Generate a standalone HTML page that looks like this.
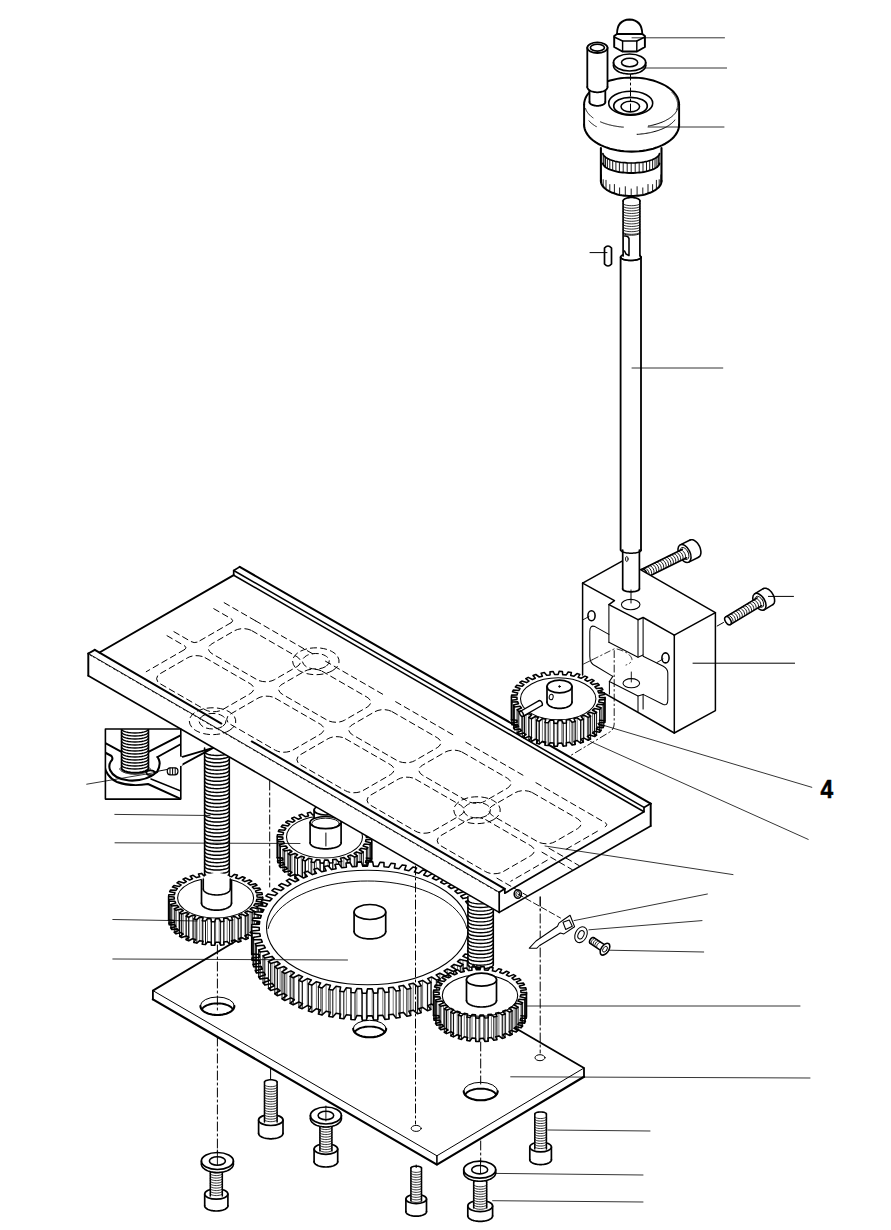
<!DOCTYPE html>
<html><head><meta charset="utf-8"><style>
html,body{margin:0;padding:0;background:#fff;}
svg{display:block;}
text{font-family:"Liberation Sans",sans-serif;}
</style></head><body>
<svg width="891" height="1230" viewBox="0 0 891 1230" stroke="#000" fill="none" stroke-linecap="round" stroke-linejoin="round">
<rect width="891" height="1230" fill="#fff" stroke="none"/>
<path d="M152.9 990.6 L300 902.8 L584 1068 L584 1076.8 L436.9 1164.6 L152.9 999.4Z" stroke-width="0.00" fill="#fff" stroke="none"/>
<path d="M152.9 999.4 L152.9 990.6 L300 902.8 L584 1068 L584 1076.8" stroke-width="1.82" fill="none" />
<path d="M152.9 999.4 L436.9 1164.6 L584 1076.8" stroke-width="2.21" fill="none" />
<path d="M152.9 990.6 L436.9 1155.8 L584 1068" stroke-width="1.00" fill="none" />
<line x1="436.9" y1="1155.8" x2="436.9" y2="1164.6" stroke-width="1.56" />
<ellipse cx="217.4" cy="1006" rx="17" ry="9" stroke-width="1.00" fill="none" />
<path d="M234.4 1006 L234.3 1006.7 L234.2 1007.4 L233.9 1008.1 L233.6 1008.8 L233.1 1009.4 L232.5 1010.1 L231.9 1010.7 L231.2 1011.3 L230.3 1011.8 L229.4 1012.4 L228.4 1012.8 L227.4 1013.3 L226.3 1013.7 L225.1 1014 L223.9 1014.3 L222.7 1014.6 L221.4 1014.8 L220.1 1014.9 L218.7 1015 L217.4 1015 L216.1 1015 L214.7 1014.9 L213.4 1014.8 L212.1 1014.6 L210.9 1014.3 L209.7 1014 L208.5 1013.7 L207.4 1013.3 L206.4 1012.8 L205.4 1012.4 L204.5 1011.8 L203.6 1011.3 L202.9 1010.7 L202.3 1010.1 L201.7 1009.4 L201.2 1008.8 L200.9 1008.1 L200.6 1007.4 L200.5 1006.7 L200.4 1006" stroke-width="2.08" fill="none" />
<path d="M201.9 1009.5 L202.2 1009 L202.5 1008.5 L202.9 1008 L203.3 1007.5 L203.9 1007 L204.5 1006.6 L205.1 1006.2 L205.8 1005.8 L206.6 1005.4 L207.4 1005.1 L208.3 1004.8 L209.2 1004.5 L210.1 1004.2 L211.1 1004 L212.1 1003.8 L213.1 1003.6 L214.2 1003.5 L215.2 1003.4 L216.3 1003.4 L217.4 1003.4 L218.5 1003.4 L219.6 1003.4 L220.6 1003.5 L221.7 1003.6 L222.7 1003.8 L223.7 1004 L224.7 1004.2 L225.6 1004.5 L226.5 1004.8 L227.4 1005.1 L228.2 1005.4 L229 1005.8 L229.7 1006.2 L230.3 1006.6 L230.9 1007 L231.5 1007.5 L231.9 1008 L232.3 1008.5 L232.6 1009 L232.9 1009.5" stroke-width="1.95" fill="none" />
<ellipse cx="369.7" cy="1028.8" rx="16.5" ry="8.5" stroke-width="1.00" fill="none" />
<path d="M386.2 1028.8 L386.1 1029.5 L386 1030.1 L385.7 1030.8 L385.4 1031.4 L384.9 1032.1 L384.4 1032.7 L383.8 1033.2 L383 1033.8 L382.2 1034.3 L381.4 1034.8 L380.4 1035.3 L379.4 1035.7 L378.3 1036 L377.2 1036.4 L376 1036.7 L374.8 1036.9 L373.6 1037.1 L372.3 1037.2 L371 1037.3 L369.7 1037.3 L368.4 1037.3 L367.1 1037.2 L365.8 1037.1 L364.6 1036.9 L363.4 1036.7 L362.2 1036.4 L361.1 1036 L360 1035.7 L359 1035.3 L358 1034.8 L357.2 1034.3 L356.4 1033.8 L355.6 1033.2 L355 1032.7 L354.5 1032.1 L354 1031.4 L353.7 1030.8 L353.4 1030.1 L353.3 1029.5 L353.2 1028.8" stroke-width="2.08" fill="none" />
<path d="M354.7 1032.4 L354.9 1031.9 L355.2 1031.4 L355.6 1030.9 L356 1030.5 L356.6 1030.1 L357.1 1029.7 L357.8 1029.3 L358.5 1028.9 L359.2 1028.5 L360 1028.2 L360.8 1027.9 L361.7 1027.6 L362.6 1027.4 L363.6 1027.2 L364.5 1027 L365.5 1026.8 L366.6 1026.7 L367.6 1026.6 L368.6 1026.6 L369.7 1026.6 L370.8 1026.6 L371.8 1026.6 L372.8 1026.7 L373.9 1026.8 L374.9 1027 L375.8 1027.2 L376.8 1027.4 L377.7 1027.6 L378.6 1027.9 L379.4 1028.2 L380.2 1028.5 L380.9 1028.9 L381.6 1029.3 L382.3 1029.7 L382.8 1030.1 L383.4 1030.5 L383.8 1030.9 L384.2 1031.4 L384.5 1031.9 L384.7 1032.4" stroke-width="1.95" fill="none" />
<ellipse cx="480.7" cy="1091.3" rx="17" ry="9" stroke-width="1.00" fill="none" />
<path d="M497.7 1091.3 L497.6 1092 L497.5 1092.7 L497.2 1093.4 L496.9 1094.1 L496.4 1094.7 L495.8 1095.4 L495.2 1096 L494.5 1096.6 L493.6 1097.1 L492.7 1097.7 L491.7 1098.1 L490.7 1098.6 L489.6 1099 L488.4 1099.3 L487.2 1099.6 L486 1099.9 L484.7 1100.1 L483.4 1100.2 L482 1100.3 L480.7 1100.3 L479.4 1100.3 L478 1100.2 L476.7 1100.1 L475.4 1099.9 L474.2 1099.6 L473 1099.3 L471.8 1099 L470.7 1098.6 L469.7 1098.1 L468.7 1097.7 L467.8 1097.1 L466.9 1096.6 L466.2 1096 L465.6 1095.4 L465 1094.7 L464.5 1094.1 L464.2 1093.4 L463.9 1092.7 L463.8 1092 L463.7 1091.3" stroke-width="2.08" fill="none" />
<path d="M465.2 1094.8 L465.5 1094.3 L465.8 1093.8 L466.2 1093.3 L466.6 1092.8 L467.2 1092.3 L467.8 1091.9 L468.4 1091.5 L469.1 1091.1 L469.9 1090.7 L470.7 1090.4 L471.6 1090.1 L472.5 1089.8 L473.4 1089.5 L474.4 1089.3 L475.4 1089.1 L476.4 1088.9 L477.5 1088.8 L478.5 1088.7 L479.6 1088.7 L480.7 1088.6 L481.8 1088.7 L482.9 1088.7 L483.9 1088.8 L485 1088.9 L486 1089.1 L487 1089.3 L488 1089.5 L488.9 1089.8 L489.8 1090.1 L490.7 1090.4 L491.5 1090.7 L492.3 1091.1 L493 1091.5 L493.6 1091.9 L494.2 1092.3 L494.8 1092.8 L495.2 1093.3 L495.6 1093.8 L495.9 1094.3 L496.2 1094.8" stroke-width="1.95" fill="none" />
<ellipse cx="416.2" cy="1128.4" rx="5" ry="3" stroke-width="1.00" fill="none" />
<ellipse cx="540" cy="1057.7" rx="5" ry="3" stroke-width="1.00" fill="none" />
<line x1="270.6" y1="1069" x2="270.6" y2="1079" stroke-width="1.00" />
<path d="M258.6 1120 L258.7 1119.4 L258.9 1118.9 L259.2 1118.3 L259.7 1117.8 L260.2 1117.3 L260.9 1116.8 L261.7 1116.3 L262.6 1115.9 L263.6 1115.6 L264.7 1115.2 L265.8 1115 L267 1114.8 L268.3 1114.6 L269.5 1114.5 L270.8 1114.5 L272.1 1114.5 L273.3 1114.6 L274.6 1114.8 L275.8 1115 L276.9 1115.2 L278 1115.6 L279 1115.9 L279.9 1116.3 L280.7 1116.8 L281.4 1117.3 L281.9 1117.8 L282.4 1118.3 L282.7 1118.9 L282.9 1119.4 L283 1120 L283 1133.3 L282.9 1133.9 L282.7 1134.5 L282.4 1135 L281.9 1135.5 L281.4 1136.1 L280.7 1136.5 L279.9 1137 L279 1137.4 L278 1137.8 L276.9 1138.1 L275.8 1138.3 L274.6 1138.5 L273.3 1138.7 L272.1 1138.8 L270.8 1138.8 L269.5 1138.8 L268.3 1138.7 L267 1138.5 L265.8 1138.3 L264.7 1138.1 L263.6 1137.8 L262.6 1137.4 L261.7 1137 L260.9 1136.5 L260.2 1136.1 L259.7 1135.5 L259.2 1135 L258.9 1134.5 L258.7 1133.9 L258.6 1133.3Z" stroke-width="0.00" fill="#fff" stroke="none"/>
<line x1="258.6" y1="1120" x2="258.6" y2="1133.3" stroke-width="1.69" />
<line x1="283" y1="1120" x2="283" y2="1133.3" stroke-width="1.69" />
<path d="M283 1133.3 L283 1133.7 L282.8 1134.2 L282.7 1134.6 L282.4 1135 L282.1 1135.4 L281.7 1135.8 L281.2 1136.2 L280.7 1136.5 L280.1 1136.9 L279.4 1137.2 L278.7 1137.5 L278 1137.8 L277.2 1138 L276.3 1138.2 L275.5 1138.4 L274.6 1138.5 L273.6 1138.6 L272.7 1138.7 L271.8 1138.8 L270.8 1138.8 L269.8 1138.8 L268.9 1138.7 L268 1138.6 L267 1138.5 L266.1 1138.4 L265.3 1138.2 L264.4 1138 L263.6 1137.8 L262.9 1137.5 L262.2 1137.2 L261.5 1136.9 L260.9 1136.5 L260.4 1136.2 L259.9 1135.8 L259.5 1135.4 L259.2 1135 L258.9 1134.6 L258.8 1134.2 L258.6 1133.7 L258.6 1133.3" stroke-width="1.69" fill="none" />
<ellipse cx="270.8" cy="1120" rx="12.2" ry="5.5" stroke-width="1.69" fill="#fff" />
<rect x="264.5" y="1082" width="12.6" height="40" fill="#fff" stroke="none"/>
<line x1="264.5" y1="1082" x2="264.5" y2="1122" stroke-width="1.56" />
<line x1="277.1" y1="1082" x2="277.1" y2="1122" stroke-width="1.56" />
<path d="M277.1 1084.6 L276.8 1085.2 L276.1 1085.7 L275.1 1086.1 L273.9 1086.4 L272.4 1086.6 L270.8 1086.7 L269.2 1086.6 L267.7 1086.4 L266.5 1086.1 L265.5 1085.7 L264.8 1085.2 L264.5 1084.6" stroke-width="0.80" fill="none" />
<path d="M277.1 1087.1 L276.8 1087.7 L276.1 1088.2 L275.1 1088.6 L273.9 1088.9 L272.4 1089.1 L270.8 1089.2 L269.2 1089.1 L267.7 1088.9 L266.5 1088.6 L265.5 1088.2 L264.8 1087.7 L264.5 1087.1" stroke-width="0.80" fill="none" />
<path d="M277.1 1089.6 L276.8 1090.2 L276.1 1090.7 L275.1 1091.1 L273.9 1091.4 L272.4 1091.6 L270.8 1091.7 L269.2 1091.6 L267.7 1091.4 L266.5 1091.1 L265.5 1090.7 L264.8 1090.2 L264.5 1089.6" stroke-width="0.80" fill="none" />
<path d="M277.1 1092.1 L276.8 1092.7 L276.1 1093.2 L275.1 1093.6 L273.9 1093.9 L272.4 1094.1 L270.8 1094.2 L269.2 1094.1 L267.7 1093.9 L266.5 1093.6 L265.5 1093.2 L264.8 1092.7 L264.5 1092.1" stroke-width="0.80" fill="none" />
<path d="M277.1 1094.6 L276.8 1095.2 L276.1 1095.7 L275.1 1096.1 L273.9 1096.4 L272.4 1096.6 L270.8 1096.7 L269.2 1096.6 L267.7 1096.4 L266.5 1096.1 L265.5 1095.7 L264.8 1095.2 L264.5 1094.6" stroke-width="0.80" fill="none" />
<path d="M277.1 1097.1 L276.8 1097.7 L276.1 1098.2 L275.1 1098.6 L273.9 1098.9 L272.4 1099.1 L270.8 1099.2 L269.2 1099.1 L267.7 1098.9 L266.5 1098.6 L265.5 1098.2 L264.8 1097.7 L264.5 1097.1" stroke-width="0.80" fill="none" />
<path d="M277.1 1099.6 L276.8 1100.2 L276.1 1100.7 L275.1 1101.1 L273.9 1101.4 L272.4 1101.6 L270.8 1101.7 L269.2 1101.6 L267.7 1101.4 L266.5 1101.1 L265.5 1100.7 L264.8 1100.2 L264.5 1099.6" stroke-width="0.80" fill="none" />
<path d="M277.1 1102.1 L276.8 1102.7 L276.1 1103.2 L275.1 1103.6 L273.9 1103.9 L272.4 1104.1 L270.8 1104.2 L269.2 1104.1 L267.7 1103.9 L266.5 1103.6 L265.5 1103.2 L264.8 1102.7 L264.5 1102.1" stroke-width="0.80" fill="none" />
<path d="M277.1 1104.6 L276.8 1105.2 L276.1 1105.7 L275.1 1106.1 L273.9 1106.4 L272.4 1106.6 L270.8 1106.7 L269.2 1106.6 L267.7 1106.4 L266.5 1106.1 L265.5 1105.7 L264.8 1105.2 L264.5 1104.6" stroke-width="0.80" fill="none" />
<path d="M277.1 1107.1 L276.8 1107.7 L276.1 1108.2 L275.1 1108.6 L273.9 1108.9 L272.4 1109.1 L270.8 1109.2 L269.2 1109.1 L267.7 1108.9 L266.5 1108.6 L265.5 1108.2 L264.8 1107.7 L264.5 1107.1" stroke-width="0.80" fill="none" />
<path d="M277.1 1109.6 L276.8 1110.2 L276.1 1110.7 L275.1 1111.1 L273.9 1111.4 L272.4 1111.6 L270.8 1111.7 L269.2 1111.6 L267.7 1111.4 L266.5 1111.1 L265.5 1110.7 L264.8 1110.2 L264.5 1109.6" stroke-width="0.80" fill="none" />
<path d="M277.1 1112.1 L276.8 1112.7 L276.1 1113.2 L275.1 1113.6 L273.9 1113.9 L272.4 1114.1 L270.8 1114.2 L269.2 1114.1 L267.7 1113.9 L266.5 1113.6 L265.5 1113.2 L264.8 1112.7 L264.5 1112.1" stroke-width="0.80" fill="none" />
<path d="M277.1 1114.6 L276.8 1115.2 L276.1 1115.7 L275.1 1116.1 L273.9 1116.4 L272.4 1116.6 L270.8 1116.7 L269.2 1116.6 L267.7 1116.4 L266.5 1116.1 L265.5 1115.7 L264.8 1115.2 L264.5 1114.6" stroke-width="0.80" fill="none" />
<path d="M277.1 1117.1 L276.8 1117.7 L276.1 1118.2 L275.1 1118.6 L273.9 1118.9 L272.4 1119.1 L270.8 1119.2 L269.2 1119.1 L267.7 1118.9 L266.5 1118.6 L265.5 1118.2 L264.8 1117.7 L264.5 1117.1" stroke-width="0.80" fill="none" />
<path d="M277.1 1119.6 L276.8 1120.2 L276.1 1120.7 L275.1 1121.1 L273.9 1121.4 L272.4 1121.6 L270.8 1121.7 L269.2 1121.6 L267.7 1121.4 L266.5 1121.1 L265.5 1120.7 L264.8 1120.2 L264.5 1119.6" stroke-width="0.80" fill="none" />
<path d="M264.5 1082 L264.6 1081.6 L265 1081.2 L265.6 1080.8 L266.3 1080.4 L267.3 1080.2 L268.4 1080 L269.6 1079.8 L270.8 1079.8 L272 1079.8 L273.2 1080 L274.3 1080.2 L275.3 1080.4 L276 1080.8 L276.6 1081.2 L277 1081.6 L277.1 1082" stroke-width="1.56" fill="none" />
<path d="M314.1 1149 L314.2 1148.4 L314.4 1147.9 L314.7 1147.4 L315.1 1146.8 L315.7 1146.3 L316.4 1145.9 L317.1 1145.4 L318 1145.1 L319 1144.7 L320 1144.4 L321.1 1144.1 L322.3 1143.9 L323.4 1143.8 L324.7 1143.7 L325.9 1143.7 L327.1 1143.7 L328.4 1143.8 L329.5 1143.9 L330.7 1144.1 L331.8 1144.4 L332.8 1144.7 L333.8 1145.1 L334.7 1145.4 L335.4 1145.9 L336.1 1146.3 L336.7 1146.8 L337.1 1147.4 L337.4 1147.9 L337.6 1148.4 L337.7 1149 L337.7 1161.7 L337.6 1162.2 L337.4 1162.8 L337.1 1163.3 L336.7 1163.8 L336.1 1164.3 L335.4 1164.8 L334.7 1165.2 L333.8 1165.6 L332.8 1166 L331.8 1166.3 L330.7 1166.5 L329.5 1166.7 L328.4 1166.9 L327.1 1167 L325.9 1167 L324.7 1167 L323.4 1166.9 L322.3 1166.7 L321.1 1166.5 L320 1166.3 L319 1166 L318 1165.6 L317.1 1165.2 L316.4 1164.8 L315.7 1164.3 L315.1 1163.8 L314.7 1163.3 L314.4 1162.8 L314.2 1162.2 L314.1 1161.7Z" stroke-width="0.00" fill="#fff" stroke="none"/>
<line x1="314.1" y1="1149" x2="314.1" y2="1161.7" stroke-width="1.69" />
<line x1="337.7" y1="1149" x2="337.7" y2="1161.7" stroke-width="1.69" />
<path d="M337.7 1161.7 L337.7 1162.1 L337.6 1162.5 L337.4 1162.9 L337.1 1163.3 L336.8 1163.7 L336.4 1164.1 L336 1164.5 L335.4 1164.8 L334.9 1165.1 L334.2 1165.4 L333.6 1165.7 L332.8 1166 L332.1 1166.2 L331.3 1166.4 L330.4 1166.6 L329.5 1166.7 L328.7 1166.9 L327.7 1166.9 L326.8 1167 L325.9 1167 L325 1167 L324.1 1166.9 L323.1 1166.9 L322.3 1166.7 L321.4 1166.6 L320.5 1166.4 L319.7 1166.2 L319 1166 L318.2 1165.7 L317.6 1165.4 L316.9 1165.1 L316.4 1164.8 L315.8 1164.5 L315.4 1164.1 L315 1163.7 L314.7 1163.3 L314.4 1162.9 L314.2 1162.5 L314.1 1162.1 L314.1 1161.7" stroke-width="1.69" fill="none" />
<ellipse cx="325.9" cy="1149" rx="11.8" ry="5.3" stroke-width="1.69" fill="#fff" />
<rect x="319.9" y="1120" width="12" height="31" fill="#fff" stroke="none"/>
<line x1="319.9" y1="1120" x2="319.9" y2="1151" stroke-width="1.56" />
<line x1="331.9" y1="1120" x2="331.9" y2="1151" stroke-width="1.56" />
<path d="M331.9 1122.6 L331.6 1123.1 L331 1123.6 L330 1124 L328.8 1124.3 L327.4 1124.5 L325.9 1124.6 L324.4 1124.5 L323 1124.3 L321.8 1124 L320.8 1123.6 L320.2 1123.1 L319.9 1122.6" stroke-width="0.80" fill="none" />
<path d="M331.9 1125.1 L331.6 1125.6 L331 1126.1 L330 1126.5 L328.8 1126.8 L327.4 1127 L325.9 1127.1 L324.4 1127 L323 1126.8 L321.8 1126.5 L320.8 1126.1 L320.2 1125.6 L319.9 1125.1" stroke-width="0.80" fill="none" />
<path d="M331.9 1127.6 L331.6 1128.1 L331 1128.6 L330 1129 L328.8 1129.3 L327.4 1129.5 L325.9 1129.6 L324.4 1129.5 L323 1129.3 L321.8 1129 L320.8 1128.6 L320.2 1128.1 L319.9 1127.6" stroke-width="0.80" fill="none" />
<path d="M331.9 1130.1 L331.6 1130.6 L331 1131.1 L330 1131.5 L328.8 1131.8 L327.4 1132 L325.9 1132.1 L324.4 1132 L323 1131.8 L321.8 1131.5 L320.8 1131.1 L320.2 1130.6 L319.9 1130.1" stroke-width="0.80" fill="none" />
<path d="M331.9 1132.6 L331.6 1133.1 L331 1133.6 L330 1134 L328.8 1134.3 L327.4 1134.5 L325.9 1134.6 L324.4 1134.5 L323 1134.3 L321.8 1134 L320.8 1133.6 L320.2 1133.1 L319.9 1132.6" stroke-width="0.80" fill="none" />
<path d="M331.9 1135.1 L331.6 1135.6 L331 1136.1 L330 1136.5 L328.8 1136.8 L327.4 1137 L325.9 1137.1 L324.4 1137 L323 1136.8 L321.8 1136.5 L320.8 1136.1 L320.2 1135.6 L319.9 1135.1" stroke-width="0.80" fill="none" />
<path d="M331.9 1137.6 L331.6 1138.1 L331 1138.6 L330 1139 L328.8 1139.3 L327.4 1139.5 L325.9 1139.6 L324.4 1139.5 L323 1139.3 L321.8 1139 L320.8 1138.6 L320.2 1138.1 L319.9 1137.6" stroke-width="0.80" fill="none" />
<path d="M331.9 1140.1 L331.6 1140.6 L331 1141.1 L330 1141.5 L328.8 1141.8 L327.4 1142 L325.9 1142.1 L324.4 1142 L323 1141.8 L321.8 1141.5 L320.8 1141.1 L320.2 1140.6 L319.9 1140.1" stroke-width="0.80" fill="none" />
<path d="M331.9 1142.6 L331.6 1143.1 L331 1143.6 L330 1144 L328.8 1144.3 L327.4 1144.5 L325.9 1144.6 L324.4 1144.5 L323 1144.3 L321.8 1144 L320.8 1143.6 L320.2 1143.1 L319.9 1142.6" stroke-width="0.80" fill="none" />
<path d="M331.9 1145.1 L331.6 1145.6 L331 1146.1 L330 1146.5 L328.8 1146.8 L327.4 1147 L325.9 1147.1 L324.4 1147 L323 1146.8 L321.8 1146.5 L320.8 1146.1 L320.2 1145.6 L319.9 1145.1" stroke-width="0.80" fill="none" />
<path d="M331.9 1147.6 L331.6 1148.1 L331 1148.6 L330 1149 L328.8 1149.3 L327.4 1149.5 L325.9 1149.6 L324.4 1149.5 L323 1149.3 L321.8 1149 L320.8 1148.6 L320.2 1148.1 L319.9 1147.6" stroke-width="0.80" fill="none" />
<path d="M331.9 1150.1 L331.6 1150.6 L331 1151.1 L330 1151.5 L328.8 1151.8 L327.4 1152 L325.9 1152.1 L324.4 1152 L323 1151.8 L321.8 1151.5 L320.8 1151.1 L320.2 1150.6 L319.9 1150.1" stroke-width="0.80" fill="none" />
<path d="M319.9 1120 L320 1119.6 L320.4 1119.2 L320.9 1118.8 L321.7 1118.5 L322.6 1118.3 L323.6 1118.1 L324.7 1117.9 L325.9 1117.9 L327.1 1117.9 L328.2 1118.1 L329.2 1118.3 L330.1 1118.5 L330.9 1118.8 L331.4 1119.2 L331.8 1119.6 L331.9 1120" stroke-width="1.56" fill="none" />
<path d="M310.4 1115.5 L310.5 1114.6 L310.7 1113.7 L311.2 1112.9 L311.7 1112 L312.5 1111.2 L313.4 1110.5 L314.4 1109.8 L315.5 1109.2 L316.8 1108.6 L318.1 1108.1 L319.6 1107.7 L321.1 1107.4 L322.7 1107.2 L324.3 1107 L325.9 1107 L327.5 1107 L329.1 1107.2 L330.7 1107.4 L332.2 1107.7 L333.6 1108.1 L335 1108.6 L336.3 1109.2 L337.4 1109.8 L338.4 1110.5 L339.3 1111.2 L340.1 1112 L340.6 1112.9 L341.1 1113.7 L341.3 1114.6 L341.4 1115.5 L341.4 1118.5 L341.3 1119.4 L341.1 1120.3 L340.6 1121.1 L340.1 1122 L339.3 1122.8 L338.4 1123.5 L337.4 1124.2 L336.3 1124.8 L335 1125.4 L333.6 1125.9 L332.2 1126.3 L330.7 1126.6 L329.1 1126.8 L327.5 1127 L325.9 1127 L324.3 1127 L322.7 1126.8 L321.1 1126.6 L319.6 1126.3 L318.1 1125.9 L316.8 1125.4 L315.5 1124.8 L314.4 1124.2 L313.4 1123.5 L312.5 1122.8 L311.7 1122 L311.2 1121.1 L310.7 1120.3 L310.5 1119.4 L310.4 1118.5Z" stroke-width="0.00" fill="#fff" stroke="none"/>
<ellipse cx="325.9" cy="1115.5" rx="15.5" ry="8.5" stroke-width="1.69" fill="#fff" />
<path d="M341.4 1118.5 L341.4 1119.2 L341.2 1119.8 L341 1120.5 L340.6 1121.1 L340.2 1121.8 L339.7 1122.4 L339.1 1122.9 L338.4 1123.5 L337.7 1124 L336.9 1124.5 L336 1125 L335 1125.4 L334 1125.7 L332.9 1126.1 L331.8 1126.4 L330.7 1126.6 L329.5 1126.8 L328.3 1126.9 L327.1 1127 L325.9 1127 L324.7 1127 L323.5 1126.9 L322.3 1126.8 L321.1 1126.6 L320 1126.4 L318.9 1126.1 L317.8 1125.7 L316.8 1125.4 L315.8 1125 L314.9 1124.5 L314.1 1124 L313.4 1123.5 L312.7 1122.9 L312.1 1122.4 L311.6 1121.8 L311.2 1121.1 L310.8 1120.5 L310.6 1119.8 L310.4 1119.2 L310.4 1118.5" stroke-width="1.56" fill="none" />
<line x1="310.4" y1="1115.5" x2="310.4" y2="1118.5" stroke-width="1.56" />
<line x1="341.4" y1="1115.5" x2="341.4" y2="1118.5" stroke-width="1.56" />
<ellipse cx="325.9" cy="1115.5" rx="7.8" ry="4.2" stroke-width="1.56" fill="none" />
<line x1="325.9" y1="1106" x2="325.9" y2="1121" stroke-width="0.90" />
<path d="M204.7 1194 L204.8 1193.5 L205 1192.9 L205.3 1192.4 L205.7 1191.9 L206.3 1191.4 L206.9 1190.9 L207.7 1190.5 L208.5 1190.1 L209.5 1189.8 L210.5 1189.5 L211.6 1189.2 L212.7 1189 L213.9 1188.9 L215.1 1188.8 L216.3 1188.8 L217.5 1188.8 L218.7 1188.9 L219.9 1189 L221 1189.2 L222.1 1189.5 L223.1 1189.8 L224.1 1190.1 L224.9 1190.5 L225.7 1190.9 L226.3 1191.4 L226.9 1191.9 L227.3 1192.4 L227.6 1192.9 L227.8 1193.5 L227.9 1194 L227.9 1205.8 L227.8 1206.3 L227.6 1206.9 L227.3 1207.4 L226.9 1207.9 L226.3 1208.4 L225.7 1208.8 L224.9 1209.3 L224.1 1209.7 L223.1 1210 L222.1 1210.3 L221 1210.5 L219.9 1210.7 L218.7 1210.9 L217.5 1211 L216.3 1211 L215.1 1211 L213.9 1210.9 L212.7 1210.7 L211.6 1210.5 L210.5 1210.3 L209.5 1210 L208.5 1209.7 L207.7 1209.3 L206.9 1208.8 L206.3 1208.4 L205.7 1207.9 L205.3 1207.4 L205 1206.9 L204.8 1206.3 L204.7 1205.8Z" stroke-width="0.00" fill="#fff" stroke="none"/>
<line x1="204.7" y1="1194" x2="204.7" y2="1205.8" stroke-width="1.69" />
<line x1="227.9" y1="1194" x2="227.9" y2="1205.8" stroke-width="1.69" />
<path d="M227.9 1205.8 L227.9 1206.2 L227.8 1206.6 L227.6 1207 L227.3 1207.4 L227 1207.8 L226.6 1208.1 L226.2 1208.5 L225.7 1208.8 L225.1 1209.2 L224.5 1209.5 L223.8 1209.7 L223.1 1210 L222.4 1210.2 L221.6 1210.4 L220.7 1210.6 L219.9 1210.7 L219 1210.9 L218.1 1210.9 L217.2 1211 L216.3 1211 L215.4 1211 L214.5 1210.9 L213.6 1210.9 L212.7 1210.7 L211.9 1210.6 L211 1210.4 L210.2 1210.2 L209.5 1210 L208.8 1209.7 L208.1 1209.5 L207.5 1209.2 L206.9 1208.8 L206.4 1208.5 L206 1208.1 L205.6 1207.8 L205.3 1207.4 L205 1207 L204.8 1206.6 L204.7 1206.2 L204.7 1205.8" stroke-width="1.69" fill="none" />
<ellipse cx="216.3" cy="1194" rx="11.6" ry="5.2" stroke-width="1.69" fill="#fff" />
<rect x="210.3" y="1166" width="12" height="30" fill="#fff" stroke="none"/>
<line x1="210.3" y1="1166" x2="210.3" y2="1196" stroke-width="1.56" />
<line x1="222.3" y1="1166" x2="222.3" y2="1196" stroke-width="1.56" />
<path d="M222.3 1168.6 L222 1169.1 L221.4 1169.6 L220.4 1170 L219.2 1170.3 L217.8 1170.5 L216.3 1170.6 L214.8 1170.5 L213.4 1170.3 L212.2 1170 L211.2 1169.6 L210.6 1169.1 L210.3 1168.6" stroke-width="0.80" fill="none" />
<path d="M222.3 1171.1 L222 1171.6 L221.4 1172.1 L220.4 1172.5 L219.2 1172.8 L217.8 1173 L216.3 1173.1 L214.8 1173 L213.4 1172.8 L212.2 1172.5 L211.2 1172.1 L210.6 1171.6 L210.3 1171.1" stroke-width="0.80" fill="none" />
<path d="M222.3 1173.6 L222 1174.1 L221.4 1174.6 L220.4 1175 L219.2 1175.3 L217.8 1175.5 L216.3 1175.6 L214.8 1175.5 L213.4 1175.3 L212.2 1175 L211.2 1174.6 L210.6 1174.1 L210.3 1173.6" stroke-width="0.80" fill="none" />
<path d="M222.3 1176.1 L222 1176.6 L221.4 1177.1 L220.4 1177.5 L219.2 1177.8 L217.8 1178 L216.3 1178.1 L214.8 1178 L213.4 1177.8 L212.2 1177.5 L211.2 1177.1 L210.6 1176.6 L210.3 1176.1" stroke-width="0.80" fill="none" />
<path d="M222.3 1178.6 L222 1179.1 L221.4 1179.6 L220.4 1180 L219.2 1180.3 L217.8 1180.5 L216.3 1180.6 L214.8 1180.5 L213.4 1180.3 L212.2 1180 L211.2 1179.6 L210.6 1179.1 L210.3 1178.6" stroke-width="0.80" fill="none" />
<path d="M222.3 1181.1 L222 1181.6 L221.4 1182.1 L220.4 1182.5 L219.2 1182.8 L217.8 1183 L216.3 1183.1 L214.8 1183 L213.4 1182.8 L212.2 1182.5 L211.2 1182.1 L210.6 1181.6 L210.3 1181.1" stroke-width="0.80" fill="none" />
<path d="M222.3 1183.6 L222 1184.1 L221.4 1184.6 L220.4 1185 L219.2 1185.3 L217.8 1185.5 L216.3 1185.6 L214.8 1185.5 L213.4 1185.3 L212.2 1185 L211.2 1184.6 L210.6 1184.1 L210.3 1183.6" stroke-width="0.80" fill="none" />
<path d="M222.3 1186.1 L222 1186.6 L221.4 1187.1 L220.4 1187.5 L219.2 1187.8 L217.8 1188 L216.3 1188.1 L214.8 1188 L213.4 1187.8 L212.2 1187.5 L211.2 1187.1 L210.6 1186.6 L210.3 1186.1" stroke-width="0.80" fill="none" />
<path d="M222.3 1188.6 L222 1189.1 L221.4 1189.6 L220.4 1190 L219.2 1190.3 L217.8 1190.5 L216.3 1190.6 L214.8 1190.5 L213.4 1190.3 L212.2 1190 L211.2 1189.6 L210.6 1189.1 L210.3 1188.6" stroke-width="0.80" fill="none" />
<path d="M222.3 1191.1 L222 1191.6 L221.4 1192.1 L220.4 1192.5 L219.2 1192.8 L217.8 1193 L216.3 1193.1 L214.8 1193 L213.4 1192.8 L212.2 1192.5 L211.2 1192.1 L210.6 1191.6 L210.3 1191.1" stroke-width="0.80" fill="none" />
<path d="M222.3 1193.6 L222 1194.1 L221.4 1194.6 L220.4 1195 L219.2 1195.3 L217.8 1195.5 L216.3 1195.6 L214.8 1195.5 L213.4 1195.3 L212.2 1195 L211.2 1194.6 L210.6 1194.1 L210.3 1193.6" stroke-width="0.80" fill="none" />
<path d="M210.3 1166 L210.4 1165.6 L210.8 1165.2 L211.3 1164.8 L212.1 1164.5 L213 1164.3 L214 1164.1 L215.1 1163.9 L216.3 1163.9 L217.5 1163.9 L218.6 1164.1 L219.6 1164.3 L220.5 1164.5 L221.3 1164.8 L221.8 1165.2 L222.2 1165.6 L222.3 1166" stroke-width="1.56" fill="none" />
<path d="M201.4 1161 L201.5 1160.1 L201.7 1159.2 L202.2 1158.4 L202.8 1157.5 L203.5 1156.8 L204.5 1156 L205.5 1155.3 L206.7 1154.7 L208 1154.1 L209.4 1153.6 L210.9 1153.2 L212.5 1152.9 L214.1 1152.7 L215.7 1152.5 L217.4 1152.5 L219.1 1152.5 L220.7 1152.7 L222.3 1152.9 L223.9 1153.2 L225.4 1153.6 L226.8 1154.1 L228.1 1154.7 L229.3 1155.3 L230.3 1156 L231.3 1156.8 L232 1157.5 L232.6 1158.4 L233.1 1159.2 L233.3 1160.1 L233.4 1161 L233.4 1164 L233.3 1164.9 L233.1 1165.8 L232.6 1166.6 L232 1167.5 L231.3 1168.2 L230.3 1169 L229.3 1169.7 L228.1 1170.3 L226.8 1170.9 L225.4 1171.4 L223.9 1171.8 L222.3 1172.1 L220.7 1172.3 L219.1 1172.5 L217.4 1172.5 L215.7 1172.5 L214.1 1172.3 L212.5 1172.1 L210.9 1171.8 L209.4 1171.4 L208 1170.9 L206.7 1170.3 L205.5 1169.7 L204.5 1169 L203.5 1168.2 L202.8 1167.5 L202.2 1166.6 L201.7 1165.8 L201.5 1164.9 L201.4 1164Z" stroke-width="0.00" fill="#fff" stroke="none"/>
<ellipse cx="217.4" cy="1161" rx="16" ry="8.5" stroke-width="1.69" fill="#fff" />
<path d="M233.4 1164 L233.4 1164.7 L233.2 1165.3 L233 1166 L232.6 1166.6 L232.2 1167.3 L231.7 1167.9 L231 1168.4 L230.3 1169 L229.6 1169.5 L228.7 1170 L227.8 1170.5 L226.8 1170.9 L225.8 1171.2 L224.7 1171.6 L223.5 1171.9 L222.3 1172.1 L221.1 1172.3 L219.9 1172.4 L218.7 1172.5 L217.4 1172.5 L216.1 1172.5 L214.9 1172.4 L213.7 1172.3 L212.5 1172.1 L211.3 1171.9 L210.1 1171.6 L209 1171.2 L208 1170.9 L207 1170.5 L206.1 1170 L205.2 1169.5 L204.5 1169 L203.8 1168.4 L203.1 1167.9 L202.6 1167.3 L202.2 1166.6 L201.8 1166 L201.6 1165.3 L201.4 1164.7 L201.4 1164" stroke-width="1.56" fill="none" />
<line x1="201.4" y1="1161" x2="201.4" y2="1164" stroke-width="1.56" />
<line x1="233.4" y1="1161" x2="233.4" y2="1164" stroke-width="1.56" />
<ellipse cx="217.4" cy="1161" rx="8" ry="4.2" stroke-width="1.56" fill="none" />
<line x1="217.4" y1="1150" x2="217.4" y2="1165" stroke-width="0.90" />
<line x1="416.2" y1="1165" x2="416.2" y2="1172" stroke-width="1.00" />
<path d="M405.9 1199 L406 1198.5 L406.1 1198 L406.4 1197.6 L406.8 1197.1 L407.3 1196.7 L407.9 1196.3 L408.5 1195.9 L409.3 1195.6 L410.1 1195.3 L411.1 1195 L412 1194.8 L413 1194.6 L414.1 1194.5 L415.1 1194.4 L416.2 1194.4 L417.3 1194.4 L418.3 1194.5 L419.4 1194.6 L420.4 1194.8 L421.3 1195 L422.3 1195.3 L423.1 1195.6 L423.9 1195.9 L424.5 1196.3 L425.1 1196.7 L425.6 1197.1 L426 1197.6 L426.3 1198 L426.4 1198.5 L426.5 1199 L426.5 1211.6 L426.4 1212 L426.3 1212.5 L426 1213 L425.6 1213.5 L425.1 1213.9 L424.5 1214.3 L423.9 1214.7 L423.1 1215 L422.3 1215.3 L421.3 1215.6 L420.4 1215.8 L419.4 1216 L418.3 1216.1 L417.3 1216.2 L416.2 1216.2 L415.1 1216.2 L414.1 1216.1 L413 1216 L412 1215.8 L411.1 1215.6 L410.1 1215.3 L409.3 1215 L408.5 1214.7 L407.9 1214.3 L407.3 1213.9 L406.8 1213.5 L406.4 1213 L406.1 1212.5 L406 1212 L405.9 1211.6Z" stroke-width="0.00" fill="#fff" stroke="none"/>
<line x1="405.9" y1="1199" x2="405.9" y2="1211.6" stroke-width="1.69" />
<line x1="426.5" y1="1199" x2="426.5" y2="1211.6" stroke-width="1.69" />
<path d="M426.5 1211.6 L426.5 1211.9 L426.4 1212.3 L426.2 1212.6 L426 1213 L425.7 1213.3 L425.4 1213.7 L425 1214 L424.5 1214.3 L424 1214.6 L423.5 1214.8 L422.9 1215.1 L422.3 1215.3 L421.6 1215.5 L420.9 1215.7 L420.1 1215.8 L419.4 1216 L418.6 1216.1 L417.8 1216.1 L417 1216.2 L416.2 1216.2 L415.4 1216.2 L414.6 1216.1 L413.8 1216.1 L413 1216 L412.3 1215.8 L411.5 1215.7 L410.8 1215.5 L410.1 1215.3 L409.5 1215.1 L408.9 1214.8 L408.4 1214.6 L407.9 1214.3 L407.4 1214 L407 1213.7 L406.7 1213.3 L406.4 1213 L406.2 1212.6 L406 1212.3 L405.9 1211.9 L405.9 1211.6" stroke-width="1.69" fill="none" />
<ellipse cx="416.2" cy="1199" rx="10.3" ry="4.6" stroke-width="1.69" fill="#fff" />
<rect x="410.9" y="1168" width="10.6" height="33" fill="#fff" stroke="none"/>
<line x1="410.9" y1="1168" x2="410.9" y2="1201" stroke-width="1.56" />
<line x1="421.5" y1="1168" x2="421.5" y2="1201" stroke-width="1.56" />
<path d="M421.5 1170.6 L421.3 1171.1 L420.7 1171.5 L419.9 1171.8 L418.8 1172.1 L417.5 1172.3 L416.2 1172.4 L414.9 1172.3 L413.6 1172.1 L412.5 1171.8 L411.7 1171.5 L411.1 1171.1 L410.9 1170.6" stroke-width="0.80" fill="none" />
<path d="M421.5 1173.1 L421.3 1173.6 L420.7 1174 L419.9 1174.3 L418.8 1174.6 L417.5 1174.8 L416.2 1174.9 L414.9 1174.8 L413.6 1174.6 L412.5 1174.3 L411.7 1174 L411.1 1173.6 L410.9 1173.1" stroke-width="0.80" fill="none" />
<path d="M421.5 1175.6 L421.3 1176.1 L420.7 1176.5 L419.9 1176.8 L418.8 1177.1 L417.5 1177.3 L416.2 1177.4 L414.9 1177.3 L413.6 1177.1 L412.5 1176.8 L411.7 1176.5 L411.1 1176.1 L410.9 1175.6" stroke-width="0.80" fill="none" />
<path d="M421.5 1178.1 L421.3 1178.6 L420.7 1179 L419.9 1179.3 L418.8 1179.6 L417.5 1179.8 L416.2 1179.9 L414.9 1179.8 L413.6 1179.6 L412.5 1179.3 L411.7 1179 L411.1 1178.6 L410.9 1178.1" stroke-width="0.80" fill="none" />
<path d="M421.5 1180.6 L421.3 1181.1 L420.7 1181.5 L419.9 1181.8 L418.8 1182.1 L417.5 1182.3 L416.2 1182.4 L414.9 1182.3 L413.6 1182.1 L412.5 1181.8 L411.7 1181.5 L411.1 1181.1 L410.9 1180.6" stroke-width="0.80" fill="none" />
<path d="M421.5 1183.1 L421.3 1183.6 L420.7 1184 L419.9 1184.3 L418.8 1184.6 L417.5 1184.8 L416.2 1184.9 L414.9 1184.8 L413.6 1184.6 L412.5 1184.3 L411.7 1184 L411.1 1183.6 L410.9 1183.1" stroke-width="0.80" fill="none" />
<path d="M421.5 1185.6 L421.3 1186.1 L420.7 1186.5 L419.9 1186.8 L418.8 1187.1 L417.5 1187.3 L416.2 1187.4 L414.9 1187.3 L413.6 1187.1 L412.5 1186.8 L411.7 1186.5 L411.1 1186.1 L410.9 1185.6" stroke-width="0.80" fill="none" />
<path d="M421.5 1188.1 L421.3 1188.6 L420.7 1189 L419.9 1189.3 L418.8 1189.6 L417.5 1189.8 L416.2 1189.9 L414.9 1189.8 L413.6 1189.6 L412.5 1189.3 L411.7 1189 L411.1 1188.6 L410.9 1188.1" stroke-width="0.80" fill="none" />
<path d="M421.5 1190.6 L421.3 1191.1 L420.7 1191.5 L419.9 1191.8 L418.8 1192.1 L417.5 1192.3 L416.2 1192.4 L414.9 1192.3 L413.6 1192.1 L412.5 1191.8 L411.7 1191.5 L411.1 1191.1 L410.9 1190.6" stroke-width="0.80" fill="none" />
<path d="M421.5 1193.1 L421.3 1193.6 L420.7 1194 L419.9 1194.3 L418.8 1194.6 L417.5 1194.8 L416.2 1194.9 L414.9 1194.8 L413.6 1194.6 L412.5 1194.3 L411.7 1194 L411.1 1193.6 L410.9 1193.1" stroke-width="0.80" fill="none" />
<path d="M421.5 1195.6 L421.3 1196.1 L420.7 1196.5 L419.9 1196.8 L418.8 1197.1 L417.5 1197.3 L416.2 1197.4 L414.9 1197.3 L413.6 1197.1 L412.5 1196.8 L411.7 1196.5 L411.1 1196.1 L410.9 1195.6" stroke-width="0.80" fill="none" />
<path d="M421.5 1198.1 L421.3 1198.6 L420.7 1199 L419.9 1199.3 L418.8 1199.6 L417.5 1199.8 L416.2 1199.9 L414.9 1199.8 L413.6 1199.6 L412.5 1199.3 L411.7 1199 L411.1 1198.6 L410.9 1198.1" stroke-width="0.80" fill="none" />
<path d="M421.5 1200.6 L421.3 1201.1 L420.7 1201.5 L419.9 1201.8 L418.8 1202.1 L417.5 1202.3 L416.2 1202.4 L414.9 1202.3 L413.6 1202.1 L412.5 1201.8 L411.7 1201.5 L411.1 1201.1 L410.9 1200.6" stroke-width="0.80" fill="none" />
<path d="M410.9 1168 L411 1167.6 L411.3 1167.3 L411.8 1167 L412.5 1166.7 L413.3 1166.5 L414.2 1166.3 L415.2 1166.2 L416.2 1166.1 L417.2 1166.2 L418.2 1166.3 L419.1 1166.5 L419.9 1166.7 L420.6 1167 L421.1 1167.3 L421.4 1167.6 L421.5 1168" stroke-width="1.56" fill="none" />
<path d="M529.8 1147 L529.9 1146.5 L530 1146 L530.3 1145.5 L530.7 1145 L531.2 1144.6 L531.9 1144.1 L532.6 1143.7 L533.4 1143.4 L534.3 1143.1 L535.2 1142.8 L536.2 1142.6 L537.3 1142.4 L538.4 1142.2 L539.5 1142.2 L540.6 1142.1 L541.7 1142.2 L542.8 1142.2 L543.9 1142.4 L545 1142.6 L546 1142.8 L546.9 1143.1 L547.8 1143.4 L548.6 1143.7 L549.3 1144.1 L550 1144.6 L550.5 1145 L550.9 1145.5 L551.2 1146 L551.3 1146.5 L551.4 1147 L551.4 1159.7 L551.3 1160.2 L551.2 1160.8 L550.9 1161.2 L550.5 1161.7 L550 1162.2 L549.3 1162.6 L548.6 1163 L547.8 1163.4 L546.9 1163.7 L546 1163.9 L545 1164.2 L543.9 1164.4 L542.8 1164.5 L541.7 1164.6 L540.6 1164.6 L539.5 1164.6 L538.4 1164.5 L537.3 1164.4 L536.2 1164.2 L535.2 1163.9 L534.3 1163.7 L533.4 1163.4 L532.6 1163 L531.9 1162.6 L531.2 1162.2 L530.7 1161.7 L530.3 1161.2 L530 1160.8 L529.9 1160.2 L529.8 1159.7Z" stroke-width="0.00" fill="#fff" stroke="none"/>
<line x1="529.8" y1="1147" x2="529.8" y2="1159.7" stroke-width="1.69" />
<line x1="551.4" y1="1147" x2="551.4" y2="1159.7" stroke-width="1.69" />
<path d="M551.4 1159.7 L551.4 1160.1 L551.3 1160.5 L551.1 1160.9 L550.9 1161.2 L550.6 1161.6 L550.2 1161.9 L549.8 1162.3 L549.3 1162.6 L548.8 1162.9 L548.2 1163.2 L547.6 1163.4 L546.9 1163.7 L546.2 1163.9 L545.5 1164.1 L544.7 1164.2 L543.9 1164.4 L543.1 1164.5 L542.3 1164.5 L541.4 1164.6 L540.6 1164.6 L539.8 1164.6 L538.9 1164.5 L538.1 1164.5 L537.3 1164.4 L536.5 1164.2 L535.7 1164.1 L535 1163.9 L534.3 1163.7 L533.6 1163.4 L533 1163.2 L532.4 1162.9 L531.9 1162.6 L531.4 1162.3 L531 1161.9 L530.6 1161.6 L530.3 1161.2 L530.1 1160.9 L529.9 1160.5 L529.8 1160.1 L529.8 1159.7" stroke-width="1.69" fill="none" />
<ellipse cx="540.6" cy="1147" rx="10.8" ry="4.9" stroke-width="1.69" fill="#fff" />
<rect x="534.8" y="1114" width="11.6" height="35" fill="#fff" stroke="none"/>
<line x1="534.8" y1="1114" x2="534.8" y2="1149" stroke-width="1.56" />
<line x1="546.4" y1="1114" x2="546.4" y2="1149" stroke-width="1.56" />
<path d="M546.4 1116.6 L546.1 1117.1 L545.5 1117.6 L544.6 1118 L543.4 1118.3 L542.1 1118.5 L540.6 1118.5 L539.1 1118.5 L537.8 1118.3 L536.6 1118 L535.7 1117.6 L535.1 1117.1 L534.8 1116.6" stroke-width="0.80" fill="none" />
<path d="M546.4 1119.1 L546.1 1119.6 L545.5 1120.1 L544.6 1120.5 L543.4 1120.8 L542.1 1121 L540.6 1121 L539.1 1121 L537.8 1120.8 L536.6 1120.5 L535.7 1120.1 L535.1 1119.6 L534.8 1119.1" stroke-width="0.80" fill="none" />
<path d="M546.4 1121.6 L546.1 1122.1 L545.5 1122.6 L544.6 1123 L543.4 1123.3 L542.1 1123.5 L540.6 1123.5 L539.1 1123.5 L537.8 1123.3 L536.6 1123 L535.7 1122.6 L535.1 1122.1 L534.8 1121.6" stroke-width="0.80" fill="none" />
<path d="M546.4 1124.1 L546.1 1124.6 L545.5 1125.1 L544.6 1125.5 L543.4 1125.8 L542.1 1126 L540.6 1126 L539.1 1126 L537.8 1125.8 L536.6 1125.5 L535.7 1125.1 L535.1 1124.6 L534.8 1124.1" stroke-width="0.80" fill="none" />
<path d="M546.4 1126.6 L546.1 1127.1 L545.5 1127.6 L544.6 1128 L543.4 1128.3 L542.1 1128.5 L540.6 1128.5 L539.1 1128.5 L537.8 1128.3 L536.6 1128 L535.7 1127.6 L535.1 1127.1 L534.8 1126.6" stroke-width="0.80" fill="none" />
<path d="M546.4 1129.1 L546.1 1129.6 L545.5 1130.1 L544.6 1130.5 L543.4 1130.8 L542.1 1131 L540.6 1131 L539.1 1131 L537.8 1130.8 L536.6 1130.5 L535.7 1130.1 L535.1 1129.6 L534.8 1129.1" stroke-width="0.80" fill="none" />
<path d="M546.4 1131.6 L546.1 1132.1 L545.5 1132.6 L544.6 1133 L543.4 1133.3 L542.1 1133.5 L540.6 1133.5 L539.1 1133.5 L537.8 1133.3 L536.6 1133 L535.7 1132.6 L535.1 1132.1 L534.8 1131.6" stroke-width="0.80" fill="none" />
<path d="M546.4 1134.1 L546.1 1134.6 L545.5 1135.1 L544.6 1135.5 L543.4 1135.8 L542.1 1136 L540.6 1136 L539.1 1136 L537.8 1135.8 L536.6 1135.5 L535.7 1135.1 L535.1 1134.6 L534.8 1134.1" stroke-width="0.80" fill="none" />
<path d="M546.4 1136.6 L546.1 1137.1 L545.5 1137.6 L544.6 1138 L543.4 1138.3 L542.1 1138.5 L540.6 1138.5 L539.1 1138.5 L537.8 1138.3 L536.6 1138 L535.7 1137.6 L535.1 1137.1 L534.8 1136.6" stroke-width="0.80" fill="none" />
<path d="M546.4 1139.1 L546.1 1139.6 L545.5 1140.1 L544.6 1140.5 L543.4 1140.8 L542.1 1141 L540.6 1141 L539.1 1141 L537.8 1140.8 L536.6 1140.5 L535.7 1140.1 L535.1 1139.6 L534.8 1139.1" stroke-width="0.80" fill="none" />
<path d="M546.4 1141.6 L546.1 1142.1 L545.5 1142.6 L544.6 1143 L543.4 1143.3 L542.1 1143.5 L540.6 1143.5 L539.1 1143.5 L537.8 1143.3 L536.6 1143 L535.7 1142.6 L535.1 1142.1 L534.8 1141.6" stroke-width="0.80" fill="none" />
<path d="M546.4 1144.1 L546.1 1144.6 L545.5 1145.1 L544.6 1145.5 L543.4 1145.8 L542.1 1146 L540.6 1146 L539.1 1146 L537.8 1145.8 L536.6 1145.5 L535.7 1145.1 L535.1 1144.6 L534.8 1144.1" stroke-width="0.80" fill="none" />
<path d="M546.4 1146.6 L546.1 1147.1 L545.5 1147.6 L544.6 1148 L543.4 1148.3 L542.1 1148.5 L540.6 1148.5 L539.1 1148.5 L537.8 1148.3 L536.6 1148 L535.7 1147.6 L535.1 1147.1 L534.8 1146.6" stroke-width="0.80" fill="none" />
<path d="M534.8 1114 L534.9 1113.6 L535.2 1113.2 L535.8 1112.9 L536.5 1112.6 L537.4 1112.3 L538.4 1112.1 L539.5 1112 L540.6 1112 L541.7 1112 L542.8 1112.1 L543.8 1112.3 L544.7 1112.6 L545.4 1112.9 L546 1113.2 L546.3 1113.6 L546.4 1114" stroke-width="1.56" fill="none" />
<path d="M467.8 1206 L467.9 1205.4 L468.1 1204.8 L468.4 1204.3 L468.9 1203.7 L469.5 1203.2 L470.2 1202.7 L471 1202.3 L471.9 1201.9 L472.9 1201.5 L474 1201.2 L475.2 1200.9 L476.4 1200.7 L477.6 1200.5 L478.9 1200.5 L480.2 1200.4 L481.5 1200.5 L482.8 1200.5 L484 1200.7 L485.2 1200.9 L486.4 1201.2 L487.5 1201.5 L488.5 1201.9 L489.4 1202.3 L490.2 1202.7 L490.9 1203.2 L491.5 1203.7 L492 1204.3 L492.3 1204.8 L492.5 1205.4 L492.6 1206 L492.6 1215.8 L492.5 1216.4 L492.3 1217 L492 1217.5 L491.5 1218.1 L490.9 1218.6 L490.2 1219.1 L489.4 1219.6 L488.5 1220 L487.5 1220.3 L486.4 1220.7 L485.2 1220.9 L484 1221.1 L482.8 1221.3 L481.5 1221.4 L480.2 1221.4 L478.9 1221.4 L477.6 1221.3 L476.4 1221.1 L475.2 1220.9 L474 1220.7 L472.9 1220.3 L471.9 1220 L471 1219.6 L470.2 1219.1 L469.5 1218.6 L468.9 1218.1 L468.4 1217.5 L468.1 1217 L467.9 1216.4 L467.8 1215.8Z" stroke-width="0.00" fill="#fff" stroke="none"/>
<line x1="467.8" y1="1206" x2="467.8" y2="1215.8" stroke-width="1.69" />
<line x1="492.6" y1="1206" x2="492.6" y2="1215.8" stroke-width="1.69" />
<path d="M492.6 1215.8 L492.6 1216.3 L492.4 1216.7 L492.3 1217.1 L492 1217.5 L491.7 1218 L491.2 1218.4 L490.8 1218.7 L490.2 1219.1 L489.6 1219.4 L489 1219.8 L488.3 1220.1 L487.5 1220.3 L486.7 1220.6 L485.8 1220.8 L484.9 1221 L484 1221.1 L483.1 1221.2 L482.1 1221.3 L481.2 1221.4 L480.2 1221.4 L479.2 1221.4 L478.3 1221.3 L477.3 1221.2 L476.4 1221.1 L475.5 1221 L474.6 1220.8 L473.7 1220.6 L472.9 1220.3 L472.1 1220.1 L471.4 1219.8 L470.8 1219.4 L470.2 1219.1 L469.6 1218.7 L469.2 1218.4 L468.7 1218 L468.4 1217.5 L468.1 1217.1 L468 1216.7 L467.8 1216.3 L467.8 1215.8" stroke-width="1.69" fill="none" />
<ellipse cx="480.2" cy="1206" rx="12.4" ry="5.6" stroke-width="1.69" fill="#fff" />
<rect x="473.7" y="1182" width="13" height="26" fill="#fff" stroke="none"/>
<line x1="473.7" y1="1182" x2="473.7" y2="1208" stroke-width="1.56" />
<line x1="486.7" y1="1182" x2="486.7" y2="1208" stroke-width="1.56" />
<path d="M486.7 1184.6 L486.4 1185.2 L485.7 1185.7 L484.7 1186.1 L483.4 1186.5 L481.8 1186.7 L480.2 1186.8 L478.6 1186.7 L477 1186.5 L475.7 1186.1 L474.7 1185.7 L474 1185.2 L473.7 1184.6" stroke-width="0.80" fill="none" />
<path d="M486.7 1187.1 L486.4 1187.7 L485.7 1188.2 L484.7 1188.6 L483.4 1189 L481.8 1189.2 L480.2 1189.3 L478.6 1189.2 L477 1189 L475.7 1188.6 L474.7 1188.2 L474 1187.7 L473.7 1187.1" stroke-width="0.80" fill="none" />
<path d="M486.7 1189.6 L486.4 1190.2 L485.7 1190.7 L484.7 1191.1 L483.4 1191.5 L481.8 1191.7 L480.2 1191.8 L478.6 1191.7 L477 1191.5 L475.7 1191.1 L474.7 1190.7 L474 1190.2 L473.7 1189.6" stroke-width="0.80" fill="none" />
<path d="M486.7 1192.1 L486.4 1192.7 L485.7 1193.2 L484.7 1193.6 L483.4 1194 L481.8 1194.2 L480.2 1194.3 L478.6 1194.2 L477 1194 L475.7 1193.6 L474.7 1193.2 L474 1192.7 L473.7 1192.1" stroke-width="0.80" fill="none" />
<path d="M486.7 1194.6 L486.4 1195.2 L485.7 1195.7 L484.7 1196.1 L483.4 1196.5 L481.8 1196.7 L480.2 1196.8 L478.6 1196.7 L477 1196.5 L475.7 1196.1 L474.7 1195.7 L474 1195.2 L473.7 1194.6" stroke-width="0.80" fill="none" />
<path d="M486.7 1197.1 L486.4 1197.7 L485.7 1198.2 L484.7 1198.6 L483.4 1199 L481.8 1199.2 L480.2 1199.3 L478.6 1199.2 L477 1199 L475.7 1198.6 L474.7 1198.2 L474 1197.7 L473.7 1197.1" stroke-width="0.80" fill="none" />
<path d="M486.7 1199.6 L486.4 1200.2 L485.7 1200.7 L484.7 1201.1 L483.4 1201.5 L481.8 1201.7 L480.2 1201.8 L478.6 1201.7 L477 1201.5 L475.7 1201.1 L474.7 1200.7 L474 1200.2 L473.7 1199.6" stroke-width="0.80" fill="none" />
<path d="M486.7 1202.1 L486.4 1202.7 L485.7 1203.2 L484.7 1203.6 L483.4 1204 L481.8 1204.2 L480.2 1204.3 L478.6 1204.2 L477 1204 L475.7 1203.6 L474.7 1203.2 L474 1202.7 L473.7 1202.1" stroke-width="0.80" fill="none" />
<path d="M486.7 1204.6 L486.4 1205.2 L485.7 1205.7 L484.7 1206.1 L483.4 1206.5 L481.8 1206.7 L480.2 1206.8 L478.6 1206.7 L477 1206.5 L475.7 1206.1 L474.7 1205.7 L474 1205.2 L473.7 1204.6" stroke-width="0.80" fill="none" />
<path d="M486.7 1207.1 L486.4 1207.7 L485.7 1208.2 L484.7 1208.6 L483.4 1209 L481.8 1209.2 L480.2 1209.3 L478.6 1209.2 L477 1209 L475.7 1208.6 L474.7 1208.2 L474 1207.7 L473.7 1207.1" stroke-width="0.80" fill="none" />
<path d="M473.7 1182 L473.8 1181.6 L474.2 1181.1 L474.8 1180.7 L475.6 1180.4 L476.6 1180.1 L477.7 1179.9 L478.9 1179.8 L480.2 1179.7 L481.5 1179.8 L482.7 1179.9 L483.8 1180.1 L484.8 1180.4 L485.6 1180.7 L486.2 1181.1 L486.6 1181.6 L486.7 1182" stroke-width="1.56" fill="none" />
<path d="M463.7 1169.7 L463.8 1168.8 L464 1167.9 L464.5 1167.1 L465.1 1166.2 L465.8 1165.5 L466.8 1164.7 L467.8 1164 L469 1163.4 L470.3 1162.8 L471.7 1162.3 L473.2 1161.9 L474.8 1161.6 L476.4 1161.4 L478 1161.2 L479.7 1161.2 L481.4 1161.2 L483 1161.4 L484.6 1161.6 L486.2 1161.9 L487.7 1162.3 L489.1 1162.8 L490.4 1163.4 L491.6 1164 L492.6 1164.7 L493.6 1165.5 L494.3 1166.2 L494.9 1167.1 L495.4 1167.9 L495.6 1168.8 L495.7 1169.7 L495.7 1172.7 L495.6 1173.6 L495.4 1174.5 L494.9 1175.3 L494.3 1176.2 L493.6 1177 L492.6 1177.7 L491.6 1178.4 L490.4 1179 L489.1 1179.6 L487.7 1180.1 L486.2 1180.5 L484.6 1180.8 L483 1181 L481.4 1181.2 L479.7 1181.2 L478 1181.2 L476.4 1181 L474.8 1180.8 L473.2 1180.5 L471.7 1180.1 L470.3 1179.6 L469 1179 L467.8 1178.4 L466.8 1177.7 L465.8 1177 L465.1 1176.2 L464.5 1175.3 L464 1174.5 L463.8 1173.6 L463.7 1172.7Z" stroke-width="0.00" fill="#fff" stroke="none"/>
<ellipse cx="479.7" cy="1169.7" rx="16" ry="8.5" stroke-width="1.69" fill="#fff" />
<path d="M495.7 1172.7 L495.7 1173.4 L495.5 1174 L495.3 1174.7 L494.9 1175.3 L494.5 1176 L494 1176.6 L493.3 1177.1 L492.6 1177.7 L491.9 1178.2 L491 1178.7 L490.1 1179.2 L489.1 1179.6 L488.1 1179.9 L487 1180.3 L485.8 1180.6 L484.6 1180.8 L483.4 1181 L482.2 1181.1 L481 1181.2 L479.7 1181.2 L478.4 1181.2 L477.2 1181.1 L476 1181 L474.8 1180.8 L473.6 1180.6 L472.4 1180.3 L471.3 1179.9 L470.3 1179.6 L469.3 1179.2 L468.4 1178.7 L467.5 1178.2 L466.8 1177.7 L466.1 1177.1 L465.4 1176.6 L464.9 1176 L464.5 1175.3 L464.1 1174.7 L463.9 1174 L463.7 1173.4 L463.7 1172.7" stroke-width="1.56" fill="none" />
<line x1="463.7" y1="1169.7" x2="463.7" y2="1172.7" stroke-width="1.56" />
<line x1="495.7" y1="1169.7" x2="495.7" y2="1172.7" stroke-width="1.56" />
<ellipse cx="479.7" cy="1169.7" rx="8" ry="4.2" stroke-width="1.56" fill="none" />
<line x1="480.5" y1="1160" x2="480.5" y2="1173" stroke-width="0.90" />
<path d="M366.3 837.1 L371.8 837.6 L371.6 839.4 L366 839.6 L365.5 841.6 L370.7 842.7 L369.9 844.5 L364.4 844 L363.1 845.9 L367.8 847.5 L366.4 849.2 L361.1 848.2 L359.3 849.9 L363.3 852 L361.3 853.4 L356.5 851.9 L354.1 853.4 L357.3 855.9 L354.8 857.1 L350.6 855 L347.7 856.2 L350 859 L347.1 859.9 L343.8 857.5 L340.5 858.3 L341.7 861.3 L338.6 861.9 L336.2 859.2 L332.7 859.6 L332.8 862.7 L329.5 863 L328.1 860 L324.5 860.1 L323.6 863.1 L320.2 863 L319.9 860 L316.3 859.6 L314.4 862.5 L311.1 862.1 L311.9 859 L308.5 858.3 L305.5 860.9 L302.5 860.1 L304.4 857.2 L301.3 856.2 L297.5 858.4 L294.8 857.3 L297.6 854.7 L294.9 853.4 L290.4 855.1 L288.2 853.8 L291.9 851.5 L289.7 849.9 L284.7 851.1 L283 849.5 L287.4 847.7 L285.9 845.9 L280.5 846.6 L279.3 844.8 L284.4 843.5 L283.5 841.6 L277.9 841.7 L277.5 839.9 L282.9 839.1 L282.7 837.1 L277.2 836.6 L277.4 834.8 L283 834.6 L283.5 832.6 L278.3 831.5 L279.1 829.7 L284.6 830.2 L285.9 828.3 L281.2 826.7 L282.6 825 L287.9 826 L289.7 824.3 L285.7 822.2 L287.7 820.8 L292.5 822.3 L294.9 820.8 L291.7 818.3 L294.2 817.1 L298.4 819.2 L301.3 818 L299 815.2 L301.9 814.3 L305.2 816.7 L308.5 815.9 L307.3 812.9 L310.4 812.3 L312.8 815 L316.3 814.6 L316.2 811.5 L319.5 811.2 L320.9 814.2 L324.5 814.1 L325.4 811.1 L328.8 811.2 L329.1 814.2 L332.7 814.6 L334.6 811.7 L337.9 812.1 L337.1 815.2 L340.5 815.9 L343.5 813.3 L346.5 814.1 L344.6 817 L347.7 818 L351.5 815.8 L354.2 816.9 L351.4 819.5 L354.1 820.8 L358.6 819.1 L360.8 820.4 L357.1 822.7 L359.3 824.3 L364.3 823.1 L366 824.7 L361.6 826.5 L363.1 828.3 L368.5 827.6 L369.7 829.4 L364.6 830.7 L365.5 832.6 L371.1 832.5 L371.5 834.3 L366.1 835.1Z" stroke-width="0.00" fill="#fff" stroke="none"/>
<rect x="277.2" y="837.1" width="94.6" height="21" fill="#fff" stroke="none"/>
<path d="M366.3 858.1 L371.8 858.6 L371.6 860.4 L366 860.6 L365.5 862.6 L370.7 863.7 L369.9 865.5 L364.4 865 L363.1 866.9 L367.8 868.5 L366.4 870.2 L361.1 869.2 L359.3 870.9 L363.3 873 L361.3 874.4 L356.5 872.9 L354.1 874.4 L357.3 876.9 L354.8 878.1 L350.6 876 L347.7 877.2 L350 880 L347.1 880.9 L343.8 878.5 L340.5 879.3 L341.7 882.3 L338.6 882.9 L336.2 880.2 L332.7 880.6 L332.8 883.7 L329.5 884 L328.1 881 L324.5 881.1 L323.6 884.1 L320.2 884 L319.9 881 L316.3 880.6 L314.4 883.5 L311.1 883.1 L311.9 880 L308.5 879.3 L305.5 881.9 L302.5 881.1 L304.4 878.2 L301.3 877.2 L297.5 879.4 L294.8 878.3 L297.6 875.7 L294.9 874.4 L290.4 876.1 L288.2 874.8 L291.9 872.5 L289.7 870.9 L284.7 872.1 L283 870.5 L287.4 868.7 L285.9 866.9 L280.5 867.6 L279.3 865.8 L284.4 864.5 L283.5 862.6 L277.9 862.7 L277.5 860.9 L282.9 860.1 L282.7 858.1 L277.2 857.6 L277.4 855.8 L283 855.6 L283.5 853.6 L278.3 852.5 L279.1 850.7 L284.6 851.2 L285.9 849.3 L281.2 847.7 L282.6 846 L287.9 847 L289.7 845.3 L285.7 843.2 L287.7 841.8 L292.5 843.3 L294.9 841.8 L291.7 839.3 L294.2 838.1 L298.4 840.2 L301.3 839 L299 836.2 L301.9 835.3 L305.2 837.7 L308.5 836.9 L307.3 833.9 L310.4 833.3 L312.8 836 L316.3 835.6 L316.2 832.5 L319.5 832.2 L320.9 835.2 L324.5 835.1 L325.4 832.1 L328.8 832.2 L329.1 835.2 L332.7 835.6 L334.6 832.7 L337.9 833.1 L337.1 836.2 L340.5 836.9 L343.5 834.3 L346.5 835.1 L344.6 838 L347.7 839 L351.5 836.8 L354.2 837.9 L351.4 840.5 L354.1 841.8 L358.6 840.1 L360.8 841.4 L357.1 843.7 L359.3 845.3 L364.3 844.1 L366 845.7 L361.6 847.5 L363.1 849.3 L368.5 848.6 L369.7 850.4 L364.6 851.7 L365.5 853.6 L371.1 853.5 L371.5 855.3 L366.1 856.1Z" stroke-width="0.00" fill="#fff" stroke="none"/>
<path d="M366.3 858.1 L371.8 858.6 L371.6 860.4 L366 860.6 L365.5 862.6 L370.7 863.7 L369.9 865.5 L364.4 865 L363.1 866.9 L367.8 868.5 L366.4 870.2 L361.1 869.2 L359.3 870.9 L363.3 873 L361.3 874.4 L356.5 872.9 L354.1 874.4 L357.3 876.9 L354.8 878.1 L350.6 876 L347.7 877.2 L350 880 L347.1 880.9 L343.8 878.5 L340.5 879.3 L341.7 882.3 L338.6 882.9 L336.2 880.2 L332.7 880.6 L332.8 883.7 L329.5 884 L328.1 881 L324.5 881.1 L323.6 884.1 L320.2 884 L319.9 881 L316.3 880.6 L314.4 883.5 L311.1 883.1 L311.9 880 L308.5 879.3 L305.5 881.9 L302.5 881.1 L304.4 878.2 L301.3 877.2 L297.5 879.4 L294.8 878.3 L297.6 875.7 L294.9 874.4 L290.4 876.1 L288.2 874.8 L291.9 872.5 L289.7 870.9 L284.7 872.1 L283 870.5 L287.4 868.7 L285.9 866.9 L280.5 867.6 L279.3 865.8 L284.4 864.5 L283.5 862.6 L277.9 862.7 L277.5 860.9 L282.9 860.1 L282.7 858.1 L277.2 857.6" stroke-width="1.56" fill="none" />
<line x1="371.6" y1="839.4" x2="371.6" y2="860.4" stroke-width="0.96" />
<line x1="370.7" y1="842.7" x2="370.7" y2="863.7" stroke-width="0.96" />
<line x1="369.9" y1="844.5" x2="369.9" y2="865.5" stroke-width="0.96" />
<line x1="367.8" y1="847.5" x2="367.8" y2="868.5" stroke-width="0.96" />
<line x1="366.4" y1="849.2" x2="366.4" y2="870.2" stroke-width="0.96" />
<line x1="361.1" y1="848.2" x2="361.1" y2="869.2" stroke-width="0.54" />
<line x1="359.3" y1="849.9" x2="359.3" y2="870.9" stroke-width="0.54" />
<line x1="363.3" y1="852" x2="363.3" y2="873" stroke-width="0.96" />
<line x1="361.3" y1="853.4" x2="361.3" y2="874.4" stroke-width="0.96" />
<line x1="356.5" y1="851.9" x2="356.5" y2="872.9" stroke-width="0.54" />
<line x1="354.1" y1="853.4" x2="354.1" y2="874.4" stroke-width="0.54" />
<line x1="357.3" y1="855.9" x2="357.3" y2="876.9" stroke-width="0.96" />
<line x1="354.8" y1="857.1" x2="354.8" y2="878.1" stroke-width="0.96" />
<line x1="350.6" y1="855" x2="350.6" y2="876" stroke-width="0.54" />
<line x1="347.7" y1="856.2" x2="347.7" y2="877.2" stroke-width="0.54" />
<line x1="350" y1="859" x2="350" y2="880" stroke-width="0.96" />
<line x1="347.1" y1="859.9" x2="347.1" y2="880.9" stroke-width="0.96" />
<line x1="343.8" y1="857.5" x2="343.8" y2="878.5" stroke-width="0.54" />
<line x1="340.5" y1="858.3" x2="340.5" y2="879.3" stroke-width="0.54" />
<line x1="341.7" y1="861.3" x2="341.7" y2="882.3" stroke-width="0.96" />
<line x1="338.6" y1="861.9" x2="338.6" y2="882.9" stroke-width="0.96" />
<line x1="336.2" y1="859.2" x2="336.2" y2="880.2" stroke-width="0.54" />
<line x1="332.7" y1="859.6" x2="332.7" y2="880.6" stroke-width="0.54" />
<line x1="332.8" y1="862.7" x2="332.8" y2="883.7" stroke-width="0.96" />
<line x1="329.5" y1="863" x2="329.5" y2="884" stroke-width="0.96" />
<line x1="328.1" y1="860" x2="328.1" y2="881" stroke-width="0.54" />
<line x1="324.5" y1="860.1" x2="324.5" y2="881.1" stroke-width="0.54" />
<line x1="323.6" y1="863.1" x2="323.6" y2="884.1" stroke-width="0.96" />
<line x1="320.2" y1="863" x2="320.2" y2="884" stroke-width="0.96" />
<line x1="319.9" y1="860" x2="319.9" y2="881" stroke-width="0.54" />
<line x1="316.3" y1="859.6" x2="316.3" y2="880.6" stroke-width="0.54" />
<line x1="314.4" y1="862.5" x2="314.4" y2="883.5" stroke-width="0.96" />
<line x1="311.1" y1="862.1" x2="311.1" y2="883.1" stroke-width="0.96" />
<line x1="311.9" y1="859" x2="311.9" y2="880" stroke-width="0.54" />
<line x1="308.5" y1="858.3" x2="308.5" y2="879.3" stroke-width="0.54" />
<line x1="305.5" y1="860.9" x2="305.5" y2="881.9" stroke-width="0.96" />
<line x1="302.5" y1="860.1" x2="302.5" y2="881.1" stroke-width="0.96" />
<line x1="304.4" y1="857.2" x2="304.4" y2="878.2" stroke-width="0.54" />
<line x1="301.3" y1="856.2" x2="301.3" y2="877.2" stroke-width="0.54" />
<line x1="297.5" y1="858.4" x2="297.5" y2="879.4" stroke-width="0.96" />
<line x1="294.8" y1="857.3" x2="294.8" y2="878.3" stroke-width="0.96" />
<line x1="297.6" y1="854.7" x2="297.6" y2="875.7" stroke-width="0.54" />
<line x1="294.9" y1="853.4" x2="294.9" y2="874.4" stroke-width="0.54" />
<line x1="290.4" y1="855.1" x2="290.4" y2="876.1" stroke-width="0.96" />
<line x1="288.2" y1="853.8" x2="288.2" y2="874.8" stroke-width="0.96" />
<line x1="291.9" y1="851.5" x2="291.9" y2="872.5" stroke-width="0.54" />
<line x1="289.7" y1="849.9" x2="289.7" y2="870.9" stroke-width="0.54" />
<line x1="284.7" y1="851.1" x2="284.7" y2="872.1" stroke-width="0.96" />
<line x1="283" y1="849.5" x2="283" y2="870.5" stroke-width="0.96" />
<line x1="287.4" y1="847.7" x2="287.4" y2="868.7" stroke-width="0.54" />
<line x1="280.5" y1="846.6" x2="280.5" y2="867.6" stroke-width="0.96" />
<line x1="279.3" y1="844.8" x2="279.3" y2="865.8" stroke-width="0.96" />
<line x1="277.9" y1="841.7" x2="277.9" y2="862.7" stroke-width="0.96" />
<line x1="277.5" y1="839.9" x2="277.5" y2="860.9" stroke-width="0.96" />
<line x1="277.2" y1="837.1" x2="277.2" y2="858.1" stroke-width="1.56" />
<line x1="371.8" y1="837.1" x2="371.8" y2="858.1" stroke-width="1.56" />
<path d="M366.3 837.1 L371.8 837.6 L371.6 839.4 L366 839.6 L365.5 841.6 L370.7 842.7 L369.9 844.5 L364.4 844 L363.1 845.9 L367.8 847.5 L366.4 849.2 L361.1 848.2 L359.3 849.9 L363.3 852 L361.3 853.4 L356.5 851.9 L354.1 853.4 L357.3 855.9 L354.8 857.1 L350.6 855 L347.7 856.2 L350 859 L347.1 859.9 L343.8 857.5 L340.5 858.3 L341.7 861.3 L338.6 861.9 L336.2 859.2 L332.7 859.6 L332.8 862.7 L329.5 863 L328.1 860 L324.5 860.1 L323.6 863.1 L320.2 863 L319.9 860 L316.3 859.6 L314.4 862.5 L311.1 862.1 L311.9 859 L308.5 858.3 L305.5 860.9 L302.5 860.1 L304.4 857.2 L301.3 856.2 L297.5 858.4 L294.8 857.3 L297.6 854.7 L294.9 853.4 L290.4 855.1 L288.2 853.8 L291.9 851.5 L289.7 849.9 L284.7 851.1 L283 849.5 L287.4 847.7 L285.9 845.9 L280.5 846.6 L279.3 844.8 L284.4 843.5 L283.5 841.6 L277.9 841.7 L277.5 839.9 L282.9 839.1 L282.7 837.1 L277.2 836.6 L277.4 834.8 L283 834.6 L283.5 832.6 L278.3 831.5 L279.1 829.7 L284.6 830.2 L285.9 828.3 L281.2 826.7 L282.6 825 L287.9 826 L289.7 824.3 L285.7 822.2 L287.7 820.8 L292.5 822.3 L294.9 820.8 L291.7 818.3 L294.2 817.1 L298.4 819.2 L301.3 818 L299 815.2 L301.9 814.3 L305.2 816.7 L308.5 815.9 L307.3 812.9 L310.4 812.3 L312.8 815 L316.3 814.6 L316.2 811.5 L319.5 811.2 L320.9 814.2 L324.5 814.1 L325.4 811.1 L328.8 811.2 L329.1 814.2 L332.7 814.6 L334.6 811.7 L337.9 812.1 L337.1 815.2 L340.5 815.9 L343.5 813.3 L346.5 814.1 L344.6 817 L347.7 818 L351.5 815.8 L354.2 816.9 L351.4 819.5 L354.1 820.8 L358.6 819.1 L360.8 820.4 L357.1 822.7 L359.3 824.3 L364.3 823.1 L366 824.7 L361.6 826.5 L363.1 828.3 L368.5 827.6 L369.7 829.4 L364.6 830.7 L365.5 832.6 L371.1 832.5 L371.5 834.3 L366.1 835.1Z" stroke-width="1.56" fill="#fff" />
<ellipse cx="324.5" cy="837" rx="38" ry="21" stroke-width="1.08" fill="none" />
<path d="M314.1 810 L314.2 809.5 L314.4 809 L314.7 808.5 L315.1 808 L315.6 807.5 L316.3 807.1 L317.1 806.7 L317.9 806.3 L318.8 806 L319.9 805.7 L320.9 805.4 L322 805.2 L323.2 805.1 L324.4 805 L325.6 805 L326.8 805 L328 805.1 L329.2 805.2 L330.3 805.4 L331.4 805.7 L332.4 806 L333.3 806.3 L334.1 806.7 L334.9 807.1 L335.6 807.5 L336.1 808 L336.5 808.5 L336.8 809 L337 809.5 L337.1 810 L337.1 822 L337 822.5 L336.8 823 L336.5 823.5 L336.1 824 L335.6 824.5 L334.9 824.9 L334.1 825.3 L333.3 825.7 L332.4 826 L331.4 826.3 L330.3 826.6 L329.2 826.8 L328 826.9 L326.8 827 L325.6 827 L324.4 827 L323.2 826.9 L322 826.8 L320.9 826.6 L319.9 826.3 L318.8 826 L317.9 825.7 L317.1 825.3 L316.3 824.9 L315.6 824.5 L315.1 824 L314.7 823.5 L314.4 823 L314.2 822.5 L314.1 822Z" stroke-width="0.00" fill="#fff" stroke="none"/>
<line x1="314.1" y1="810" x2="314.1" y2="822" stroke-width="1.69" />
<line x1="337.1" y1="810" x2="337.1" y2="822" stroke-width="1.69" />
<path d="M337.1 822 L337.1 822.4 L337 822.8 L336.8 823.2 L336.5 823.5 L336.2 823.9 L335.8 824.3 L335.4 824.6 L334.9 824.9 L334.3 825.2 L333.7 825.5 L333.1 825.8 L332.4 826 L331.6 826.3 L330.8 826.5 L330 826.6 L329.2 826.8 L328.3 826.9 L327.4 826.9 L326.5 827 L325.6 827 L324.7 827 L323.8 826.9 L322.9 826.9 L322 826.8 L321.2 826.6 L320.4 826.5 L319.6 826.3 L318.8 826 L318.1 825.8 L317.5 825.5 L316.9 825.2 L316.3 824.9 L315.8 824.6 L315.4 824.3 L315 823.9 L314.7 823.5 L314.4 823.2 L314.2 822.8 L314.1 822.4 L314.1 822" stroke-width="1.69" fill="none" />
<ellipse cx="325.6" cy="810" rx="11.5" ry="5" stroke-width="1.69" fill="#fff" />
<path d="M310.1 822.6 L310.2 822 L310.4 821.3 L310.9 820.7 L311.4 820.1 L312.2 819.6 L313.1 819 L314.1 818.5 L315.2 818.1 L316.5 817.7 L317.9 817.3 L319.3 817 L320.8 816.8 L322.4 816.6 L324 816.5 L325.6 816.5 L327.2 816.5 L328.8 816.6 L330.4 816.8 L331.9 817 L333.4 817.3 L334.7 817.7 L336 818.1 L337.1 818.5 L338.1 819 L339 819.6 L339.8 820.1 L340.3 820.7 L340.8 821.3 L341 822 L341.1 822.6 L341.1 842.8 L341 843.4 L340.8 844.1 L340.3 844.7 L339.8 845.3 L339 845.8 L338.1 846.4 L337.1 846.9 L336 847.3 L334.7 847.7 L333.4 848.1 L331.9 848.4 L330.4 848.6 L328.8 848.8 L327.2 848.9 L325.6 848.9 L324 848.9 L322.4 848.8 L320.8 848.6 L319.3 848.4 L317.9 848.1 L316.5 847.7 L315.2 847.3 L314.1 846.9 L313.1 846.4 L312.2 845.8 L311.4 845.3 L310.9 844.7 L310.4 844.1 L310.2 843.4 L310.1 842.8Z" stroke-width="0.00" fill="#fff" stroke="none"/>
<line x1="310.1" y1="822.6" x2="310.1" y2="842.8" stroke-width="1.69" />
<line x1="341.1" y1="822.6" x2="341.1" y2="842.8" stroke-width="1.69" />
<path d="M341.1 842.8 L341.1 843.3 L340.9 843.8 L340.7 844.2 L340.3 844.7 L339.9 845.1 L339.4 845.6 L338.8 846 L338.1 846.4 L337.4 846.8 L336.6 847.1 L335.7 847.4 L334.7 847.7 L333.7 848 L332.6 848.2 L331.5 848.4 L330.4 848.6 L329.2 848.7 L328 848.8 L326.8 848.9 L325.6 848.9 L324.4 848.9 L323.2 848.8 L322 848.7 L320.8 848.6 L319.7 848.4 L318.6 848.2 L317.5 848 L316.5 847.7 L315.5 847.4 L314.6 847.1 L313.8 846.8 L313.1 846.4 L312.4 846 L311.8 845.6 L311.3 845.1 L310.9 844.7 L310.5 844.2 L310.3 843.8 L310.1 843.3 L310.1 842.8" stroke-width="1.69" fill="none" />
<ellipse cx="325.6" cy="822.6" rx="15.5" ry="6.1" stroke-width="1.69" fill="#fff" />
<ellipse cx="325.6" cy="823.4" rx="13.8" ry="5.2" stroke-width="0.90" fill="none" />
<line x1="325.9" y1="833" x2="325.9" y2="846" stroke-width="1.00" />
<path d="M257.1 897 L262.6 897.5 L262.4 899.2 L256.8 899.4 L256.3 901.3 L261.5 902.3 L260.7 904 L255.2 903.6 L253.9 905.4 L258.7 906.9 L257.2 908.5 L252 907.5 L250.1 909.1 L254.2 911.1 L252.2 912.5 L247.4 911 L244.9 912.4 L248.2 914.8 L245.7 916 L241.5 914 L238.7 915.2 L240.9 917.8 L238.1 918.7 L234.7 916.4 L231.5 917.2 L232.7 920 L229.6 920.6 L227.2 918 L223.7 918.4 L223.9 921.3 L220.6 921.6 L219.2 918.7 L215.6 918.8 L214.7 921.7 L211.4 921.6 L211 918.7 L207.5 918.4 L205.5 921.1 L202.3 920.7 L203.1 917.8 L199.7 917.2 L196.8 919.6 L193.8 918.9 L195.6 916.1 L192.5 915.2 L188.7 917.3 L186.1 916.2 L188.9 913.7 L186.3 912.4 L181.7 914.1 L179.5 912.8 L183.2 910.6 L181.1 909.1 L176 910.3 L174.3 908.8 L178.8 907.1 L177.3 905.4 L171.8 906 L170.7 904.4 L175.7 903.1 L174.9 901.3 L169.3 901.3 L168.9 899.6 L174.3 898.9 L174.1 897 L168.6 896.5 L168.8 894.8 L174.4 894.6 L174.9 892.7 L169.7 891.7 L170.5 890 L176 890.4 L177.3 888.6 L172.5 887.1 L174 885.5 L179.2 886.5 L181.1 884.9 L177 882.9 L179 881.5 L183.8 883 L186.3 881.6 L183 879.2 L185.5 878 L189.7 880 L192.5 878.8 L190.3 876.2 L193.1 875.3 L196.5 877.6 L199.7 876.8 L198.5 874 L201.6 873.4 L204 876 L207.5 875.6 L207.3 872.7 L210.6 872.4 L212 875.3 L215.6 875.2 L216.5 872.3 L219.8 872.4 L220.2 875.3 L223.7 875.6 L225.7 872.9 L228.9 873.3 L228.1 876.2 L231.5 876.8 L234.4 874.4 L237.4 875.1 L235.6 877.9 L238.7 878.8 L242.5 876.7 L245.1 877.8 L242.3 880.3 L244.9 881.6 L249.5 879.9 L251.7 881.2 L248 883.4 L250.1 884.9 L255.2 883.7 L256.9 885.2 L252.4 886.9 L253.9 888.6 L259.4 888 L260.5 889.6 L255.5 890.9 L256.3 892.7 L261.9 892.7 L262.3 894.4 L256.9 895.1Z" stroke-width="0.00" fill="#fff" stroke="none"/>
<rect x="168.6" y="897" width="94" height="23.5" fill="#fff" stroke="none"/>
<path d="M257.1 920.5 L262.6 921 L262.4 922.7 L256.8 922.9 L256.3 924.8 L261.5 925.8 L260.7 927.5 L255.2 927.1 L253.9 928.9 L258.7 930.4 L257.2 932 L252 931 L250.1 932.6 L254.2 934.6 L252.2 936 L247.4 934.5 L244.9 935.9 L248.2 938.3 L245.7 939.5 L241.5 937.5 L238.7 938.7 L240.9 941.3 L238.1 942.2 L234.7 939.9 L231.5 940.7 L232.7 943.5 L229.6 944.1 L227.2 941.5 L223.7 941.9 L223.9 944.8 L220.6 945.1 L219.2 942.2 L215.6 942.3 L214.7 945.2 L211.4 945.1 L211 942.2 L207.5 941.9 L205.5 944.6 L202.3 944.2 L203.1 941.3 L199.7 940.7 L196.8 943.1 L193.8 942.4 L195.6 939.6 L192.5 938.7 L188.7 940.8 L186.1 939.7 L188.9 937.2 L186.3 935.9 L181.7 937.6 L179.5 936.3 L183.2 934.1 L181.1 932.6 L176 933.8 L174.3 932.3 L178.8 930.6 L177.3 928.9 L171.8 929.5 L170.7 927.9 L175.7 926.6 L174.9 924.8 L169.3 924.8 L168.9 923.1 L174.3 922.4 L174.1 920.5 L168.6 920 L168.8 918.3 L174.4 918.1 L174.9 916.2 L169.7 915.2 L170.5 913.5 L176 913.9 L177.3 912.1 L172.5 910.6 L174 909 L179.2 910 L181.1 908.4 L177 906.4 L179 905 L183.8 906.5 L186.3 905.1 L183 902.7 L185.5 901.5 L189.7 903.5 L192.5 902.3 L190.3 899.7 L193.1 898.8 L196.5 901.1 L199.7 900.3 L198.5 897.5 L201.6 896.9 L204 899.5 L207.5 899.1 L207.3 896.2 L210.6 895.9 L212 898.8 L215.6 898.7 L216.5 895.8 L219.8 895.9 L220.2 898.8 L223.7 899.1 L225.7 896.4 L228.9 896.8 L228.1 899.7 L231.5 900.3 L234.4 897.9 L237.4 898.6 L235.6 901.4 L238.7 902.3 L242.5 900.2 L245.1 901.3 L242.3 903.8 L244.9 905.1 L249.5 903.4 L251.7 904.7 L248 906.9 L250.1 908.4 L255.2 907.2 L256.9 908.7 L252.4 910.4 L253.9 912.1 L259.4 911.5 L260.5 913.1 L255.5 914.4 L256.3 916.2 L261.9 916.2 L262.3 917.9 L256.9 918.6Z" stroke-width="0.00" fill="#fff" stroke="none"/>
<path d="M257.1 920.5 L262.6 921 L262.4 922.7 L256.8 922.9 L256.3 924.8 L261.5 925.8 L260.7 927.5 L255.2 927.1 L253.9 928.9 L258.7 930.4 L257.2 932 L252 931 L250.1 932.6 L254.2 934.6 L252.2 936 L247.4 934.5 L244.9 935.9 L248.2 938.3 L245.7 939.5 L241.5 937.5 L238.7 938.7 L240.9 941.3 L238.1 942.2 L234.7 939.9 L231.5 940.7 L232.7 943.5 L229.6 944.1 L227.2 941.5 L223.7 941.9 L223.9 944.8 L220.6 945.1 L219.2 942.2 L215.6 942.3 L214.7 945.2 L211.4 945.1 L211 942.2 L207.5 941.9 L205.5 944.6 L202.3 944.2 L203.1 941.3 L199.7 940.7 L196.8 943.1 L193.8 942.4 L195.6 939.6 L192.5 938.7 L188.7 940.8 L186.1 939.7 L188.9 937.2 L186.3 935.9 L181.7 937.6 L179.5 936.3 L183.2 934.1 L181.1 932.6 L176 933.8 L174.3 932.3 L178.8 930.6 L177.3 928.9 L171.8 929.5 L170.7 927.9 L175.7 926.6 L174.9 924.8 L169.3 924.8 L168.9 923.1 L174.3 922.4 L174.1 920.5 L168.6 920" stroke-width="1.56" fill="none" />
<line x1="262.4" y1="899.2" x2="262.4" y2="922.7" stroke-width="0.96" />
<line x1="261.5" y1="902.3" x2="261.5" y2="925.8" stroke-width="0.96" />
<line x1="260.7" y1="904" x2="260.7" y2="927.5" stroke-width="0.96" />
<line x1="258.7" y1="906.9" x2="258.7" y2="930.4" stroke-width="0.96" />
<line x1="257.2" y1="908.5" x2="257.2" y2="932" stroke-width="0.96" />
<line x1="252" y1="907.5" x2="252" y2="931" stroke-width="0.54" />
<line x1="250.1" y1="909.1" x2="250.1" y2="932.6" stroke-width="0.54" />
<line x1="254.2" y1="911.1" x2="254.2" y2="934.6" stroke-width="0.96" />
<line x1="252.2" y1="912.5" x2="252.2" y2="936" stroke-width="0.96" />
<line x1="247.4" y1="911" x2="247.4" y2="934.5" stroke-width="0.54" />
<line x1="244.9" y1="912.4" x2="244.9" y2="935.9" stroke-width="0.54" />
<line x1="248.2" y1="914.8" x2="248.2" y2="938.3" stroke-width="0.96" />
<line x1="245.7" y1="916" x2="245.7" y2="939.5" stroke-width="0.96" />
<line x1="241.5" y1="914" x2="241.5" y2="937.5" stroke-width="0.54" />
<line x1="238.7" y1="915.2" x2="238.7" y2="938.7" stroke-width="0.54" />
<line x1="240.9" y1="917.8" x2="240.9" y2="941.3" stroke-width="0.96" />
<line x1="238.1" y1="918.7" x2="238.1" y2="942.2" stroke-width="0.96" />
<line x1="234.7" y1="916.4" x2="234.7" y2="939.9" stroke-width="0.54" />
<line x1="231.5" y1="917.2" x2="231.5" y2="940.7" stroke-width="0.54" />
<line x1="232.7" y1="920" x2="232.7" y2="943.5" stroke-width="0.96" />
<line x1="229.6" y1="920.6" x2="229.6" y2="944.1" stroke-width="0.96" />
<line x1="227.2" y1="918" x2="227.2" y2="941.5" stroke-width="0.54" />
<line x1="223.7" y1="918.4" x2="223.7" y2="941.9" stroke-width="0.54" />
<line x1="223.9" y1="921.3" x2="223.9" y2="944.8" stroke-width="0.96" />
<line x1="220.6" y1="921.6" x2="220.6" y2="945.1" stroke-width="0.96" />
<line x1="219.2" y1="918.7" x2="219.2" y2="942.2" stroke-width="0.54" />
<line x1="215.6" y1="918.8" x2="215.6" y2="942.3" stroke-width="0.54" />
<line x1="214.7" y1="921.7" x2="214.7" y2="945.2" stroke-width="0.96" />
<line x1="211.4" y1="921.6" x2="211.4" y2="945.1" stroke-width="0.96" />
<line x1="211" y1="918.7" x2="211" y2="942.2" stroke-width="0.54" />
<line x1="207.5" y1="918.4" x2="207.5" y2="941.9" stroke-width="0.54" />
<line x1="205.5" y1="921.1" x2="205.5" y2="944.6" stroke-width="0.96" />
<line x1="202.3" y1="920.7" x2="202.3" y2="944.2" stroke-width="0.96" />
<line x1="203.1" y1="917.8" x2="203.1" y2="941.3" stroke-width="0.54" />
<line x1="199.7" y1="917.2" x2="199.7" y2="940.7" stroke-width="0.54" />
<line x1="196.8" y1="919.6" x2="196.8" y2="943.1" stroke-width="0.96" />
<line x1="193.8" y1="918.9" x2="193.8" y2="942.4" stroke-width="0.96" />
<line x1="195.6" y1="916.1" x2="195.6" y2="939.6" stroke-width="0.54" />
<line x1="192.5" y1="915.2" x2="192.5" y2="938.7" stroke-width="0.54" />
<line x1="188.7" y1="917.3" x2="188.7" y2="940.8" stroke-width="0.96" />
<line x1="186.1" y1="916.2" x2="186.1" y2="939.7" stroke-width="0.96" />
<line x1="188.9" y1="913.7" x2="188.9" y2="937.2" stroke-width="0.54" />
<line x1="186.3" y1="912.4" x2="186.3" y2="935.9" stroke-width="0.54" />
<line x1="181.7" y1="914.1" x2="181.7" y2="937.6" stroke-width="0.96" />
<line x1="179.5" y1="912.8" x2="179.5" y2="936.3" stroke-width="0.96" />
<line x1="183.2" y1="910.6" x2="183.2" y2="934.1" stroke-width="0.54" />
<line x1="181.1" y1="909.1" x2="181.1" y2="932.6" stroke-width="0.54" />
<line x1="176" y1="910.3" x2="176" y2="933.8" stroke-width="0.96" />
<line x1="174.3" y1="908.8" x2="174.3" y2="932.3" stroke-width="0.96" />
<line x1="178.8" y1="907.1" x2="178.8" y2="930.6" stroke-width="0.54" />
<line x1="171.8" y1="906" x2="171.8" y2="929.5" stroke-width="0.96" />
<line x1="170.7" y1="904.4" x2="170.7" y2="927.9" stroke-width="0.96" />
<line x1="169.3" y1="901.3" x2="169.3" y2="924.8" stroke-width="0.96" />
<line x1="168.9" y1="899.6" x2="168.9" y2="923.1" stroke-width="0.96" />
<line x1="168.6" y1="897" x2="168.6" y2="920.5" stroke-width="1.56" />
<line x1="262.6" y1="897" x2="262.6" y2="920.5" stroke-width="1.56" />
<path d="M257.1 897 L262.6 897.5 L262.4 899.2 L256.8 899.4 L256.3 901.3 L261.5 902.3 L260.7 904 L255.2 903.6 L253.9 905.4 L258.7 906.9 L257.2 908.5 L252 907.5 L250.1 909.1 L254.2 911.1 L252.2 912.5 L247.4 911 L244.9 912.4 L248.2 914.8 L245.7 916 L241.5 914 L238.7 915.2 L240.9 917.8 L238.1 918.7 L234.7 916.4 L231.5 917.2 L232.7 920 L229.6 920.6 L227.2 918 L223.7 918.4 L223.9 921.3 L220.6 921.6 L219.2 918.7 L215.6 918.8 L214.7 921.7 L211.4 921.6 L211 918.7 L207.5 918.4 L205.5 921.1 L202.3 920.7 L203.1 917.8 L199.7 917.2 L196.8 919.6 L193.8 918.9 L195.6 916.1 L192.5 915.2 L188.7 917.3 L186.1 916.2 L188.9 913.7 L186.3 912.4 L181.7 914.1 L179.5 912.8 L183.2 910.6 L181.1 909.1 L176 910.3 L174.3 908.8 L178.8 907.1 L177.3 905.4 L171.8 906 L170.7 904.4 L175.7 903.1 L174.9 901.3 L169.3 901.3 L168.9 899.6 L174.3 898.9 L174.1 897 L168.6 896.5 L168.8 894.8 L174.4 894.6 L174.9 892.7 L169.7 891.7 L170.5 890 L176 890.4 L177.3 888.6 L172.5 887.1 L174 885.5 L179.2 886.5 L181.1 884.9 L177 882.9 L179 881.5 L183.8 883 L186.3 881.6 L183 879.2 L185.5 878 L189.7 880 L192.5 878.8 L190.3 876.2 L193.1 875.3 L196.5 877.6 L199.7 876.8 L198.5 874 L201.6 873.4 L204 876 L207.5 875.6 L207.3 872.7 L210.6 872.4 L212 875.3 L215.6 875.2 L216.5 872.3 L219.8 872.4 L220.2 875.3 L223.7 875.6 L225.7 872.9 L228.9 873.3 L228.1 876.2 L231.5 876.8 L234.4 874.4 L237.4 875.1 L235.6 877.9 L238.7 878.8 L242.5 876.7 L245.1 877.8 L242.3 880.3 L244.9 881.6 L249.5 879.9 L251.7 881.2 L248 883.4 L250.1 884.9 L255.2 883.7 L256.9 885.2 L252.4 886.9 L253.9 888.6 L259.4 888 L260.5 889.6 L255.5 890.9 L256.3 892.7 L261.9 892.7 L262.3 894.4 L256.9 895.1Z" stroke-width="1.56" fill="#fff" />
<ellipse cx="215.6" cy="898" rx="38" ry="20" stroke-width="1.08" fill="none" />
<path d="M201.5 880 L201.6 879.2 L201.8 878.5 L202.2 877.8 L202.8 877.1 L203.5 876.4 L204.4 875.8 L205.4 875.2 L206.5 874.6 L207.7 874.2 L209 873.8 L210.4 873.4 L211.9 873.2 L213.4 873 L214.9 872.8 L216.5 872.8 L218.1 872.8 L219.6 873 L221.1 873.2 L222.6 873.4 L224 873.8 L225.3 874.2 L226.5 874.6 L227.6 875.2 L228.6 875.8 L229.5 876.4 L230.2 877.1 L230.8 877.8 L231.2 878.5 L231.4 879.2 L231.5 880 L231.5 903 L231.4 903.8 L231.2 904.5 L230.8 905.2 L230.2 905.9 L229.5 906.6 L228.6 907.2 L227.6 907.8 L226.5 908.4 L225.3 908.8 L224 909.2 L222.6 909.6 L221.1 909.8 L219.6 910 L218.1 910.2 L216.5 910.2 L214.9 910.2 L213.4 910 L211.9 909.8 L210.4 909.6 L209 909.2 L207.7 908.8 L206.5 908.4 L205.4 907.8 L204.4 907.2 L203.5 906.6 L202.8 905.9 L202.2 905.2 L201.8 904.5 L201.6 903.8 L201.5 903Z" stroke-width="0.00" fill="#fff" stroke="none"/>
<line x1="201.5" y1="880" x2="201.5" y2="903" stroke-width="1.69" />
<line x1="231.5" y1="880" x2="231.5" y2="903" stroke-width="1.69" />
<path d="M231.5 903 L231.5 903.6 L231.3 904.1 L231.1 904.7 L230.8 905.2 L230.4 905.8 L229.9 906.3 L229.3 906.8 L228.6 907.2 L227.9 907.7 L227.1 908.1 L226.2 908.5 L225.3 908.8 L224.3 909.1 L223.3 909.4 L222.2 909.7 L221.1 909.8 L220 910 L218.8 910.1 L217.7 910.2 L216.5 910.2 L215.3 910.2 L214.2 910.1 L213 910 L211.9 909.8 L210.8 909.7 L209.7 909.4 L208.7 909.1 L207.7 908.8 L206.8 908.5 L205.9 908.1 L205.1 907.7 L204.4 907.2 L203.7 906.8 L203.1 906.3 L202.6 905.8 L202.2 905.2 L201.9 904.7 L201.7 904.1 L201.5 903.6 L201.5 903" stroke-width="1.69" fill="none" />
<path d="M475.8 927.5 L483.3 928.1 L483.2 930.5 L475.6 930.9 L475.3 933.5 L482.6 934.6 L482.1 936.9 L474.5 936.9 L473.7 939.5 L480.8 940.9 L479.9 943.2 L472.4 942.8 L471.1 945.3 L478 947.2 L476.7 949.4 L469.3 948.5 L467.6 951 L474 953.2 L472.4 955.3 L465.1 954.1 L463 956.4 L469.1 959 L467.1 961 L460.1 959.4 L457.5 961.6 L463.1 964.5 L460.8 966.4 L454.1 964.4 L451.2 966.5 L456.3 969.6 L453.6 971.4 L447.3 969 L444.1 970.9 L448.6 974.4 L445.6 976 L439.8 973.2 L436.2 975 L440.1 978.7 L436.8 980.1 L431.5 977 L427.7 978.6 L430.9 982.4 L427.4 983.7 L422.6 980.4 L418.6 981.7 L421.1 985.7 L417.4 986.7 L413.2 983.2 L408.9 984.2 L410.8 988.4 L406.9 989.2 L403.4 985.4 L398.9 986.3 L400 990.5 L396.1 991.1 L393.2 987.2 L388.6 987.7 L389 992 L384.9 992.4 L382.8 988.3 L378.1 988.6 L377.7 992.9 L373.6 993.1 L372.2 988.8 L367.5 988.9 L366.4 993.2 L362.3 993.1 L361.5 988.8 L356.9 988.6 L355 992.8 L351 992.5 L351 988.2 L346.4 987.7 L343.8 991.8 L339.8 991.3 L340.6 987 L336.1 986.3 L332.8 990.1 L328.9 989.4 L330.4 985.2 L326.1 984.2 L322.1 987.9 L318.4 987 L320.6 982.9 L316.4 981.7 L311.9 985.1 L308.4 983.9 L311.3 980 L307.3 978.6 L302.2 981.7 L298.9 980.4 L302.5 976.6 L298.8 975 L293.2 977.8 L290.1 976.3 L294.3 972.8 L290.9 970.9 L284.8 973.5 L282 971.8 L286.8 968.5 L283.8 966.5 L277.3 968.7 L274.8 966.8 L280.1 963.8 L277.5 961.6 L270.6 963.4 L268.4 961.5 L274.3 958.8 L272 956.4 L264.8 957.9 L263 955.8 L269.3 953.4 L267.4 951 L260.1 952 L258.6 949.9 L265.3 947.8 L263.9 945.3 L256.4 945.9 L255.3 943.7 L262.3 942.1 L261.3 939.5 L253.7 939.7 L253 937.4 L260.3 936.2 L259.7 933.5 L252.2 933.3 L251.9 931 L259.3 930.2 L259.2 927.5 L251.7 926.9 L251.8 924.5 L259.4 924.1 L259.7 921.5 L252.4 920.4 L252.9 918.1 L260.5 918.1 L261.3 915.5 L254.2 914.1 L255.1 911.8 L262.6 912.2 L263.9 909.7 L257 907.8 L258.3 905.6 L265.7 906.5 L267.4 904 L261 901.8 L262.6 899.7 L269.9 900.9 L272 898.6 L265.9 896 L267.9 894 L274.9 895.6 L277.5 893.4 L271.9 890.5 L274.2 888.6 L280.9 890.6 L283.8 888.5 L278.7 885.4 L281.4 883.6 L287.7 886 L290.9 884.1 L286.4 880.6 L289.4 879 L295.2 881.8 L298.8 880 L294.9 876.3 L298.2 874.9 L303.5 878 L307.3 876.4 L304.1 872.6 L307.6 871.3 L312.4 874.6 L316.4 873.3 L313.9 869.3 L317.6 868.3 L321.8 871.8 L326.1 870.8 L324.2 866.6 L328.1 865.8 L331.6 869.6 L336.1 868.7 L335 864.5 L338.9 863.9 L341.8 867.8 L346.4 867.3 L346 863 L350.1 862.6 L352.2 866.7 L356.9 866.4 L357.3 862.1 L361.4 861.9 L362.8 866.2 L367.5 866.1 L368.6 861.8 L372.7 861.9 L373.5 866.2 L378.1 866.4 L380 862.2 L384 862.5 L384 866.8 L388.6 867.3 L391.2 863.2 L395.2 863.7 L394.4 868 L398.9 868.7 L402.2 864.9 L406.1 865.6 L404.6 869.8 L408.9 870.8 L412.9 867.1 L416.6 868 L414.4 872.1 L418.6 873.3 L423.1 869.9 L426.6 871.1 L423.7 875 L427.7 876.4 L432.8 873.3 L436.1 874.6 L432.5 878.4 L436.2 880 L441.8 877.2 L444.9 878.7 L440.7 882.2 L444.1 884.1 L450.2 881.5 L453 883.2 L448.2 886.5 L451.2 888.5 L457.7 886.3 L460.2 888.2 L454.9 891.2 L457.5 893.4 L464.4 891.6 L466.6 893.5 L460.7 896.2 L463 898.6 L470.2 897.1 L472 899.2 L465.7 901.6 L467.6 904 L474.9 903 L476.4 905.1 L469.7 907.2 L471.1 909.7 L478.6 909.1 L479.7 911.3 L472.7 912.9 L473.7 915.5 L481.3 915.3 L482 917.6 L474.7 918.8 L475.3 921.5 L482.8 921.7 L483.1 924 L475.7 924.8Z" stroke-width="0.00" fill="#fff" stroke="none"/>
<rect x="251.7" y="927.5" width="231.6" height="27" fill="#fff" stroke="none"/>
<path d="M475.8 954.5 L483.3 955.1 L483.2 957.5 L475.6 957.9 L475.3 960.5 L482.6 961.6 L482.1 963.9 L474.5 963.9 L473.7 966.5 L480.8 967.9 L479.9 970.2 L472.4 969.8 L471.1 972.3 L478 974.2 L476.7 976.4 L469.3 975.5 L467.6 978 L474 980.2 L472.4 982.3 L465.1 981.1 L463 983.4 L469.1 986 L467.1 988 L460.1 986.4 L457.5 988.6 L463.1 991.5 L460.8 993.4 L454.1 991.4 L451.2 993.5 L456.3 996.6 L453.6 998.4 L447.3 996 L444.1 997.9 L448.6 1001.4 L445.6 1003 L439.8 1000.2 L436.2 1002 L440.1 1005.7 L436.8 1007.1 L431.5 1004 L427.7 1005.6 L430.9 1009.4 L427.4 1010.7 L422.6 1007.4 L418.6 1008.7 L421.1 1012.7 L417.4 1013.7 L413.2 1010.2 L408.9 1011.2 L410.8 1015.4 L406.9 1016.2 L403.4 1012.4 L398.9 1013.3 L400 1017.5 L396.1 1018.1 L393.2 1014.2 L388.6 1014.7 L389 1019 L384.9 1019.4 L382.8 1015.3 L378.1 1015.6 L377.7 1019.9 L373.6 1020.1 L372.2 1015.8 L367.5 1015.9 L366.4 1020.2 L362.3 1020.1 L361.5 1015.8 L356.9 1015.6 L355 1019.8 L351 1019.5 L351 1015.2 L346.4 1014.7 L343.8 1018.8 L339.8 1018.3 L340.6 1014 L336.1 1013.3 L332.8 1017.1 L328.9 1016.4 L330.4 1012.2 L326.1 1011.2 L322.1 1014.9 L318.4 1014 L320.6 1009.9 L316.4 1008.7 L311.9 1012.1 L308.4 1010.9 L311.3 1007 L307.3 1005.6 L302.2 1008.7 L298.9 1007.4 L302.5 1003.6 L298.8 1002 L293.2 1004.8 L290.1 1003.3 L294.3 999.8 L290.9 997.9 L284.8 1000.5 L282 998.8 L286.8 995.5 L283.8 993.5 L277.3 995.7 L274.8 993.8 L280.1 990.8 L277.5 988.6 L270.6 990.4 L268.4 988.5 L274.3 985.8 L272 983.4 L264.8 984.9 L263 982.8 L269.3 980.4 L267.4 978 L260.1 979 L258.6 976.9 L265.3 974.8 L263.9 972.3 L256.4 972.9 L255.3 970.7 L262.3 969.1 L261.3 966.5 L253.7 966.7 L253 964.4 L260.3 963.2 L259.7 960.5 L252.2 960.3 L251.9 958 L259.3 957.2 L259.2 954.5 L251.7 953.9 L251.8 951.5 L259.4 951.1 L259.7 948.5 L252.4 947.4 L252.9 945.1 L260.5 945.1 L261.3 942.5 L254.2 941.1 L255.1 938.8 L262.6 939.2 L263.9 936.7 L257 934.8 L258.3 932.6 L265.7 933.5 L267.4 931 L261 928.8 L262.6 926.7 L269.9 927.9 L272 925.6 L265.9 923 L267.9 921 L274.9 922.6 L277.5 920.4 L271.9 917.5 L274.2 915.6 L280.9 917.6 L283.8 915.5 L278.7 912.4 L281.4 910.6 L287.7 913 L290.9 911.1 L286.4 907.6 L289.4 906 L295.2 908.8 L298.8 907 L294.9 903.3 L298.2 901.9 L303.5 905 L307.3 903.4 L304.1 899.6 L307.6 898.3 L312.4 901.6 L316.4 900.3 L313.9 896.3 L317.6 895.3 L321.8 898.8 L326.1 897.8 L324.2 893.6 L328.1 892.8 L331.6 896.6 L336.1 895.7 L335 891.5 L338.9 890.9 L341.8 894.8 L346.4 894.3 L346 890 L350.1 889.6 L352.2 893.7 L356.9 893.4 L357.3 889.1 L361.4 888.9 L362.8 893.2 L367.5 893.1 L368.6 888.8 L372.7 888.9 L373.5 893.2 L378.1 893.4 L380 889.2 L384 889.5 L384 893.8 L388.6 894.3 L391.2 890.2 L395.2 890.7 L394.4 895 L398.9 895.7 L402.2 891.9 L406.1 892.6 L404.6 896.8 L408.9 897.8 L412.9 894.1 L416.6 895 L414.4 899.1 L418.6 900.3 L423.1 896.9 L426.6 898.1 L423.7 902 L427.7 903.4 L432.8 900.3 L436.1 901.6 L432.5 905.4 L436.2 907 L441.8 904.2 L444.9 905.7 L440.7 909.2 L444.1 911.1 L450.2 908.5 L453 910.2 L448.2 913.5 L451.2 915.5 L457.7 913.3 L460.2 915.2 L454.9 918.2 L457.5 920.4 L464.4 918.6 L466.6 920.5 L460.7 923.2 L463 925.6 L470.2 924.1 L472 926.2 L465.7 928.6 L467.6 931 L474.9 930 L476.4 932.1 L469.7 934.2 L471.1 936.7 L478.6 936.1 L479.7 938.3 L472.7 939.9 L473.7 942.5 L481.3 942.3 L482 944.6 L474.7 945.8 L475.3 948.5 L482.8 948.7 L483.1 951 L475.7 951.8Z" stroke-width="0.00" fill="#fff" stroke="none"/>
<path d="M475.8 954.5 L483.3 955.1 L483.2 957.5 L475.6 957.9 L475.3 960.5 L482.6 961.6 L482.1 963.9 L474.5 963.9 L473.7 966.5 L480.8 967.9 L479.9 970.2 L472.4 969.8 L471.1 972.3 L478 974.2 L476.7 976.4 L469.3 975.5 L467.6 978 L474 980.2 L472.4 982.3 L465.1 981.1 L463 983.4 L469.1 986 L467.1 988 L460.1 986.4 L457.5 988.6 L463.1 991.5 L460.8 993.4 L454.1 991.4 L451.2 993.5 L456.3 996.6 L453.6 998.4 L447.3 996 L444.1 997.9 L448.6 1001.4 L445.6 1003 L439.8 1000.2 L436.2 1002 L440.1 1005.7 L436.8 1007.1 L431.5 1004 L427.7 1005.6 L430.9 1009.4 L427.4 1010.7 L422.6 1007.4 L418.6 1008.7 L421.1 1012.7 L417.4 1013.7 L413.2 1010.2 L408.9 1011.2 L410.8 1015.4 L406.9 1016.2 L403.4 1012.4 L398.9 1013.3 L400 1017.5 L396.1 1018.1 L393.2 1014.2 L388.6 1014.7 L389 1019 L384.9 1019.4 L382.8 1015.3 L378.1 1015.6 L377.7 1019.9 L373.6 1020.1 L372.2 1015.8 L367.5 1015.9 L366.4 1020.2 L362.3 1020.1 L361.5 1015.8 L356.9 1015.6 L355 1019.8 L351 1019.5 L351 1015.2 L346.4 1014.7 L343.8 1018.8 L339.8 1018.3 L340.6 1014 L336.1 1013.3 L332.8 1017.1 L328.9 1016.4 L330.4 1012.2 L326.1 1011.2 L322.1 1014.9 L318.4 1014 L320.6 1009.9 L316.4 1008.7 L311.9 1012.1 L308.4 1010.9 L311.3 1007 L307.3 1005.6 L302.2 1008.7 L298.9 1007.4 L302.5 1003.6 L298.8 1002 L293.2 1004.8 L290.1 1003.3 L294.3 999.8 L290.9 997.9 L284.8 1000.5 L282 998.8 L286.8 995.5 L283.8 993.5 L277.3 995.7 L274.8 993.8 L280.1 990.8 L277.5 988.6 L270.6 990.4 L268.4 988.5 L274.3 985.8 L272 983.4 L264.8 984.9 L263 982.8 L269.3 980.4 L267.4 978 L260.1 979 L258.6 976.9 L265.3 974.8 L263.9 972.3 L256.4 972.9 L255.3 970.7 L262.3 969.1 L261.3 966.5 L253.7 966.7 L253 964.4 L260.3 963.2 L259.7 960.5 L252.2 960.3 L251.9 958 L259.3 957.2 L259.2 954.5 L251.7 953.9" stroke-width="1.56" fill="none" />
<line x1="482.6" y1="934.6" x2="482.6" y2="961.6" stroke-width="0.96" />
<line x1="482.1" y1="936.9" x2="482.1" y2="963.9" stroke-width="0.96" />
<line x1="480.8" y1="940.9" x2="480.8" y2="967.9" stroke-width="0.96" />
<line x1="479.9" y1="943.2" x2="479.9" y2="970.2" stroke-width="0.96" />
<line x1="478" y1="947.2" x2="478" y2="974.2" stroke-width="0.96" />
<line x1="476.7" y1="949.4" x2="476.7" y2="976.4" stroke-width="0.96" />
<line x1="474" y1="953.2" x2="474" y2="980.2" stroke-width="0.96" />
<line x1="472.4" y1="955.3" x2="472.4" y2="982.3" stroke-width="0.96" />
<line x1="463" y1="956.4" x2="463" y2="983.4" stroke-width="0.54" />
<line x1="469.1" y1="959" x2="469.1" y2="986" stroke-width="0.96" />
<line x1="467.1" y1="961" x2="467.1" y2="988" stroke-width="0.96" />
<line x1="460.1" y1="959.4" x2="460.1" y2="986.4" stroke-width="0.54" />
<line x1="457.5" y1="961.6" x2="457.5" y2="988.6" stroke-width="0.54" />
<line x1="463.1" y1="964.5" x2="463.1" y2="991.5" stroke-width="0.96" />
<line x1="460.8" y1="966.4" x2="460.8" y2="993.4" stroke-width="0.96" />
<line x1="454.1" y1="964.4" x2="454.1" y2="991.4" stroke-width="0.54" />
<line x1="451.2" y1="966.5" x2="451.2" y2="993.5" stroke-width="0.54" />
<line x1="456.3" y1="969.6" x2="456.3" y2="996.6" stroke-width="0.96" />
<line x1="453.6" y1="971.4" x2="453.6" y2="998.4" stroke-width="0.96" />
<line x1="447.3" y1="969" x2="447.3" y2="996" stroke-width="0.54" />
<line x1="444.1" y1="970.9" x2="444.1" y2="997.9" stroke-width="0.54" />
<line x1="448.6" y1="974.4" x2="448.6" y2="1001.4" stroke-width="0.96" />
<line x1="445.6" y1="976" x2="445.6" y2="1003" stroke-width="0.96" />
<line x1="439.8" y1="973.2" x2="439.8" y2="1000.2" stroke-width="0.54" />
<line x1="436.2" y1="975" x2="436.2" y2="1002" stroke-width="0.54" />
<line x1="440.1" y1="978.7" x2="440.1" y2="1005.7" stroke-width="0.96" />
<line x1="436.8" y1="980.1" x2="436.8" y2="1007.1" stroke-width="0.96" />
<line x1="431.5" y1="977" x2="431.5" y2="1004" stroke-width="0.54" />
<line x1="427.7" y1="978.6" x2="427.7" y2="1005.6" stroke-width="0.54" />
<line x1="430.9" y1="982.4" x2="430.9" y2="1009.4" stroke-width="0.96" />
<line x1="427.4" y1="983.7" x2="427.4" y2="1010.7" stroke-width="0.96" />
<line x1="422.6" y1="980.4" x2="422.6" y2="1007.4" stroke-width="0.54" />
<line x1="418.6" y1="981.7" x2="418.6" y2="1008.7" stroke-width="0.54" />
<line x1="421.1" y1="985.7" x2="421.1" y2="1012.7" stroke-width="0.96" />
<line x1="417.4" y1="986.7" x2="417.4" y2="1013.7" stroke-width="0.96" />
<line x1="413.2" y1="983.2" x2="413.2" y2="1010.2" stroke-width="0.54" />
<line x1="408.9" y1="984.2" x2="408.9" y2="1011.2" stroke-width="0.54" />
<line x1="410.8" y1="988.4" x2="410.8" y2="1015.4" stroke-width="0.96" />
<line x1="406.9" y1="989.2" x2="406.9" y2="1016.2" stroke-width="0.96" />
<line x1="403.4" y1="985.4" x2="403.4" y2="1012.4" stroke-width="0.54" />
<line x1="398.9" y1="986.3" x2="398.9" y2="1013.3" stroke-width="0.54" />
<line x1="400" y1="990.5" x2="400" y2="1017.5" stroke-width="0.96" />
<line x1="396.1" y1="991.1" x2="396.1" y2="1018.1" stroke-width="0.96" />
<line x1="393.2" y1="987.2" x2="393.2" y2="1014.2" stroke-width="0.54" />
<line x1="388.6" y1="987.7" x2="388.6" y2="1014.7" stroke-width="0.54" />
<line x1="389" y1="992" x2="389" y2="1019" stroke-width="0.96" />
<line x1="384.9" y1="992.4" x2="384.9" y2="1019.4" stroke-width="0.96" />
<line x1="382.8" y1="988.3" x2="382.8" y2="1015.3" stroke-width="0.54" />
<line x1="378.1" y1="988.6" x2="378.1" y2="1015.6" stroke-width="0.54" />
<line x1="377.7" y1="992.9" x2="377.7" y2="1019.9" stroke-width="0.96" />
<line x1="373.6" y1="993.1" x2="373.6" y2="1020.1" stroke-width="0.96" />
<line x1="372.2" y1="988.8" x2="372.2" y2="1015.8" stroke-width="0.54" />
<line x1="367.5" y1="988.9" x2="367.5" y2="1015.9" stroke-width="0.54" />
<line x1="366.4" y1="993.2" x2="366.4" y2="1020.2" stroke-width="0.96" />
<line x1="362.3" y1="993.1" x2="362.3" y2="1020.1" stroke-width="0.96" />
<line x1="361.5" y1="988.8" x2="361.5" y2="1015.8" stroke-width="0.54" />
<line x1="356.9" y1="988.6" x2="356.9" y2="1015.6" stroke-width="0.54" />
<line x1="355" y1="992.8" x2="355" y2="1019.8" stroke-width="0.96" />
<line x1="351" y1="992.5" x2="351" y2="1019.5" stroke-width="0.96" />
<line x1="351" y1="988.2" x2="351" y2="1015.2" stroke-width="0.54" />
<line x1="346.4" y1="987.7" x2="346.4" y2="1014.7" stroke-width="0.54" />
<line x1="343.8" y1="991.8" x2="343.8" y2="1018.8" stroke-width="0.96" />
<line x1="339.8" y1="991.3" x2="339.8" y2="1018.3" stroke-width="0.96" />
<line x1="340.6" y1="987" x2="340.6" y2="1014" stroke-width="0.54" />
<line x1="336.1" y1="986.3" x2="336.1" y2="1013.3" stroke-width="0.54" />
<line x1="332.8" y1="990.1" x2="332.8" y2="1017.1" stroke-width="0.96" />
<line x1="328.9" y1="989.4" x2="328.9" y2="1016.4" stroke-width="0.96" />
<line x1="330.4" y1="985.2" x2="330.4" y2="1012.2" stroke-width="0.54" />
<line x1="326.1" y1="984.2" x2="326.1" y2="1011.2" stroke-width="0.54" />
<line x1="322.1" y1="987.9" x2="322.1" y2="1014.9" stroke-width="0.96" />
<line x1="318.4" y1="987" x2="318.4" y2="1014" stroke-width="0.96" />
<line x1="320.6" y1="982.9" x2="320.6" y2="1009.9" stroke-width="0.54" />
<line x1="316.4" y1="981.7" x2="316.4" y2="1008.7" stroke-width="0.54" />
<line x1="311.9" y1="985.1" x2="311.9" y2="1012.1" stroke-width="0.96" />
<line x1="308.4" y1="983.9" x2="308.4" y2="1010.9" stroke-width="0.96" />
<line x1="311.3" y1="980" x2="311.3" y2="1007" stroke-width="0.54" />
<line x1="307.3" y1="978.6" x2="307.3" y2="1005.6" stroke-width="0.54" />
<line x1="302.2" y1="981.7" x2="302.2" y2="1008.7" stroke-width="0.96" />
<line x1="298.9" y1="980.4" x2="298.9" y2="1007.4" stroke-width="0.96" />
<line x1="302.5" y1="976.6" x2="302.5" y2="1003.6" stroke-width="0.54" />
<line x1="298.8" y1="975" x2="298.8" y2="1002" stroke-width="0.54" />
<line x1="293.2" y1="977.8" x2="293.2" y2="1004.8" stroke-width="0.96" />
<line x1="290.1" y1="976.3" x2="290.1" y2="1003.3" stroke-width="0.96" />
<line x1="294.3" y1="972.8" x2="294.3" y2="999.8" stroke-width="0.54" />
<line x1="290.9" y1="970.9" x2="290.9" y2="997.9" stroke-width="0.54" />
<line x1="284.8" y1="973.5" x2="284.8" y2="1000.5" stroke-width="0.96" />
<line x1="282" y1="971.8" x2="282" y2="998.8" stroke-width="0.96" />
<line x1="286.8" y1="968.5" x2="286.8" y2="995.5" stroke-width="0.54" />
<line x1="283.8" y1="966.5" x2="283.8" y2="993.5" stroke-width="0.54" />
<line x1="277.3" y1="968.7" x2="277.3" y2="995.7" stroke-width="0.96" />
<line x1="274.8" y1="966.8" x2="274.8" y2="993.8" stroke-width="0.96" />
<line x1="280.1" y1="963.8" x2="280.1" y2="990.8" stroke-width="0.54" />
<line x1="277.5" y1="961.6" x2="277.5" y2="988.6" stroke-width="0.54" />
<line x1="270.6" y1="963.4" x2="270.6" y2="990.4" stroke-width="0.96" />
<line x1="268.4" y1="961.5" x2="268.4" y2="988.5" stroke-width="0.96" />
<line x1="274.3" y1="958.8" x2="274.3" y2="985.8" stroke-width="0.54" />
<line x1="272" y1="956.4" x2="272" y2="983.4" stroke-width="0.54" />
<line x1="264.8" y1="957.9" x2="264.8" y2="984.9" stroke-width="0.96" />
<line x1="263" y1="955.8" x2="263" y2="982.8" stroke-width="0.96" />
<line x1="260.1" y1="952" x2="260.1" y2="979" stroke-width="0.96" />
<line x1="258.6" y1="949.9" x2="258.6" y2="976.9" stroke-width="0.96" />
<line x1="256.4" y1="945.9" x2="256.4" y2="972.9" stroke-width="0.96" />
<line x1="255.3" y1="943.7" x2="255.3" y2="970.7" stroke-width="0.96" />
<line x1="253.7" y1="939.7" x2="253.7" y2="966.7" stroke-width="0.96" />
<line x1="253" y1="937.4" x2="253" y2="964.4" stroke-width="0.96" />
<line x1="252.2" y1="933.3" x2="252.2" y2="960.3" stroke-width="0.96" />
<line x1="251.7" y1="927.5" x2="251.7" y2="954.5" stroke-width="1.56" />
<line x1="483.3" y1="927.5" x2="483.3" y2="954.5" stroke-width="1.56" />
<path d="M475.8 927.5 L483.3 928.1 L483.2 930.5 L475.6 930.9 L475.3 933.5 L482.6 934.6 L482.1 936.9 L474.5 936.9 L473.7 939.5 L480.8 940.9 L479.9 943.2 L472.4 942.8 L471.1 945.3 L478 947.2 L476.7 949.4 L469.3 948.5 L467.6 951 L474 953.2 L472.4 955.3 L465.1 954.1 L463 956.4 L469.1 959 L467.1 961 L460.1 959.4 L457.5 961.6 L463.1 964.5 L460.8 966.4 L454.1 964.4 L451.2 966.5 L456.3 969.6 L453.6 971.4 L447.3 969 L444.1 970.9 L448.6 974.4 L445.6 976 L439.8 973.2 L436.2 975 L440.1 978.7 L436.8 980.1 L431.5 977 L427.7 978.6 L430.9 982.4 L427.4 983.7 L422.6 980.4 L418.6 981.7 L421.1 985.7 L417.4 986.7 L413.2 983.2 L408.9 984.2 L410.8 988.4 L406.9 989.2 L403.4 985.4 L398.9 986.3 L400 990.5 L396.1 991.1 L393.2 987.2 L388.6 987.7 L389 992 L384.9 992.4 L382.8 988.3 L378.1 988.6 L377.7 992.9 L373.6 993.1 L372.2 988.8 L367.5 988.9 L366.4 993.2 L362.3 993.1 L361.5 988.8 L356.9 988.6 L355 992.8 L351 992.5 L351 988.2 L346.4 987.7 L343.8 991.8 L339.8 991.3 L340.6 987 L336.1 986.3 L332.8 990.1 L328.9 989.4 L330.4 985.2 L326.1 984.2 L322.1 987.9 L318.4 987 L320.6 982.9 L316.4 981.7 L311.9 985.1 L308.4 983.9 L311.3 980 L307.3 978.6 L302.2 981.7 L298.9 980.4 L302.5 976.6 L298.8 975 L293.2 977.8 L290.1 976.3 L294.3 972.8 L290.9 970.9 L284.8 973.5 L282 971.8 L286.8 968.5 L283.8 966.5 L277.3 968.7 L274.8 966.8 L280.1 963.8 L277.5 961.6 L270.6 963.4 L268.4 961.5 L274.3 958.8 L272 956.4 L264.8 957.9 L263 955.8 L269.3 953.4 L267.4 951 L260.1 952 L258.6 949.9 L265.3 947.8 L263.9 945.3 L256.4 945.9 L255.3 943.7 L262.3 942.1 L261.3 939.5 L253.7 939.7 L253 937.4 L260.3 936.2 L259.7 933.5 L252.2 933.3 L251.9 931 L259.3 930.2 L259.2 927.5 L251.7 926.9 L251.8 924.5 L259.4 924.1 L259.7 921.5 L252.4 920.4 L252.9 918.1 L260.5 918.1 L261.3 915.5 L254.2 914.1 L255.1 911.8 L262.6 912.2 L263.9 909.7 L257 907.8 L258.3 905.6 L265.7 906.5 L267.4 904 L261 901.8 L262.6 899.7 L269.9 900.9 L272 898.6 L265.9 896 L267.9 894 L274.9 895.6 L277.5 893.4 L271.9 890.5 L274.2 888.6 L280.9 890.6 L283.8 888.5 L278.7 885.4 L281.4 883.6 L287.7 886 L290.9 884.1 L286.4 880.6 L289.4 879 L295.2 881.8 L298.8 880 L294.9 876.3 L298.2 874.9 L303.5 878 L307.3 876.4 L304.1 872.6 L307.6 871.3 L312.4 874.6 L316.4 873.3 L313.9 869.3 L317.6 868.3 L321.8 871.8 L326.1 870.8 L324.2 866.6 L328.1 865.8 L331.6 869.6 L336.1 868.7 L335 864.5 L338.9 863.9 L341.8 867.8 L346.4 867.3 L346 863 L350.1 862.6 L352.2 866.7 L356.9 866.4 L357.3 862.1 L361.4 861.9 L362.8 866.2 L367.5 866.1 L368.6 861.8 L372.7 861.9 L373.5 866.2 L378.1 866.4 L380 862.2 L384 862.5 L384 866.8 L388.6 867.3 L391.2 863.2 L395.2 863.7 L394.4 868 L398.9 868.7 L402.2 864.9 L406.1 865.6 L404.6 869.8 L408.9 870.8 L412.9 867.1 L416.6 868 L414.4 872.1 L418.6 873.3 L423.1 869.9 L426.6 871.1 L423.7 875 L427.7 876.4 L432.8 873.3 L436.1 874.6 L432.5 878.4 L436.2 880 L441.8 877.2 L444.9 878.7 L440.7 882.2 L444.1 884.1 L450.2 881.5 L453 883.2 L448.2 886.5 L451.2 888.5 L457.7 886.3 L460.2 888.2 L454.9 891.2 L457.5 893.4 L464.4 891.6 L466.6 893.5 L460.7 896.2 L463 898.6 L470.2 897.1 L472 899.2 L465.7 901.6 L467.6 904 L474.9 903 L476.4 905.1 L469.7 907.2 L471.1 909.7 L478.6 909.1 L479.7 911.3 L472.7 912.9 L473.7 915.5 L481.3 915.3 L482 917.6 L474.7 918.8 L475.3 921.5 L482.8 921.7 L483.1 924 L475.7 924.8Z" stroke-width="1.56" fill="#fff" />
<ellipse cx="367.5" cy="927.5" rx="101" ry="57.3" stroke-width="1.08" fill="none" />
<path d="M268.2 928.5 L269.3 924.7 L271 920.9 L273.1 917.1 L275.8 913.5 L278.9 909.9 L282.5 906.5 L286.6 903.3 L291 900.2 L295.9 897.3 L301.2 894.6 L306.8 892.1 L312.7 889.8 L318.9 887.8 L325.3 886 L332 884.5 L338.9 883.3 L345.9 882.3 L353 881.6 L360.3 881.1 L367.5 881 L374.7 881.1 L382 881.6 L389.1 882.3 L396.1 883.3 L403 884.5 L409.7 886 L416.1 887.8 L422.3 889.8 L428.2 892.1 L433.8 894.6 L439.1 897.3 L444 900.2 L448.4 903.3 L452.5 906.5 L456.1 909.9 L459.2 913.5 L461.9 917.1 L464 920.9 L465.7 924.7 L466.8 928.5" stroke-width="0.96" fill="none" />
<path d="M354.1 912 L354.2 911.2 L354.4 910.4 L354.9 909.7 L355.5 908.9 L356.2 908.2 L357.1 907.6 L358.2 907 L359.3 906.4 L360.6 905.9 L362 905.5 L363.5 905.1 L365 904.9 L366.6 904.7 L368.2 904.5 L369.9 904.5 L371.6 904.5 L373.2 904.7 L374.8 904.9 L376.3 905.1 L377.8 905.5 L379.2 905.9 L380.5 906.4 L381.6 907 L382.7 907.6 L383.6 908.2 L384.3 908.9 L384.9 909.7 L385.4 910.4 L385.6 911.2 L385.7 912 L385.7 931.4 L385.6 932.2 L385.4 933 L384.9 933.7 L384.3 934.5 L383.6 935.1 L382.7 935.8 L381.6 936.4 L380.5 937 L379.2 937.5 L377.8 937.9 L376.3 938.3 L374.8 938.5 L373.2 938.7 L371.6 938.9 L369.9 938.9 L368.2 938.9 L366.6 938.7 L365 938.5 L363.5 938.3 L362 937.9 L360.6 937.5 L359.3 937 L358.2 936.4 L357.1 935.8 L356.2 935.1 L355.5 934.5 L354.9 933.7 L354.4 933 L354.2 932.2 L354.1 931.4Z" stroke-width="0.00" fill="#fff" stroke="none"/>
<line x1="354.1" y1="912" x2="354.1" y2="931.4" stroke-width="1.69" />
<line x1="385.7" y1="912" x2="385.7" y2="931.4" stroke-width="1.69" />
<path d="M385.7 931.4 L385.7 932 L385.5 932.6 L385.3 933.2 L384.9 933.7 L384.5 934.3 L384 934.8 L383.4 935.3 L382.7 935.8 L381.9 936.3 L381.1 936.7 L380.2 937.1 L379.2 937.5 L378.2 937.8 L377.1 938.1 L375.9 938.3 L374.8 938.5 L373.6 938.7 L372.4 938.8 L371.1 938.9 L369.9 938.9 L368.7 938.9 L367.4 938.8 L366.2 938.7 L365 938.5 L363.9 938.3 L362.7 938.1 L361.6 937.8 L360.6 937.5 L359.6 937.1 L358.7 936.7 L357.9 936.3 L357.1 935.8 L356.4 935.3 L355.8 934.8 L355.3 934.3 L354.9 933.7 L354.5 933.2 L354.3 932.6 L354.1 932 L354.1 931.4" stroke-width="1.69" fill="none" />
<ellipse cx="369.9" cy="912" rx="15.8" ry="7.5" stroke-width="1.69" fill="#fff" />
<rect x="467.9" y="896.5" width="25.4" height="68.5" fill="#fff" stroke="none"/>
<line x1="467.9" y1="896.5" x2="467.9" y2="965" stroke-width="1.56" />
<line x1="493.3" y1="896.5" x2="493.3" y2="965" stroke-width="1.56" />
<path d="M493.3 900.3 L492.7 901.2 L491.4 902.1 L489.4 902.9 L486.8 903.4 L483.8 903.8 L480.6 903.9 L477.4 903.8 L474.4 903.4 L471.8 902.9 L469.8 902.1 L468.5 901.2 L467.9 900.3" stroke-width="1.43" fill="none" />
<path d="M493.3 903.9 L492.7 904.8 L491.4 905.7 L489.4 906.5 L486.8 907 L483.8 907.4 L480.6 907.5 L477.4 907.4 L474.4 907 L471.8 906.5 L469.8 905.7 L468.5 904.8 L467.9 903.9" stroke-width="1.43" fill="none" />
<path d="M493.3 907.5 L492.7 908.4 L491.4 909.3 L489.4 910.1 L486.8 910.6 L483.8 911 L480.6 911.1 L477.4 911 L474.4 910.6 L471.8 910.1 L469.8 909.3 L468.5 908.4 L467.9 907.5" stroke-width="1.43" fill="none" />
<path d="M493.3 911.1 L492.7 912 L491.4 912.9 L489.4 913.7 L486.8 914.2 L483.8 914.6 L480.6 914.7 L477.4 914.6 L474.4 914.2 L471.8 913.7 L469.8 912.9 L468.5 912 L467.9 911.1" stroke-width="1.43" fill="none" />
<path d="M493.3 914.7 L492.7 915.6 L491.4 916.5 L489.4 917.3 L486.8 917.8 L483.8 918.2 L480.6 918.3 L477.4 918.2 L474.4 917.8 L471.8 917.3 L469.8 916.5 L468.5 915.6 L467.9 914.7" stroke-width="1.43" fill="none" />
<path d="M493.3 918.3 L492.7 919.2 L491.4 920.1 L489.4 920.9 L486.8 921.4 L483.8 921.8 L480.6 921.9 L477.4 921.8 L474.4 921.4 L471.8 920.9 L469.8 920.1 L468.5 919.2 L467.9 918.3" stroke-width="1.43" fill="none" />
<path d="M493.3 921.9 L492.7 922.8 L491.4 923.7 L489.4 924.5 L486.8 925 L483.8 925.4 L480.6 925.5 L477.4 925.4 L474.4 925 L471.8 924.5 L469.8 923.7 L468.5 922.8 L467.9 921.9" stroke-width="1.43" fill="none" />
<path d="M493.3 925.5 L492.7 926.4 L491.4 927.3 L489.4 928.1 L486.8 928.6 L483.8 929 L480.6 929.1 L477.4 929 L474.4 928.6 L471.8 928.1 L469.8 927.3 L468.5 926.4 L467.9 925.5" stroke-width="1.43" fill="none" />
<path d="M493.3 929.1 L492.7 930 L491.4 930.9 L489.4 931.7 L486.8 932.2 L483.8 932.6 L480.6 932.7 L477.4 932.6 L474.4 932.2 L471.8 931.7 L469.8 930.9 L468.5 930 L467.9 929.1" stroke-width="1.43" fill="none" />
<path d="M493.3 932.7 L492.7 933.6 L491.4 934.5 L489.4 935.3 L486.8 935.8 L483.8 936.2 L480.6 936.3 L477.4 936.2 L474.4 935.8 L471.8 935.3 L469.8 934.5 L468.5 933.6 L467.9 932.7" stroke-width="1.43" fill="none" />
<path d="M493.3 936.3 L492.7 937.2 L491.4 938.1 L489.4 938.9 L486.8 939.4 L483.8 939.8 L480.6 939.9 L477.4 939.8 L474.4 939.4 L471.8 938.9 L469.8 938.1 L468.5 937.2 L467.9 936.3" stroke-width="1.43" fill="none" />
<path d="M493.3 939.9 L492.7 940.8 L491.4 941.7 L489.4 942.5 L486.8 943 L483.8 943.4 L480.6 943.5 L477.4 943.4 L474.4 943 L471.8 942.5 L469.8 941.7 L468.5 940.8 L467.9 939.9" stroke-width="1.43" fill="none" />
<path d="M493.3 943.5 L492.7 944.4 L491.4 945.3 L489.4 946.1 L486.8 946.6 L483.8 947 L480.6 947.1 L477.4 947 L474.4 946.6 L471.8 946.1 L469.8 945.3 L468.5 944.4 L467.9 943.5" stroke-width="1.43" fill="none" />
<path d="M493.3 947.1 L492.7 948 L491.4 948.9 L489.4 949.7 L486.8 950.2 L483.8 950.6 L480.6 950.7 L477.4 950.6 L474.4 950.2 L471.8 949.7 L469.8 948.9 L468.5 948 L467.9 947.1" stroke-width="1.43" fill="none" />
<path d="M493.3 950.7 L492.7 951.6 L491.4 952.5 L489.4 953.3 L486.8 953.8 L483.8 954.2 L480.6 954.3 L477.4 954.2 L474.4 953.8 L471.8 953.3 L469.8 952.5 L468.5 951.6 L467.9 950.7" stroke-width="1.43" fill="none" />
<path d="M493.3 954.3 L492.7 955.2 L491.4 956.1 L489.4 956.9 L486.8 957.4 L483.8 957.8 L480.6 957.9 L477.4 957.8 L474.4 957.4 L471.8 956.9 L469.8 956.1 L468.5 955.2 L467.9 954.3" stroke-width="1.43" fill="none" />
<path d="M493.3 957.9 L492.7 958.8 L491.4 959.7 L489.4 960.5 L486.8 961 L483.8 961.4 L480.6 961.5 L477.4 961.4 L474.4 961 L471.8 960.5 L469.8 959.7 L468.5 958.8 L467.9 957.9" stroke-width="1.43" fill="none" />
<path d="M493.3 961.5 L492.7 962.4 L491.4 963.3 L489.4 964.1 L486.8 964.6 L483.8 965 L480.6 965.1 L477.4 965 L474.4 964.6 L471.8 964.1 L469.8 963.3 L468.5 962.4 L467.9 961.5" stroke-width="1.43" fill="none" />
<path d="M493.3 965.1 L492.7 966 L491.4 966.9 L489.4 967.7 L486.8 968.2 L483.8 968.6 L480.6 968.7 L477.4 968.6 L474.4 968.2 L471.8 967.7 L469.8 966.9 L468.5 966 L467.9 965.1" stroke-width="1.43" fill="none" />
<path d="M521 992.4 L526.5 992.9 L526.3 994.7 L520.8 994.9 L520.2 996.8 L525.4 997.9 L524.6 999.7 L519.1 999.2 L517.9 1001.1 L522.6 1002.7 L521.2 1004.3 L515.9 1003.3 L514.1 1005 L518.1 1007.1 L516.2 1008.6 L511.4 1007 L509 1008.4 L512.2 1010.9 L509.8 1012.1 L505.6 1010.1 L502.8 1011.3 L505.1 1014.1 L502.2 1015 L498.9 1012.5 L495.7 1013.3 L496.9 1016.3 L493.8 1016.9 L491.4 1014.2 L488 1014.6 L488.2 1017.7 L484.9 1018 L483.5 1015 L480 1015.1 L479.1 1018.1 L475.8 1018 L475.5 1014.9 L472 1014.6 L470 1017.5 L466.9 1017.1 L467.6 1014 L464.3 1013.3 L461.4 1016 L458.4 1015.2 L460.2 1012.3 L457.2 1011.3 L453.4 1013.5 L450.8 1012.4 L453.6 1009.8 L451 1008.4 L446.5 1010.2 L444.3 1008.9 L448 1006.6 L445.9 1005 L440.8 1006.3 L439.2 1004.7 L443.6 1002.9 L442.1 1001.1 L436.7 1001.8 L435.6 1000.1 L440.6 998.7 L439.8 996.8 L434.2 996.9 L433.8 995.1 L439.2 994.4 L439 992.4 L433.5 991.9 L433.7 990.1 L439.2 989.9 L439.8 988 L434.6 986.9 L435.4 985.1 L440.9 985.6 L442.1 983.7 L437.4 982.1 L438.8 980.5 L444.1 981.5 L445.9 979.8 L441.9 977.7 L443.8 976.2 L448.6 977.8 L451 976.4 L447.8 973.9 L450.2 972.7 L454.4 974.7 L457.2 973.5 L454.9 970.7 L457.8 969.8 L461.1 972.3 L464.3 971.5 L463.1 968.5 L466.2 967.9 L468.6 970.6 L472 970.2 L471.8 967.1 L475.1 966.8 L476.5 969.8 L480 969.7 L480.9 966.7 L484.2 966.8 L484.5 969.9 L488 970.2 L490 967.3 L493.1 967.7 L492.4 970.8 L495.7 971.5 L498.6 968.8 L501.6 969.6 L499.8 972.5 L502.8 973.5 L506.6 971.3 L509.2 972.4 L506.4 975 L509 976.4 L513.5 974.6 L515.7 975.9 L512 978.2 L514.1 979.8 L519.2 978.5 L520.8 980.1 L516.4 981.9 L517.9 983.7 L523.3 983 L524.4 984.7 L519.4 986.1 L520.2 988 L525.8 987.9 L526.2 989.7 L520.8 990.4Z" stroke-width="0.00" fill="#fff" stroke="none"/>
<rect x="433.5" y="992.4" width="93" height="23.4" fill="#fff" stroke="none"/>
<path d="M521 1015.8 L526.5 1016.3 L526.3 1018.1 L520.8 1018.3 L520.2 1020.2 L525.4 1021.3 L524.6 1023.1 L519.1 1022.6 L517.9 1024.5 L522.6 1026.1 L521.2 1027.7 L515.9 1026.7 L514.1 1028.4 L518.1 1030.5 L516.2 1032 L511.4 1030.4 L509 1031.8 L512.2 1034.3 L509.8 1035.5 L505.6 1033.5 L502.8 1034.7 L505.1 1037.5 L502.2 1038.4 L498.9 1035.9 L495.7 1036.7 L496.9 1039.7 L493.8 1040.3 L491.4 1037.6 L488 1038 L488.2 1041.1 L484.9 1041.4 L483.5 1038.4 L480 1038.5 L479.1 1041.5 L475.8 1041.4 L475.5 1038.3 L472 1038 L470 1040.9 L466.9 1040.5 L467.6 1037.4 L464.3 1036.7 L461.4 1039.4 L458.4 1038.6 L460.2 1035.7 L457.2 1034.7 L453.4 1036.9 L450.8 1035.8 L453.6 1033.2 L451 1031.8 L446.5 1033.6 L444.3 1032.3 L448 1030 L445.9 1028.4 L440.8 1029.7 L439.2 1028.1 L443.6 1026.3 L442.1 1024.5 L436.7 1025.2 L435.6 1023.5 L440.6 1022.1 L439.8 1020.2 L434.2 1020.3 L433.8 1018.5 L439.2 1017.8 L439 1015.8 L433.5 1015.3 L433.7 1013.5 L439.2 1013.3 L439.8 1011.4 L434.6 1010.3 L435.4 1008.5 L440.9 1009 L442.1 1007.1 L437.4 1005.5 L438.8 1003.9 L444.1 1004.9 L445.9 1003.2 L441.9 1001.1 L443.8 999.6 L448.6 1001.2 L451 999.8 L447.8 997.3 L450.2 996.1 L454.4 998.1 L457.2 996.9 L454.9 994.1 L457.8 993.2 L461.1 995.7 L464.3 994.9 L463.1 991.9 L466.2 991.3 L468.6 994 L472 993.6 L471.8 990.5 L475.1 990.2 L476.5 993.2 L480 993.1 L480.9 990.1 L484.2 990.2 L484.5 993.3 L488 993.6 L490 990.7 L493.1 991.1 L492.4 994.2 L495.7 994.9 L498.6 992.2 L501.6 993 L499.8 995.9 L502.8 996.9 L506.6 994.7 L509.2 995.8 L506.4 998.4 L509 999.8 L513.5 998 L515.7 999.3 L512 1001.6 L514.1 1003.2 L519.2 1001.9 L520.8 1003.5 L516.4 1005.3 L517.9 1007.1 L523.3 1006.4 L524.4 1008.1 L519.4 1009.5 L520.2 1011.4 L525.8 1011.3 L526.2 1013.1 L520.8 1013.8Z" stroke-width="0.00" fill="#fff" stroke="none"/>
<path d="M521 1015.8 L526.5 1016.3 L526.3 1018.1 L520.8 1018.3 L520.2 1020.2 L525.4 1021.3 L524.6 1023.1 L519.1 1022.6 L517.9 1024.5 L522.6 1026.1 L521.2 1027.7 L515.9 1026.7 L514.1 1028.4 L518.1 1030.5 L516.2 1032 L511.4 1030.4 L509 1031.8 L512.2 1034.3 L509.8 1035.5 L505.6 1033.5 L502.8 1034.7 L505.1 1037.5 L502.2 1038.4 L498.9 1035.9 L495.7 1036.7 L496.9 1039.7 L493.8 1040.3 L491.4 1037.6 L488 1038 L488.2 1041.1 L484.9 1041.4 L483.5 1038.4 L480 1038.5 L479.1 1041.5 L475.8 1041.4 L475.5 1038.3 L472 1038 L470 1040.9 L466.9 1040.5 L467.6 1037.4 L464.3 1036.7 L461.4 1039.4 L458.4 1038.6 L460.2 1035.7 L457.2 1034.7 L453.4 1036.9 L450.8 1035.8 L453.6 1033.2 L451 1031.8 L446.5 1033.6 L444.3 1032.3 L448 1030 L445.9 1028.4 L440.8 1029.7 L439.2 1028.1 L443.6 1026.3 L442.1 1024.5 L436.7 1025.2 L435.6 1023.5 L440.6 1022.1 L439.8 1020.2 L434.2 1020.3 L433.8 1018.5 L439.2 1017.8 L439 1015.8 L433.5 1015.3" stroke-width="1.56" fill="none" />
<line x1="526.3" y1="994.7" x2="526.3" y2="1018.1" stroke-width="0.96" />
<line x1="525.4" y1="997.9" x2="525.4" y2="1021.3" stroke-width="0.96" />
<line x1="524.6" y1="999.7" x2="524.6" y2="1023.1" stroke-width="0.96" />
<line x1="522.6" y1="1002.7" x2="522.6" y2="1026.1" stroke-width="0.96" />
<line x1="521.2" y1="1004.3" x2="521.2" y2="1027.7" stroke-width="0.96" />
<line x1="515.9" y1="1003.3" x2="515.9" y2="1026.7" stroke-width="0.54" />
<line x1="514.1" y1="1005" x2="514.1" y2="1028.4" stroke-width="0.54" />
<line x1="518.1" y1="1007.1" x2="518.1" y2="1030.5" stroke-width="0.96" />
<line x1="516.2" y1="1008.6" x2="516.2" y2="1032" stroke-width="0.96" />
<line x1="511.4" y1="1007" x2="511.4" y2="1030.4" stroke-width="0.54" />
<line x1="509" y1="1008.4" x2="509" y2="1031.8" stroke-width="0.54" />
<line x1="512.2" y1="1010.9" x2="512.2" y2="1034.3" stroke-width="0.96" />
<line x1="509.8" y1="1012.1" x2="509.8" y2="1035.5" stroke-width="0.96" />
<line x1="505.6" y1="1010.1" x2="505.6" y2="1033.5" stroke-width="0.54" />
<line x1="502.8" y1="1011.3" x2="502.8" y2="1034.7" stroke-width="0.54" />
<line x1="505.1" y1="1014.1" x2="505.1" y2="1037.5" stroke-width="0.96" />
<line x1="502.2" y1="1015" x2="502.2" y2="1038.4" stroke-width="0.96" />
<line x1="498.9" y1="1012.5" x2="498.9" y2="1035.9" stroke-width="0.54" />
<line x1="495.7" y1="1013.3" x2="495.7" y2="1036.7" stroke-width="0.54" />
<line x1="496.9" y1="1016.3" x2="496.9" y2="1039.7" stroke-width="0.96" />
<line x1="493.8" y1="1016.9" x2="493.8" y2="1040.3" stroke-width="0.96" />
<line x1="491.4" y1="1014.2" x2="491.4" y2="1037.6" stroke-width="0.54" />
<line x1="488" y1="1014.6" x2="488" y2="1038" stroke-width="0.54" />
<line x1="488.2" y1="1017.7" x2="488.2" y2="1041.1" stroke-width="0.96" />
<line x1="484.9" y1="1018" x2="484.9" y2="1041.4" stroke-width="0.96" />
<line x1="483.5" y1="1015" x2="483.5" y2="1038.4" stroke-width="0.54" />
<line x1="480" y1="1015.1" x2="480" y2="1038.5" stroke-width="0.54" />
<line x1="479.1" y1="1018.1" x2="479.1" y2="1041.5" stroke-width="0.96" />
<line x1="475.8" y1="1018" x2="475.8" y2="1041.4" stroke-width="0.96" />
<line x1="475.5" y1="1014.9" x2="475.5" y2="1038.3" stroke-width="0.54" />
<line x1="472" y1="1014.6" x2="472" y2="1038" stroke-width="0.54" />
<line x1="470" y1="1017.5" x2="470" y2="1040.9" stroke-width="0.96" />
<line x1="466.9" y1="1017.1" x2="466.9" y2="1040.5" stroke-width="0.96" />
<line x1="467.6" y1="1014" x2="467.6" y2="1037.4" stroke-width="0.54" />
<line x1="464.3" y1="1013.3" x2="464.3" y2="1036.7" stroke-width="0.54" />
<line x1="461.4" y1="1016" x2="461.4" y2="1039.4" stroke-width="0.96" />
<line x1="458.4" y1="1015.2" x2="458.4" y2="1038.6" stroke-width="0.96" />
<line x1="460.2" y1="1012.3" x2="460.2" y2="1035.7" stroke-width="0.54" />
<line x1="457.2" y1="1011.3" x2="457.2" y2="1034.7" stroke-width="0.54" />
<line x1="453.4" y1="1013.5" x2="453.4" y2="1036.9" stroke-width="0.96" />
<line x1="450.8" y1="1012.4" x2="450.8" y2="1035.8" stroke-width="0.96" />
<line x1="453.6" y1="1009.8" x2="453.6" y2="1033.2" stroke-width="0.54" />
<line x1="451" y1="1008.4" x2="451" y2="1031.8" stroke-width="0.54" />
<line x1="446.5" y1="1010.2" x2="446.5" y2="1033.6" stroke-width="0.96" />
<line x1="444.3" y1="1008.9" x2="444.3" y2="1032.3" stroke-width="0.96" />
<line x1="448" y1="1006.6" x2="448" y2="1030" stroke-width="0.54" />
<line x1="445.9" y1="1005" x2="445.9" y2="1028.4" stroke-width="0.54" />
<line x1="440.8" y1="1006.3" x2="440.8" y2="1029.7" stroke-width="0.96" />
<line x1="439.2" y1="1004.7" x2="439.2" y2="1028.1" stroke-width="0.96" />
<line x1="443.6" y1="1002.9" x2="443.6" y2="1026.3" stroke-width="0.54" />
<line x1="436.7" y1="1001.8" x2="436.7" y2="1025.2" stroke-width="0.96" />
<line x1="435.6" y1="1000.1" x2="435.6" y2="1023.5" stroke-width="0.96" />
<line x1="434.2" y1="996.9" x2="434.2" y2="1020.3" stroke-width="0.96" />
<line x1="433.8" y1="995.1" x2="433.8" y2="1018.5" stroke-width="0.96" />
<line x1="433.5" y1="992.4" x2="433.5" y2="1015.8" stroke-width="1.56" />
<line x1="526.5" y1="992.4" x2="526.5" y2="1015.8" stroke-width="1.56" />
<path d="M521 992.4 L526.5 992.9 L526.3 994.7 L520.8 994.9 L520.2 996.8 L525.4 997.9 L524.6 999.7 L519.1 999.2 L517.9 1001.1 L522.6 1002.7 L521.2 1004.3 L515.9 1003.3 L514.1 1005 L518.1 1007.1 L516.2 1008.6 L511.4 1007 L509 1008.4 L512.2 1010.9 L509.8 1012.1 L505.6 1010.1 L502.8 1011.3 L505.1 1014.1 L502.2 1015 L498.9 1012.5 L495.7 1013.3 L496.9 1016.3 L493.8 1016.9 L491.4 1014.2 L488 1014.6 L488.2 1017.7 L484.9 1018 L483.5 1015 L480 1015.1 L479.1 1018.1 L475.8 1018 L475.5 1014.9 L472 1014.6 L470 1017.5 L466.9 1017.1 L467.6 1014 L464.3 1013.3 L461.4 1016 L458.4 1015.2 L460.2 1012.3 L457.2 1011.3 L453.4 1013.5 L450.8 1012.4 L453.6 1009.8 L451 1008.4 L446.5 1010.2 L444.3 1008.9 L448 1006.6 L445.9 1005 L440.8 1006.3 L439.2 1004.7 L443.6 1002.9 L442.1 1001.1 L436.7 1001.8 L435.6 1000.1 L440.6 998.7 L439.8 996.8 L434.2 996.9 L433.8 995.1 L439.2 994.4 L439 992.4 L433.5 991.9 L433.7 990.1 L439.2 989.9 L439.8 988 L434.6 986.9 L435.4 985.1 L440.9 985.6 L442.1 983.7 L437.4 982.1 L438.8 980.5 L444.1 981.5 L445.9 979.8 L441.9 977.7 L443.8 976.2 L448.6 977.8 L451 976.4 L447.8 973.9 L450.2 972.7 L454.4 974.7 L457.2 973.5 L454.9 970.7 L457.8 969.8 L461.1 972.3 L464.3 971.5 L463.1 968.5 L466.2 967.9 L468.6 970.6 L472 970.2 L471.8 967.1 L475.1 966.8 L476.5 969.8 L480 969.7 L480.9 966.7 L484.2 966.8 L484.5 969.9 L488 970.2 L490 967.3 L493.1 967.7 L492.4 970.8 L495.7 971.5 L498.6 968.8 L501.6 969.6 L499.8 972.5 L502.8 973.5 L506.6 971.3 L509.2 972.4 L506.4 975 L509 976.4 L513.5 974.6 L515.7 975.9 L512 978.2 L514.1 979.8 L519.2 978.5 L520.8 980.1 L516.4 981.9 L517.9 983.7 L523.3 983 L524.4 984.7 L519.4 986.1 L520.2 988 L525.8 987.9 L526.2 989.7 L520.8 990.4Z" stroke-width="1.56" fill="#fff" />
<ellipse cx="480" cy="995.5" rx="37.7" ry="20.8" stroke-width="1.08" fill="none" />
<path d="M466.5 979.7 L466.6 979 L466.8 978.3 L467.2 977.7 L467.8 977.1 L468.5 976.5 L469.4 975.9 L470.4 975.4 L471.5 974.9 L472.7 974.4 L474 974.1 L475.4 973.8 L476.9 973.5 L478.4 973.3 L479.9 973.2 L481.5 973.2 L483.1 973.2 L484.6 973.3 L486.1 973.5 L487.6 973.8 L489 974.1 L490.3 974.4 L491.5 974.9 L492.6 975.4 L493.6 975.9 L494.5 976.5 L495.2 977.1 L495.8 977.7 L496.2 978.3 L496.4 979 L496.5 979.7 L496.5 1000.5 L496.4 1001.2 L496.2 1001.9 L495.8 1002.5 L495.2 1003.1 L494.5 1003.8 L493.6 1004.3 L492.6 1004.8 L491.5 1005.3 L490.3 1005.8 L489 1006.1 L487.6 1006.4 L486.1 1006.7 L484.6 1006.9 L483.1 1007 L481.5 1007 L479.9 1007 L478.4 1006.9 L476.9 1006.7 L475.4 1006.4 L474 1006.1 L472.7 1005.8 L471.5 1005.3 L470.4 1004.8 L469.4 1004.3 L468.5 1003.8 L467.8 1003.1 L467.2 1002.5 L466.8 1001.9 L466.6 1001.2 L466.5 1000.5Z" stroke-width="0.00" fill="#fff" stroke="none"/>
<line x1="466.5" y1="979.7" x2="466.5" y2="1000.5" stroke-width="1.69" />
<line x1="496.5" y1="979.7" x2="496.5" y2="1000.5" stroke-width="1.69" />
<path d="M496.5 1000.5 L496.5 1001 L496.3 1001.5 L496.1 1002 L495.8 1002.5 L495.4 1003 L494.9 1003.5 L494.3 1003.9 L493.6 1004.3 L492.9 1004.7 L492.1 1005.1 L491.2 1005.4 L490.3 1005.8 L489.3 1006 L488.3 1006.3 L487.2 1006.5 L486.1 1006.7 L485 1006.8 L483.8 1006.9 L482.7 1007 L481.5 1007 L480.3 1007 L479.2 1006.9 L478 1006.8 L476.9 1006.7 L475.8 1006.5 L474.7 1006.3 L473.7 1006 L472.7 1005.8 L471.8 1005.4 L470.9 1005.1 L470.1 1004.7 L469.4 1004.3 L468.7 1003.9 L468.1 1003.5 L467.6 1003 L467.2 1002.5 L466.9 1002 L466.7 1001.5 L466.5 1001 L466.5 1000.5" stroke-width="1.69" fill="none" />
<ellipse cx="481.5" cy="979.7" rx="15" ry="6.5" stroke-width="1.69" fill="#fff" />
<rect x="204.6" y="748" width="24.7" height="136" fill="#fff" stroke="none"/>
<line x1="204.6" y1="748" x2="204.6" y2="884" stroke-width="1.56" />
<line x1="229.3" y1="748" x2="229.3" y2="884" stroke-width="1.56" />
<path d="M229.3 751.9 L228.7 752.8 L227.4 753.7 L225.5 754.4 L222.9 754.9 L220 755.3 L216.9 755.4 L213.9 755.3 L211 754.9 L208.4 754.4 L206.5 753.7 L205.2 752.8 L204.6 751.9" stroke-width="1.49" fill="none" />
<path d="M229.3 755.6 L228.7 756.5 L227.4 757.4 L225.5 758.1 L222.9 758.6 L220 759 L216.9 759.1 L213.9 759 L211 758.6 L208.4 758.1 L206.5 757.4 L205.2 756.5 L204.6 755.6" stroke-width="1.49" fill="none" />
<path d="M229.3 759.3 L228.7 760.2 L227.4 761.1 L225.5 761.8 L222.9 762.3 L220 762.7 L216.9 762.8 L213.9 762.7 L211 762.3 L208.4 761.8 L206.5 761.1 L205.2 760.2 L204.6 759.3" stroke-width="1.49" fill="none" />
<path d="M229.3 763 L228.7 763.9 L227.4 764.8 L225.5 765.5 L222.9 766 L220 766.4 L216.9 766.5 L213.9 766.4 L211 766 L208.4 765.5 L206.5 764.8 L205.2 763.9 L204.6 763" stroke-width="1.49" fill="none" />
<path d="M229.3 766.7 L228.7 767.6 L227.4 768.5 L225.5 769.2 L222.9 769.7 L220 770.1 L216.9 770.2 L213.9 770.1 L211 769.7 L208.4 769.2 L206.5 768.5 L205.2 767.6 L204.6 766.7" stroke-width="1.49" fill="none" />
<path d="M229.3 770.4 L228.7 771.3 L227.4 772.2 L225.5 772.9 L222.9 773.4 L220 773.8 L216.9 773.9 L213.9 773.8 L211 773.4 L208.4 772.9 L206.5 772.2 L205.2 771.3 L204.6 770.4" stroke-width="1.49" fill="none" />
<path d="M229.3 774.1 L228.7 775 L227.4 775.9 L225.5 776.6 L222.9 777.1 L220 777.5 L216.9 777.6 L213.9 777.5 L211 777.1 L208.4 776.6 L206.5 775.9 L205.2 775 L204.6 774.1" stroke-width="1.49" fill="none" />
<path d="M229.3 777.8 L228.7 778.7 L227.4 779.6 L225.5 780.3 L222.9 780.8 L220 781.2 L216.9 781.3 L213.9 781.2 L211 780.8 L208.4 780.3 L206.5 779.6 L205.2 778.7 L204.6 777.8" stroke-width="1.49" fill="none" />
<path d="M229.3 781.5 L228.7 782.4 L227.4 783.3 L225.5 784 L222.9 784.5 L220 784.9 L216.9 785 L213.9 784.9 L211 784.5 L208.4 784 L206.5 783.3 L205.2 782.4 L204.6 781.5" stroke-width="1.49" fill="none" />
<path d="M229.3 785.2 L228.7 786.1 L227.4 787 L225.5 787.7 L222.9 788.2 L220 788.6 L216.9 788.7 L213.9 788.6 L211 788.2 L208.4 787.7 L206.5 787 L205.2 786.1 L204.6 785.2" stroke-width="1.49" fill="none" />
<path d="M229.3 788.9 L228.7 789.8 L227.4 790.7 L225.5 791.4 L222.9 791.9 L220 792.3 L216.9 792.4 L213.9 792.3 L211 791.9 L208.4 791.4 L206.5 790.7 L205.2 789.8 L204.6 788.9" stroke-width="1.49" fill="none" />
<path d="M229.3 792.6 L228.7 793.5 L227.4 794.4 L225.5 795.1 L222.9 795.6 L220 796 L216.9 796.1 L213.9 796 L211 795.6 L208.4 795.1 L206.5 794.4 L205.2 793.5 L204.6 792.6" stroke-width="1.49" fill="none" />
<path d="M229.3 796.3 L228.7 797.2 L227.4 798.1 L225.5 798.8 L222.9 799.3 L220 799.7 L216.9 799.8 L213.9 799.7 L211 799.3 L208.4 798.8 L206.5 798.1 L205.2 797.2 L204.6 796.3" stroke-width="1.49" fill="none" />
<path d="M229.3 800 L228.7 800.9 L227.4 801.8 L225.5 802.5 L222.9 803 L220 803.4 L216.9 803.5 L213.9 803.4 L211 803 L208.4 802.5 L206.5 801.8 L205.2 800.9 L204.6 800" stroke-width="1.49" fill="none" />
<path d="M229.3 803.7 L228.7 804.6 L227.4 805.5 L225.5 806.2 L222.9 806.7 L220 807.1 L216.9 807.2 L213.9 807.1 L211 806.7 L208.4 806.2 L206.5 805.5 L205.2 804.6 L204.6 803.7" stroke-width="1.49" fill="none" />
<path d="M229.3 807.4 L228.7 808.3 L227.4 809.2 L225.5 809.9 L222.9 810.4 L220 810.8 L216.9 810.9 L213.9 810.8 L211 810.4 L208.4 809.9 L206.5 809.2 L205.2 808.3 L204.6 807.4" stroke-width="1.49" fill="none" />
<path d="M229.3 811.1 L228.7 812 L227.4 812.9 L225.5 813.6 L222.9 814.1 L220 814.5 L216.9 814.6 L213.9 814.5 L211 814.1 L208.4 813.6 L206.5 812.9 L205.2 812 L204.6 811.1" stroke-width="1.49" fill="none" />
<path d="M229.3 814.8 L228.7 815.7 L227.4 816.6 L225.5 817.3 L222.9 817.8 L220 818.2 L216.9 818.3 L213.9 818.2 L211 817.8 L208.4 817.3 L206.5 816.6 L205.2 815.7 L204.6 814.8" stroke-width="1.49" fill="none" />
<path d="M229.3 818.5 L228.7 819.4 L227.4 820.3 L225.5 821 L222.9 821.5 L220 821.9 L216.9 822 L213.9 821.9 L211 821.5 L208.4 821 L206.5 820.3 L205.2 819.4 L204.6 818.5" stroke-width="1.49" fill="none" />
<path d="M229.3 822.2 L228.7 823.1 L227.4 824 L225.5 824.7 L222.9 825.2 L220 825.6 L216.9 825.7 L213.9 825.6 L211 825.2 L208.4 824.7 L206.5 824 L205.2 823.1 L204.6 822.2" stroke-width="1.49" fill="none" />
<path d="M229.3 825.9 L228.7 826.8 L227.4 827.7 L225.5 828.4 L222.9 828.9 L220 829.3 L216.9 829.4 L213.9 829.3 L211 828.9 L208.4 828.4 L206.5 827.7 L205.2 826.8 L204.6 825.9" stroke-width="1.49" fill="none" />
<path d="M229.3 829.6 L228.7 830.5 L227.4 831.4 L225.5 832.1 L222.9 832.6 L220 833 L216.9 833.1 L213.9 833 L211 832.6 L208.4 832.1 L206.5 831.4 L205.2 830.5 L204.6 829.6" stroke-width="1.49" fill="none" />
<path d="M229.3 833.3 L228.7 834.2 L227.4 835.1 L225.5 835.8 L222.9 836.3 L220 836.7 L216.9 836.8 L213.9 836.7 L211 836.3 L208.4 835.8 L206.5 835.1 L205.2 834.2 L204.6 833.3" stroke-width="1.49" fill="none" />
<path d="M229.3 837 L228.7 837.9 L227.4 838.8 L225.5 839.5 L222.9 840 L220 840.4 L216.9 840.5 L213.9 840.4 L211 840 L208.4 839.5 L206.5 838.8 L205.2 837.9 L204.6 837" stroke-width="1.49" fill="none" />
<path d="M229.3 840.7 L228.7 841.6 L227.4 842.5 L225.5 843.2 L222.9 843.7 L220 844.1 L216.9 844.2 L213.9 844.1 L211 843.7 L208.4 843.2 L206.5 842.5 L205.2 841.6 L204.6 840.7" stroke-width="1.49" fill="none" />
<path d="M229.3 844.4 L228.7 845.3 L227.4 846.2 L225.5 846.9 L222.9 847.4 L220 847.8 L216.9 847.9 L213.9 847.8 L211 847.4 L208.4 846.9 L206.5 846.2 L205.2 845.3 L204.6 844.4" stroke-width="1.49" fill="none" />
<path d="M229.3 848.1 L228.7 849 L227.4 849.9 L225.5 850.6 L222.9 851.1 L220 851.5 L216.9 851.6 L213.9 851.5 L211 851.1 L208.4 850.6 L206.5 849.9 L205.2 849 L204.6 848.1" stroke-width="1.49" fill="none" />
<path d="M229.3 851.8 L228.7 852.7 L227.4 853.6 L225.5 854.3 L222.9 854.8 L220 855.2 L216.9 855.3 L213.9 855.2 L211 854.8 L208.4 854.3 L206.5 853.6 L205.2 852.7 L204.6 851.8" stroke-width="1.49" fill="none" />
<path d="M229.3 855.5 L228.7 856.4 L227.4 857.3 L225.5 858 L222.9 858.5 L220 858.9 L216.9 859 L213.9 858.9 L211 858.5 L208.4 858 L206.5 857.3 L205.2 856.4 L204.6 855.5" stroke-width="1.49" fill="none" />
<path d="M229.3 859.2 L228.7 860.1 L227.4 861 L225.5 861.7 L222.9 862.2 L220 862.6 L216.9 862.7 L213.9 862.6 L211 862.2 L208.4 861.7 L206.5 861 L205.2 860.1 L204.6 859.2" stroke-width="1.49" fill="none" />
<path d="M229.3 862.9 L228.7 863.8 L227.4 864.7 L225.5 865.4 L222.9 865.9 L220 866.3 L216.9 866.4 L213.9 866.3 L211 865.9 L208.4 865.4 L206.5 864.7 L205.2 863.8 L204.6 862.9" stroke-width="1.49" fill="none" />
<path d="M229.3 866.6 L228.7 867.5 L227.4 868.4 L225.5 869.1 L222.9 869.6 L220 870 L216.9 870.1 L213.9 870 L211 869.6 L208.4 869.1 L206.5 868.4 L205.2 867.5 L204.6 866.6" stroke-width="1.49" fill="none" />
<path d="M229.3 870.3 L228.7 871.2 L227.4 872.1 L225.5 872.8 L222.9 873.3 L220 873.7 L216.9 873.8 L213.9 873.7 L211 873.3 L208.4 872.8 L206.5 872.1 L205.2 871.2 L204.6 870.3" stroke-width="1.49" fill="none" />
<path d="M229.3 874 L228.7 874.9 L227.4 875.8 L225.5 876.5 L222.9 877 L220 877.4 L216.9 877.5 L213.9 877.4 L211 877 L208.4 876.5 L206.5 875.8 L205.2 874.9 L204.6 874" stroke-width="1.49" fill="none" />
<path d="M229.3 877.7 L228.7 878.6 L227.4 879.5 L225.5 880.2 L222.9 880.7 L220 881.1 L216.9 881.2 L213.9 881.1 L211 880.7 L208.4 880.2 L206.5 879.5 L205.2 878.6 L204.6 877.7" stroke-width="1.49" fill="none" />
<path d="M229.3 881.4 L228.7 882.3 L227.4 883.2 L225.5 883.9 L222.9 884.4 L220 884.8 L216.9 884.9 L213.9 884.8 L211 884.4 L208.4 883.9 L206.5 883.2 L205.2 882.3 L204.6 881.4" stroke-width="1.49" fill="none" />
<path d="M203.3 879 L203.4 878.4 L203.6 877.8 L204 877.1 L204.5 876.6 L205.1 876 L205.9 875.5 L206.8 875 L207.8 874.5 L208.9 874.1 L210.1 873.8 L211.3 873.5 L212.6 873.3 L214 873.1 L215.4 873 L216.8 873 L218.2 873 L219.6 873.1 L221 873.3 L222.3 873.5 L223.6 873.8 L224.7 874.1 L225.8 874.5 L226.8 875 L227.7 875.5 L228.5 876 L229.1 876.6 L229.6 877.1 L230 877.8 L230.2 878.4 L230.3 879 L230.3 889 L230.2 889.6 L230 890.2 L229.6 890.9 L229.1 891.4 L228.5 892 L227.7 892.5 L226.8 893 L225.8 893.5 L224.7 893.9 L223.6 894.2 L222.3 894.5 L221 894.7 L219.6 894.9 L218.2 895 L216.8 895 L215.4 895 L214 894.9 L212.6 894.7 L211.3 894.5 L210.1 894.2 L208.9 893.9 L207.8 893.5 L206.8 893 L205.9 892.5 L205.1 892 L204.5 891.4 L204 890.9 L203.6 890.2 L203.4 889.6 L203.3 889Z" stroke-width="0.00" fill="#fff" stroke="none"/>
<line x1="203.3" y1="879" x2="203.3" y2="889" stroke-width="1.56" />
<line x1="230.3" y1="879" x2="230.3" y2="889" stroke-width="1.56" />
<path d="M230.3 889 L230.3 889.5 L230.1 889.9 L229.9 890.4 L229.6 890.9 L229.3 891.3 L228.8 891.7 L228.3 892.1 L227.7 892.5 L227.1 892.9 L226.3 893.2 L225.6 893.6 L224.7 893.9 L223.9 894.1 L222.9 894.3 L222 894.5 L221 894.7 L220 894.8 L218.9 894.9 L217.9 895 L216.8 895 L215.7 895 L214.7 894.9 L213.6 894.8 L212.6 894.7 L211.6 894.5 L210.7 894.3 L209.7 894.1 L208.9 893.9 L208 893.6 L207.3 893.2 L206.5 892.9 L205.9 892.5 L205.3 892.1 L204.8 891.7 L204.3 891.3 L204 890.9 L203.7 890.4 L203.5 889.9 L203.3 889.5 L203.3 889" stroke-width="1.56" fill="none" />
<line x1="269.7" y1="781" x2="269.7" y2="887" stroke-width="1.00" stroke-dasharray="9 3 2 3"/>
<line x1="217.4" y1="945" x2="217.4" y2="1010" stroke-width="1.00" stroke-dasharray="9 3 2 3"/>
<line x1="217.4" y1="1037" x2="217.4" y2="1155" stroke-width="1.00" stroke-dasharray="9 3 2 3"/>
<line x1="415.5" y1="866" x2="415.5" y2="1124" stroke-width="1.00" stroke-dasharray="9 3 2 3"/>
<line x1="480.7" y1="1042" x2="480.7" y2="1084" stroke-width="1.00" stroke-dasharray="9 3 2 3"/>
<line x1="480.7" y1="1141" x2="480.7" y2="1163" stroke-width="1.00" stroke-dasharray="9 3 2 3"/>
<line x1="540.2" y1="897" x2="540.2" y2="1053" stroke-width="1.00" stroke-dasharray="9 3 2 3"/>
<path d="M88.3 653.5 L94.8 649.8 L99.5 652.5 L233.7 575.2 L233.7 570.5 L239.7 566.9 L650.7 803.6 L650.7 826 L499.2 912.4 L88.3 675.7Z" stroke-width="0.00" fill="#fff" stroke="none"/>
<g transform="matrix(0.866,0.5,-0.866,0.5,233.7,575.2)" stroke-dasharray="6 4" >
<rect x="56" y="45" width="72" height="46" rx="10" ry="10" vector-effect="non-scaling-stroke" stroke-width="1"/>
<rect x="56" y="99" width="72" height="52" rx="10" ry="10" vector-effect="non-scaling-stroke" stroke-width="1"/>
<rect x="137" y="45" width="72" height="46" rx="10" ry="10" vector-effect="non-scaling-stroke" stroke-width="1"/>
<rect x="137" y="99" width="72" height="52" rx="10" ry="10" vector-effect="non-scaling-stroke" stroke-width="1"/>
<rect x="218" y="45" width="72" height="46" rx="10" ry="10" vector-effect="non-scaling-stroke" stroke-width="1"/>
<rect x="218" y="99" width="72" height="52" rx="10" ry="10" vector-effect="non-scaling-stroke" stroke-width="1"/>
<rect x="299" y="45" width="72" height="46" rx="10" ry="10" vector-effect="non-scaling-stroke" stroke-width="1"/>
<rect x="299" y="99" width="72" height="52" rx="10" ry="10" vector-effect="non-scaling-stroke" stroke-width="1"/>
<rect x="380" y="45" width="72" height="46" rx="10" ry="10" vector-effect="non-scaling-stroke" stroke-width="1"/>
<rect x="380" y="99" width="72" height="52" rx="10" ry="10" vector-effect="non-scaling-stroke" stroke-width="1"/>
<path d="M58 33 L126 33 M139 33 L207 33 M220 33 L288 33 M301 33 L369 33 M382 33 L450 33 M46 49 L46 87 M46 103 L46 147 M22 33 L58 33 M22 45 L42 45 Q46 45 46 49 M22 91 L42 91 Q46 91 46 87 M22 99 L42 99 Q46 99 46 103 M452 33 L462 33 Q466 33 466 37 M455 91 L490 91 M455 99 L490 99 M466 46 L466 86 M466 104 L466 146 M455 151 L490 151" vector-effect="non-scaling-stroke" stroke-width="1"/>
<circle cx="133.5" cy="38.6" r="19" vector-effect="non-scaling-stroke" stroke-width="1"/>
<circle cx="133.5" cy="38.6" r="11" vector-effect="non-scaling-stroke" stroke-width="1"/>
<circle cx="133.8" cy="158.2" r="19" vector-effect="non-scaling-stroke" stroke-width="1"/>
<circle cx="133.8" cy="158.2" r="11" vector-effect="non-scaling-stroke" stroke-width="1"/>
<circle cx="375.5" cy="94.5" r="19" vector-effect="non-scaling-stroke" stroke-width="1"/>
<circle cx="375.5" cy="94.5" r="11" vector-effect="non-scaling-stroke" stroke-width="1"/>
</g>
<path d="M88.3 653.5 L94.8 649.8" stroke-width="1.95" fill="none" />
<line x1="94.8" y1="649.8" x2="221.4" y2="723.6" stroke-width="1.95" />
<line x1="251.7" y1="741.4" x2="504.8" y2="888.8" stroke-width="1.95" />
<line x1="88.3" y1="653.5" x2="499.2" y2="892.2" stroke-width="0.95" />
<line x1="90" y1="655" x2="497" y2="891.5" stroke-width="0.90" stroke-dasharray="2 2 1 4"/>
<line x1="88.3" y1="653.5" x2="88.3" y2="675.7" stroke-width="1.95" />
<line x1="88.3" y1="675.7" x2="499.2" y2="912.4" stroke-width="1.62" />
<line x1="499.2" y1="892.2" x2="499.2" y2="912.4" stroke-width="1.69" />
<line x1="499.2" y1="912.4" x2="650.7" y2="826" stroke-width="1.62" />
<line x1="650.7" y1="803.6" x2="650.7" y2="826" stroke-width="1.95" />
<path d="M499.2 892.2 L504.8 888.8 L504.8 893.2 L644 811.8 L644 807.4 L650.7 803.6" stroke-width="1.69" fill="none" />
<line x1="99.5" y1="652.5" x2="233.7" y2="575.2" stroke-width="1.95" />
<line x1="233.7" y1="575.2" x2="644" y2="811.8" stroke-width="1.56" />
<line x1="233.7" y1="570.5" x2="644" y2="807.4" stroke-width="1.56" />
<line x1="239.7" y1="566.9" x2="650.7" y2="803.6" stroke-width="2.08" />
<path d="M233.7 575.2 L233.7 570.5 L239.7 566.9" stroke-width="1.69" fill="none" />
<ellipse cx="517.8" cy="894" rx="3.6" ry="4.2" stroke-width="1.56" fill="none" />
<ellipse cx="517.8" cy="894" rx="2" ry="2.5" stroke-width="0.90" fill="none" />
<path d="M688.8 562.1 L698.6 557.2 L699.3 556.7 L699.9 556.1 L700.4 555.2 L700.7 554.1 L700.9 553 L700.9 551.7 L700.7 550.3 L700.4 548.9 L700 547.5 L699.4 546.2 L698.6 544.8 L697.8 543.6 L696.9 542.5 L695.9 541.6 L694.9 540.8 L693.9 540.2 L692.8 539.8 L691.9 539.7 L690.9 539.7 L690.1 540 L680.2 544.9Z" stroke-width="0.00" fill="#fff" stroke="none"/>
<path d="M690.1 540 L690.9 539.7 L691.9 539.7 L692.8 539.8 L693.9 540.2 L694.9 540.8 L695.9 541.6 L696.9 542.5 L697.8 543.6 L698.6 544.8 L699.4 546.2 L700 547.5 L700.4 548.9 L700.7 550.3 L700.9 551.7 L700.9 553 L700.7 554.1 L700.4 555.2 L699.9 556.1 L699.3 556.7 L698.6 557.2" stroke-width="1.56" fill="none" />
<line x1="688.8" y1="562.1" x2="698.6" y2="557.2" stroke-width="1.56" />
<line x1="680.2" y1="544.9" x2="690.1" y2="540" stroke-width="1.56" />
<ellipse cx="684.5" cy="553.5" rx="5.6" ry="9.6" transform="rotate(-26.3 684.5 553.5)" stroke-width="1.56" fill="#fff" />
<ellipse cx="684.5" cy="553.5" rx="3.8" ry="6.5" transform="rotate(-26.3 684.5 553.5)" stroke-width="0.84" fill="none" />
<path d="M646.1 577.8 L686.6 557.8 L682.4 549.2 L641.9 569.2Z" stroke-width="0.00" fill="#fff" stroke="none"/>
<line x1="646.1" y1="577.8" x2="686.6" y2="557.8" stroke-width="1.56" />
<line x1="641.9" y1="569.2" x2="682.4" y2="549.2" stroke-width="1.56" />
<path d="M643.8 568.2 L644.9 568.1 L646.2 568.6 L647.4 569.8 L648.4 571.3 L649.1 573.1 L649.2 574.7 L648.9 576 L648.1 576.8" stroke-width="0.90" fill="none" />
<path d="M646.2 567 L647.3 566.9 L648.6 567.4 L649.9 568.6 L650.9 570.1 L651.5 571.9 L651.6 573.5 L651.3 574.9 L650.5 575.7" stroke-width="0.90" fill="none" />
<path d="M648.7 565.8 L649.8 565.7 L651 566.2 L652.3 567.4 L653.3 568.9 L653.9 570.7 L654 572.3 L653.7 573.7 L652.9 574.5" stroke-width="0.90" fill="none" />
<path d="M651.1 564.7 L652.2 564.5 L653.5 565 L654.7 566.2 L655.7 567.7 L656.3 569.5 L656.5 571.1 L656.1 572.5 L655.3 573.3" stroke-width="0.90" fill="none" />
<path d="M653.5 563.5 L654.6 563.3 L655.9 563.8 L657.1 565 L658.1 566.5 L658.7 568.3 L658.9 569.9 L658.5 571.3 L657.7 572.1" stroke-width="0.90" fill="none" />
<path d="M655.9 562.3 L657 562.1 L658.3 562.7 L659.5 563.8 L660.5 565.3 L661.2 567.1 L661.3 568.7 L661 570.1 L660.2 570.9" stroke-width="0.90" fill="none" />
<path d="M658.3 561.1 L659.5 560.9 L660.7 561.5 L662 562.6 L663 564.1 L663.6 565.9 L663.7 567.5 L663.4 568.9 L662.6 569.7" stroke-width="0.90" fill="none" />
<path d="M660.8 559.9 L661.9 559.7 L663.1 560.3 L664.4 561.4 L665.4 562.9 L666 564.7 L666.2 566.3 L665.8 567.7 L665 568.5" stroke-width="0.90" fill="none" />
<path d="M663.2 558.7 L664.3 558.5 L665.6 559.1 L666.8 560.2 L667.8 561.7 L668.4 563.5 L668.6 565.2 L668.2 566.5 L667.4 567.3" stroke-width="0.90" fill="none" />
<path d="M665.6 557.5 L666.7 557.3 L668 557.9 L669.2 559 L670.2 560.6 L670.8 562.3 L671 564 L670.6 565.3 L669.9 566.1" stroke-width="0.90" fill="none" />
<path d="M668 556.3 L669.1 556.1 L670.4 556.7 L671.6 557.8 L672.6 559.4 L673.3 561.1 L673.4 562.8 L673.1 564.1 L672.3 564.9" stroke-width="0.90" fill="none" />
<path d="M670.4 555.1 L671.6 554.9 L672.8 555.5 L674.1 556.6 L675.1 558.2 L675.7 559.9 L675.8 561.6 L675.5 562.9 L674.7 563.7" stroke-width="0.90" fill="none" />
<path d="M672.9 553.9 L674 553.7 L675.2 554.3 L676.5 555.4 L677.5 557 L678.1 558.7 L678.3 560.4 L677.9 561.7 L677.1 562.5" stroke-width="0.90" fill="none" />
<path d="M675.3 552.7 L676.4 552.6 L677.7 553.1 L678.9 554.2 L679.9 555.8 L680.5 557.5 L680.7 559.2 L680.3 560.5 L679.5 561.3" stroke-width="0.90" fill="none" />
<path d="M677.7 551.5 L678.8 551.4 L680.1 551.9 L681.3 553 L682.3 554.6 L682.9 556.3 L683.1 558 L682.7 559.3 L682 560.1" stroke-width="0.90" fill="none" />
<path d="M680.1 550.3 L681.2 550.2 L682.5 550.7 L683.7 551.8 L684.7 553.4 L685.4 555.1 L685.5 556.8 L685.2 558.1 L684.4 558.9" stroke-width="0.90" fill="none" />
<ellipse cx="644" cy="573.5" rx="2.8" ry="4.8" transform="rotate(-26.3 644 573.5)" stroke-width="1.56" fill="#fff" />
<path d="M582.6 583.1 L623.9 560.1 L715.4 612.7 L715.4 710.6 L674.3 733 L582.6 680.8Z" stroke-width="0.00" fill="#fff" stroke="none"/>
<path d="M582.6 583.1 L623.9 560.1 L715.4 612.7" stroke-width="1.49" fill="none" />
<path d="M715.4 612.7 L715.4 710.6 L674.3 733" stroke-width="1.49" fill="none" />
<path d="M715.4 612.7 L674.3 635.2" stroke-width="1.49" fill="none" />
<line x1="674.3" y1="635.2" x2="674.3" y2="733" stroke-width="1.49" />
<line x1="582.6" y1="583.1" x2="582.6" y2="675" stroke-width="1.49" />
<path d="M582.6 583.1 L614.5 600.7 L608.9 604.6 L638 619.7 L643.1 617.5 L674.3 635.2" stroke-width="1.49" fill="none" />
<line x1="608.9" y1="604.6" x2="608.9" y2="642.2" stroke-width="1.05" />
<line x1="638" y1="619.7" x2="638" y2="657.3" stroke-width="1.05" />
<line x1="643.1" y1="617.5" x2="643.1" y2="655.1" stroke-width="1.05" />
<path d="M608.9 642.2 L638 657.3 L643.1 655.1" stroke-width="1.05" fill="none" />
<path d="M608.9 634.4 L595 626.6 Q589.8 624.5 589.8 631.5 L589.8 656.2 Q589.8 664 596 666.3 L612.8 676.4" stroke-width="1.05" fill="none" />
<path d="M643.1 656.2 L663.3 666.3 Q667.8 669 667.8 673 L667.8 700 Q667.8 706 663.3 704.5 L643.1 694.4" stroke-width="1.05" fill="none" />
<path d="M612.8 676.4 L609.4 681.5 L638 696 L643.1 694.4" stroke-width="1.05" fill="none" />
<line x1="609.4" y1="681.5" x2="609.4" y2="694" stroke-width="1.05" />
<line x1="638" y1="696" x2="638" y2="711.5" stroke-width="1.05" />
<line x1="643.1" y1="694.4" x2="643.1" y2="709" stroke-width="1.05" />
<line x1="582.6" y1="680.8" x2="674.3" y2="733" stroke-width="1.49" />
<ellipse cx="591.5" cy="615.8" rx="3.6" ry="5" transform="rotate(0 591.5 615.8)" stroke-width="1.56" fill="none" />
<line x1="582.6" y1="620" x2="589" y2="616.5" stroke-width="0.90" />
<ellipse cx="665.5" cy="657.9" rx="3.6" ry="5" transform="rotate(0 665.5 657.9)" stroke-width="1.56" fill="none" />
<line x1="657" y1="662.5" x2="663" y2="659" stroke-width="0.90" />
<ellipse cx="630.7" cy="604.6" rx="9.3" ry="5.2" stroke-width="1.05" fill="none" />
<ellipse cx="631.3" cy="683.2" rx="8.3" ry="4.6" stroke-width="1.05" fill="none" />
<line x1="631.3" y1="672" x2="631.3" y2="682" stroke-width="0.90" />
<line x1="631" y1="590" x2="631" y2="603" stroke-width="1.00" />
<path d="M583.6 664 L592.6 659.6" stroke-width="0.80" fill="none" />
<path d="M592.6 659.6 L615 648.5 Q630 652 632 659 Q632 663 626 665" stroke-width="0.80" fill="none" stroke-dasharray="6 3 1.5 3"/>
<path d="M614.2 650.6 L614.2 724 Q614.2 729.5 609 732.5 L569.8 756" stroke-width="0.90" fill="none" stroke-dasharray="7 3 1.5 3"/>
<line x1="717.2" y1="626" x2="723.5" y2="622.5" stroke-width="1.00" />
<path d="M764.2 609.8 L772.8 604.6 L773.4 604.1 L774 603.4 L774.3 602.5 L774.6 601.5 L774.6 600.3 L774.5 599.1 L774.3 597.8 L773.8 596.5 L773.3 595.1 L772.6 593.9 L771.8 592.6 L770.9 591.5 L769.9 590.5 L768.9 589.7 L767.8 589 L766.8 588.6 L765.8 588.3 L764.8 588.2 L764 588.3 L763.2 588.7 L754.6 593.8Z" stroke-width="0.00" fill="#fff" stroke="none"/>
<path d="M763.2 588.7 L764 588.3 L764.8 588.2 L765.8 588.3 L766.8 588.6 L767.8 589 L768.9 589.7 L769.9 590.5 L770.9 591.5 L771.8 592.6 L772.6 593.9 L773.3 595.1 L773.8 596.5 L774.3 597.8 L774.5 599.1 L774.6 600.3 L774.6 601.5 L774.3 602.5 L774 603.4 L773.4 604.1 L772.8 604.6" stroke-width="1.56" fill="none" />
<line x1="764.2" y1="609.8" x2="772.8" y2="604.6" stroke-width="1.56" />
<line x1="754.6" y1="593.8" x2="763.2" y2="588.7" stroke-width="1.56" />
<ellipse cx="759.4" cy="601.8" rx="5.4" ry="9.3" transform="rotate(-31 759.4 601.8)" stroke-width="1.56" fill="#fff" />
<ellipse cx="759.4" cy="601.8" rx="3.5" ry="6.1" transform="rotate(-31 759.4 601.8)" stroke-width="0.84" fill="none" />
<path d="M730.3 624.6 L761.7 605.7 L757.1 597.9 L725.7 616.8Z" stroke-width="0.00" fill="#fff" stroke="none"/>
<line x1="730.3" y1="624.6" x2="761.7" y2="605.7" stroke-width="1.56" />
<line x1="725.7" y1="616.8" x2="757.1" y2="597.9" stroke-width="1.56" />
<path d="M727.5 615.7 L728.6 615.5 L729.8 615.9 L731 616.9 L732.1 618.2 L732.8 619.8 L733.1 621.4 L732.9 622.6 L732.2 623.4" stroke-width="0.90" fill="none" />
<path d="M729.8 614.3 L730.9 614.1 L732.1 614.5 L733.3 615.5 L734.4 616.8 L735.1 618.4 L735.4 620 L735.2 621.2 L734.5 622" stroke-width="0.90" fill="none" />
<path d="M732.2 612.9 L733.2 612.7 L734.4 613.1 L735.7 614.1 L736.7 615.5 L737.4 617 L737.7 618.6 L737.5 619.8 L736.8 620.7" stroke-width="0.90" fill="none" />
<path d="M734.5 611.6 L735.5 611.3 L736.7 611.7 L738 612.7 L739 614.1 L739.7 615.6 L740 617.2 L739.8 618.5 L739.1 619.3" stroke-width="0.90" fill="none" />
<path d="M736.8 610.2 L737.8 609.9 L739 610.3 L740.3 611.3 L741.3 612.7 L742.1 614.2 L742.3 615.8 L742.1 617.1 L741.4 617.9" stroke-width="0.90" fill="none" />
<path d="M739.1 608.8 L740.1 608.5 L741.4 608.9 L742.6 609.9 L743.7 611.3 L744.4 612.9 L744.6 614.4 L744.4 615.7 L743.7 616.5" stroke-width="0.90" fill="none" />
<path d="M741.4 607.4 L742.4 607.2 L743.7 607.6 L744.9 608.5 L746 609.9 L746.7 611.5 L747 613 L746.7 614.3 L746.1 615.1" stroke-width="0.90" fill="none" />
<path d="M743.7 606 L744.8 605.8 L746 606.2 L747.2 607.1 L748.3 608.5 L749 610.1 L749.3 611.6 L749 612.9 L748.4 613.7" stroke-width="0.90" fill="none" />
<path d="M746 604.6 L747.1 604.4 L748.3 604.8 L749.5 605.7 L750.6 607.1 L751.3 608.7 L751.6 610.2 L751.4 611.5 L750.7 612.3" stroke-width="0.90" fill="none" />
<path d="M748.3 603.2 L749.4 603 L750.6 603.4 L751.8 604.3 L752.9 605.7 L753.6 607.3 L753.9 608.8 L753.7 610.1 L753 610.9" stroke-width="0.90" fill="none" />
<path d="M750.7 601.8 L751.7 601.6 L752.9 602 L754.2 602.9 L755.2 604.3 L755.9 605.9 L756.2 607.4 L756 608.7 L755.3 609.5" stroke-width="0.90" fill="none" />
<path d="M753 600.4 L754 600.2 L755.2 600.6 L756.5 601.6 L757.5 602.9 L758.3 604.5 L758.5 606 L758.3 607.3 L757.6 608.1" stroke-width="0.90" fill="none" />
<path d="M755.3 599 L756.3 598.8 L757.6 599.2 L758.8 600.2 L759.8 601.5 L760.6 603.1 L760.8 604.7 L760.6 605.9 L759.9 606.7" stroke-width="0.90" fill="none" />
<ellipse cx="728" cy="620.7" rx="2.6" ry="4.5" transform="rotate(-31 728 620.7)" stroke-width="1.56" fill="#fff" />
<line x1="768.4" y1="596.4" x2="793.5" y2="596.4" stroke-width="1.00" />
<line x1="693" y1="663.2" x2="794.6" y2="663.2" stroke-width="1.00" />
<rect x="620.6" y="257" width="20.4" height="293" fill="#fff" stroke="none"/>
<line x1="620.6" y1="257" x2="620.6" y2="550" stroke-width="1.82" />
<line x1="641" y1="257" x2="641" y2="550" stroke-width="1.82" />
<path d="M641 257 L641 257.3 L640.9 257.5 L640.7 257.8 L640.5 258.1 L640.2 258.3 L639.9 258.6 L639.5 258.8 L639.1 259.1 L638.6 259.3 L638 259.5 L637.4 259.7 L636.8 259.8 L636.1 260 L635.4 260.1 L634.7 260.2 L634 260.3 L633.2 260.4 L632.4 260.5 L631.6 260.5 L630.8 260.5 L630 260.5 L629.2 260.5 L628.4 260.4 L627.6 260.3 L626.9 260.2 L626.2 260.1 L625.5 260 L624.8 259.8 L624.2 259.7 L623.6 259.5 L623 259.3 L622.5 259.1 L622.1 258.8 L621.7 258.6 L621.4 258.3 L621.1 258.1 L620.9 257.8 L620.7 257.5 L620.6 257.3 L620.6 257" stroke-width="1.56" fill="none" />
<ellipse cx="630.8" cy="257" rx="10.2" ry="3.5" stroke-width="1.43" fill="none" />
<rect x="622.7" y="550" width="16.7" height="39" fill="#fff" stroke="none"/>
<line x1="622.7" y1="550" x2="622.7" y2="589" stroke-width="1.69" />
<line x1="639.4" y1="550" x2="639.4" y2="589" stroke-width="1.69" />
<path d="M641.2 550 L641.2 550.3 L641.1 550.5 L640.9 550.7 L640.7 551 L640.4 551.2 L640.1 551.5 L639.7 551.7 L639.3 551.9 L638.8 552.1 L638.2 552.3 L637.6 552.4 L637 552.6 L636.3 552.7 L635.6 552.9 L634.9 553 L634.2 553 L633.4 553.1 L632.6 553.2 L631.8 553.2 L631 553.2 L630.2 553.2 L629.4 553.2 L628.6 553.1 L627.8 553 L627.1 553 L626.4 552.9 L625.7 552.7 L625 552.6 L624.4 552.4 L623.8 552.3 L623.2 552.1 L622.7 551.9 L622.3 551.7 L621.9 551.5 L621.6 551.2 L621.3 551 L621.1 550.7 L620.9 550.5 L620.8 550.3 L620.8 550" stroke-width="1.56" fill="none" />
<path d="M639.4 589 L639.3 589.2 L639.2 589.4 L639.1 589.7 L638.9 589.9 L638.7 590.1 L638.4 590.3 L638.1 590.5 L637.8 590.6 L637.3 590.8 L636.9 591 L636.4 591.1 L635.9 591.3 L635.4 591.4 L634.8 591.5 L634.2 591.6 L633.6 591.7 L632.9 591.7 L632.3 591.8 L631.7 591.8 L631 591.8 L630.3 591.8 L629.7 591.8 L629.1 591.7 L628.4 591.7 L627.8 591.6 L627.2 591.5 L626.6 591.4 L626.1 591.3 L625.6 591.1 L625.1 591 L624.7 590.8 L624.2 590.6 L623.9 590.5 L623.6 590.3 L623.3 590.1 L623.1 589.9 L622.9 589.7 L622.8 589.4 L622.7 589.2 L622.6 589" stroke-width="1.69" fill="none" />
<ellipse cx="626.8" cy="559" rx="1.3" ry="2.5" stroke-width="0.90" fill="none" />
<rect x="623.1" y="198" width="16.8" height="59" fill="#fff" stroke="none"/>
<line x1="623.1" y1="201" x2="623.1" y2="256" stroke-width="1.69" />
<line x1="639.9" y1="201" x2="639.9" y2="256" stroke-width="1.69" />
<path d="M623.1 201 L623.1 200.7 L623.2 200.5 L623.3 200.2 L623.5 199.9 L623.7 199.7 L624 199.4 L624.3 199.2 L624.7 198.9 L625.1 198.7 L625.6 198.5 L626 198.3 L626.6 198.2 L627.1 198 L627.7 197.9 L628.3 197.8 L628.9 197.7 L629.5 197.6 L630.2 197.5 L630.8 197.5 L631.5 197.5 L632.2 197.5 L632.8 197.5 L633.5 197.6 L634.1 197.7 L634.7 197.8 L635.3 197.9 L635.9 198 L636.4 198.2 L637 198.3 L637.4 198.5 L637.9 198.7 L638.3 198.9 L638.7 199.2 L639 199.4 L639.3 199.7 L639.5 199.9 L639.7 200.2 L639.8 200.5 L639.9 200.7 L639.9 201" stroke-width="1.69" fill="none" />
<path d="M639.9 203.7 L639.3 204.3 L638 204.9 L636.2 205.3 L633.9 205.6 L631.5 205.7 L629.1 205.6 L626.8 205.3 L625 204.9 L623.7 204.3 L623.1 203.7" stroke-width="0.80" fill="none" />
<path d="M639.9 206.3 L639.3 206.9 L638 207.5 L636.2 207.9 L633.9 208.2 L631.5 208.3 L629.1 208.2 L626.8 207.9 L625 207.5 L623.7 206.9 L623.1 206.3" stroke-width="0.80" fill="none" />
<path d="M639.9 208.9 L639.3 209.5 L638 210.1 L636.2 210.5 L633.9 210.8 L631.5 210.9 L629.1 210.8 L626.8 210.5 L625 210.1 L623.7 209.5 L623.1 208.9" stroke-width="0.80" fill="none" />
<path d="M639.9 211.5 L639.3 212.1 L638 212.7 L636.2 213.1 L633.9 213.4 L631.5 213.5 L629.1 213.4 L626.8 213.1 L625 212.7 L623.7 212.1 L623.1 211.5" stroke-width="0.80" fill="none" />
<path d="M639.9 214.1 L639.3 214.7 L638 215.3 L636.2 215.7 L633.9 216 L631.5 216.1 L629.1 216 L626.8 215.7 L625 215.3 L623.7 214.7 L623.1 214.1" stroke-width="0.80" fill="none" />
<path d="M639.9 216.7 L639.3 217.3 L638 217.9 L636.2 218.3 L633.9 218.6 L631.5 218.7 L629.1 218.6 L626.8 218.3 L625 217.9 L623.7 217.3 L623.1 216.7" stroke-width="0.80" fill="none" />
<path d="M639.9 219.3 L639.3 219.9 L638 220.5 L636.2 220.9 L633.9 221.2 L631.5 221.3 L629.1 221.2 L626.8 220.9 L625 220.5 L623.7 219.9 L623.1 219.3" stroke-width="0.80" fill="none" />
<path d="M639.9 221.9 L639.3 222.5 L638 223.1 L636.2 223.5 L633.9 223.8 L631.5 223.9 L629.1 223.8 L626.8 223.5 L625 223.1 L623.7 222.5 L623.1 221.9" stroke-width="0.80" fill="none" />
<path d="M639.9 224.5 L639.3 225.1 L638 225.7 L636.2 226.1 L633.9 226.4 L631.5 226.5 L629.1 226.4 L626.8 226.1 L625 225.7 L623.7 225.1 L623.1 224.5" stroke-width="0.80" fill="none" />
<path d="M639.9 227.1 L639.3 227.7 L638 228.3 L636.2 228.7 L633.9 229 L631.5 229.1 L629.1 229 L626.8 228.7 L625 228.3 L623.7 227.7 L623.1 227.1" stroke-width="0.80" fill="none" />
<path d="M639.9 229.7 L639.3 230.3 L638 230.9 L636.2 231.3 L633.9 231.6 L631.5 231.7 L629.1 231.6 L626.8 231.3 L625 230.9 L623.7 230.3 L623.1 229.7" stroke-width="0.80" fill="none" />
<path d="M639.9 232.3 L639.3 232.9 L638 233.5 L636.2 233.9 L633.9 234.2 L631.5 234.3 L629.1 234.2 L626.8 233.9 L625 233.5 L623.7 232.9 L623.1 232.3" stroke-width="0.80" fill="none" />
<path d="M639.9 233.2 L639.3 233.8 L638 234.4 L636.2 234.8 L633.9 235.1 L631.5 235.2 L629.1 235.1 L626.8 234.8 L625 234.4 L623.7 233.8 L623.1 233.2" stroke-width="0.90" fill="none" />
<path d="M624.6 236 Q628 235.5 629 238.5 L629 255.6 L626 254 L624.6 251" stroke-width="1.56" fill="#fff" />
<path d="M604.5 248 Q608 244 611.5 248 L611.5 264 Q608 268 604.5 264 Z" stroke-width="1.69" fill="#fff" />
<line x1="590" y1="252.6" x2="607" y2="252.6" stroke-width="1.00" />
<path d="M600.9000000000001 148 L600.9000000000001 180 Q600.9000000000001 196 631.2 196 Q661.5 196 661.5 180 L661.5 148 Z" fill="#fff" stroke="none"/>
<line x1="600.9" y1="148" x2="600.9" y2="181" stroke-width="2.08" />
<line x1="661.5" y1="148" x2="661.5" y2="181" stroke-width="2.08" />
<path d="M661.5 181 L661.4 182.2 L661.1 183.3 L660.7 184.5 L660 185.6 L659.2 186.7 L658.2 187.8 L657 188.8 L655.7 189.8 L654.2 190.7 L652.6 191.6 L650.9 192.4 L649 193.1 L647 193.8 L645 194.4 L642.8 194.9 L640.6 195.3 L638.3 195.6 L635.9 195.8 L633.6 196 L631.2 196 L628.8 196 L626.5 195.8 L624.1 195.6 L621.8 195.3 L619.6 194.9 L617.4 194.4 L615.4 193.8 L613.4 193.1 L611.5 192.4 L609.8 191.6 L608.2 190.7 L606.7 189.8 L605.4 188.8 L604.2 187.8 L603.2 186.7 L602.4 185.6 L601.7 184.5 L601.3 183.3 L601 182.2 L600.9 181" stroke-width="2.08" fill="none" />
<path d="M659.5 153.5 L659.3 154.3 L658.9 155 L658.4 155.7 L657.7 156.5 L656.9 157.2 L656 157.8 L654.8 158.5 L653.6 159.1 L652.2 159.7 L650.7 160.2 L649.1 160.7 L647.4 161.2 L645.6 161.6 L643.7 162 L641.7 162.3 L639.7 162.5 L637.6 162.7 L635.5 162.9 L633.3 163 L631.2 163 L629.1 163 L626.9 162.9 L624.8 162.7 L622.7 162.5 L620.7 162.3 L618.7 162 L616.8 161.6 L615 161.2 L613.3 160.7 L611.7 160.2 L610.2 159.7 L608.8 159.1 L607.6 158.5 L606.4 157.8 L605.5 157.2 L604.7 156.5 L604 155.7 L603.5 155 L603.1 154.3 L602.9 153.5" stroke-width="1.69" fill="none" />
<path d="M659.5 163.5 L659.3 164.3 L658.9 165 L658.4 165.7 L657.7 166.5 L656.9 167.2 L656 167.8 L654.8 168.5 L653.6 169.1 L652.2 169.7 L650.7 170.2 L649.1 170.7 L647.4 171.2 L645.6 171.6 L643.7 172 L641.7 172.3 L639.7 172.5 L637.6 172.7 L635.5 172.9 L633.3 173 L631.2 173 L629.1 173 L626.9 172.9 L624.8 172.7 L622.7 172.5 L620.7 172.3 L618.7 172 L616.8 171.6 L615 171.2 L613.3 170.7 L611.7 170.2 L610.2 169.7 L608.8 169.1 L607.6 168.5 L606.4 167.8 L605.5 167.2 L604.7 166.5 L604 165.7 L603.5 165 L603.1 164.3 L602.9 163.5" stroke-width="1.82" fill="none" />
<line x1="659.2" y1="154.4" x2="659.2" y2="164.4" stroke-width="0.90" />
<line x1="658.4" y1="155.8" x2="658.4" y2="165.8" stroke-width="0.90" />
<line x1="656.9" y1="157.2" x2="656.9" y2="167.2" stroke-width="0.90" />
<line x1="655" y1="158.4" x2="655" y2="168.4" stroke-width="0.90" />
<line x1="652.6" y1="159.5" x2="652.6" y2="169.5" stroke-width="0.90" />
<line x1="649.7" y1="160.6" x2="649.7" y2="170.6" stroke-width="0.90" />
<line x1="646.5" y1="161.4" x2="646.5" y2="171.4" stroke-width="0.90" />
<line x1="643" y1="162.1" x2="643" y2="172.1" stroke-width="0.90" />
<line x1="639.2" y1="162.6" x2="639.2" y2="172.6" stroke-width="0.90" />
<line x1="635.2" y1="162.9" x2="635.2" y2="172.9" stroke-width="0.90" />
<line x1="631.2" y1="163" x2="631.2" y2="173" stroke-width="0.90" />
<line x1="627.2" y1="162.9" x2="627.2" y2="172.9" stroke-width="0.90" />
<line x1="623.2" y1="162.6" x2="623.2" y2="172.6" stroke-width="0.90" />
<line x1="619.4" y1="162.1" x2="619.4" y2="172.1" stroke-width="0.90" />
<line x1="615.9" y1="161.4" x2="615.9" y2="171.4" stroke-width="0.90" />
<line x1="612.7" y1="160.6" x2="612.7" y2="170.6" stroke-width="0.90" />
<line x1="609.8" y1="159.5" x2="609.8" y2="169.5" stroke-width="0.90" />
<line x1="607.4" y1="158.4" x2="607.4" y2="168.4" stroke-width="0.90" />
<line x1="605.5" y1="157.2" x2="605.5" y2="167.2" stroke-width="0.90" />
<line x1="604" y1="155.8" x2="604" y2="165.8" stroke-width="0.90" />
<line x1="603.2" y1="154.4" x2="603.2" y2="164.4" stroke-width="0.90" />
<line x1="660.9" y1="174.9" x2="660.9" y2="182.9" stroke-width="0.90" />
<line x1="659.2" y1="179.7" x2="659.2" y2="185.7" stroke-width="0.90" />
<line x1="656.4" y1="180.3" x2="656.4" y2="188.3" stroke-width="0.90" />
<line x1="652.6" y1="184.6" x2="652.6" y2="190.6" stroke-width="0.90" />
<line x1="648" y1="184.5" x2="648" y2="192.5" stroke-width="0.90" />
<line x1="642.8" y1="187.9" x2="642.8" y2="193.9" stroke-width="0.90" />
<line x1="637.1" y1="186.7" x2="637.1" y2="194.7" stroke-width="0.90" />
<line x1="631.2" y1="189" x2="631.2" y2="195" stroke-width="0.90" />
<line x1="625.3" y1="186.7" x2="625.3" y2="194.7" stroke-width="0.90" />
<line x1="619.6" y1="187.9" x2="619.6" y2="193.9" stroke-width="0.90" />
<line x1="614.4" y1="184.5" x2="614.4" y2="192.5" stroke-width="0.90" />
<line x1="609.8" y1="184.6" x2="609.8" y2="190.6" stroke-width="0.90" />
<line x1="606" y1="180.3" x2="606" y2="188.3" stroke-width="0.90" />
<line x1="603.2" y1="179.7" x2="603.2" y2="185.7" stroke-width="0.90" />
<line x1="601.5" y1="174.9" x2="601.5" y2="182.9" stroke-width="0.90" />
<path d="M584.1 104.6 L584.2 102.5 L584.7 100.4 L585.4 98.3 L586.4 96.3 L587.7 94.3 L589.3 92.3 L591.1 90.5 L593.2 88.7 L595.5 87.1 L598 85.5 L600.8 84.1 L603.7 82.8 L606.8 81.6 L610 80.5 L613.4 79.7 L616.9 78.9 L620.5 78.3 L624.2 77.9 L627.9 77.7 L631.6 77.6 L635.3 77.7 L639 77.9 L642.7 78.3 L646.3 78.9 L649.8 79.7 L653.2 80.5 L656.4 81.6 L659.5 82.8 L662.4 84.1 L665.2 85.5 L667.7 87.1 L670 88.7 L672.1 90.5 L673.9 92.3 L675.5 94.3 L676.8 96.3 L677.8 98.3 L678.5 100.4 L679 102.5 L679.1 104.6 L679.1 124.6 L679 126.7 L678.5 128.8 L677.8 130.9 L676.8 132.9 L675.5 134.9 L673.9 136.9 L672.1 138.7 L670 140.5 L667.7 142.1 L665.2 143.7 L662.4 145.1 L659.5 146.4 L656.4 147.6 L653.2 148.7 L649.8 149.5 L646.3 150.3 L642.7 150.9 L639 151.3 L635.3 151.5 L631.6 151.6 L627.9 151.5 L624.2 151.3 L620.5 150.9 L616.9 150.3 L613.4 149.5 L610 148.7 L606.8 147.6 L603.7 146.4 L600.8 145.1 L598 143.7 L595.5 142.1 L593.2 140.5 L591.1 138.7 L589.3 136.9 L587.7 134.9 L586.4 132.9 L585.4 130.9 L584.7 128.8 L584.2 126.7 L584.1 124.6Z" stroke-width="0.00" fill="#fff" stroke="none"/>
<line x1="584.1" y1="104.6" x2="584.1" y2="124.6" stroke-width="1.95" />
<line x1="679.1" y1="104.6" x2="679.1" y2="124.6" stroke-width="1.95" />
<path d="M679.1 124.6 L679 126.7 L678.5 128.8 L677.8 130.9 L676.8 132.9 L675.5 134.9 L673.9 136.9 L672.1 138.7 L670 140.5 L667.7 142.1 L665.2 143.7 L662.4 145.1 L659.5 146.4 L656.4 147.6 L653.2 148.7 L649.8 149.5 L646.3 150.3 L642.7 150.9 L639 151.3 L635.3 151.5 L631.6 151.6 L627.9 151.5 L624.2 151.3 L620.5 150.9 L616.9 150.3 L613.4 149.5 L610 148.7 L606.8 147.6 L603.7 146.4 L600.8 145.1 L598 143.7 L595.5 142.1 L593.2 140.5 L591.1 138.7 L589.3 136.9 L587.7 134.9 L586.4 132.9 L585.4 130.9 L584.7 128.8 L584.2 126.7 L584.1 124.6" stroke-width="2.08" fill="none" />
<path d="M584.1 104.6 L584.2 102.5 L584.7 100.4 L585.4 98.3 L586.4 96.3 L587.7 94.3 L589.3 92.3 L591.1 90.5 L593.2 88.7 L595.5 87.1 L598 85.5 L600.8 84.1 L603.7 82.8 L606.8 81.6 L610 80.5 L613.4 79.7 L616.9 78.9 L620.5 78.3 L624.2 77.9 L627.9 77.7 L631.6 77.6 L635.3 77.7 L639 77.9 L642.7 78.3 L646.3 78.9 L649.8 79.7 L653.2 80.5 L656.4 81.6 L659.5 82.8 L662.4 84.1 L665.2 85.5 L667.7 87.1 L670 88.7 L672.1 90.5 L673.9 92.3 L675.5 94.3 L676.8 96.3 L677.8 98.3 L678.5 100.4 L679 102.5 L679.1 104.6" stroke-width="1.95" fill="none" />
<path d="M677.6 108.8 L677.4 109.4 L677.1 109.9 L676.9 110.5 L676.6 111 L676.3 111.6 L675.9 112.2 L675.5 112.7 L675.1 113.3 L674.7 113.8 L674.2 114.3 L673.7 114.8 L673.2 115.4 L672.6 115.9 L672 116.4 L671.4 116.9 L670.7 117.4 L670.1 117.9 L669.4 118.3 L668.7 118.8 L667.9 119.2 L667.1 119.7 L666.3 120.1 L665.5 120.6 L664.7 121 L663.8 121.4 L662.9 121.8 L662 122.2 L661 122.5 L660.1 122.9 L659.1 123.2 L658.1 123.6 L657.1 123.9 L656.1 124.2 L655 124.5 L654 124.8 L652.9 125.1 L651.8 125.3 L650.7 125.6 L649.6 125.8 L648.4 126" stroke-width="1.00" fill="none" />
<path d="M623.3 127.1 L622.7 127.1 L622.1 127 L621.4 127 L620.8 126.9 L620.2 126.8 L619.6 126.8 L619 126.7 L618.3 126.6 L617.7 126.5 L617.1 126.4 L616.5 126.3 L615.9 126.2 L615.3 126.1 L614.7 126 L614.1 125.9 L613.5 125.8 L612.9 125.7 L612.4 125.5 L611.8 125.4 L611.2 125.3 L610.6 125.1 L610.1 125 L609.5 124.9 L608.9 124.7 L608.4 124.6 L607.8 124.4 L607.3 124.3 L606.7 124.1 L606.2 123.9 L605.7 123.8 L605.1 123.6 L604.6 123.4 L604.1 123.2 L603.6 123.1 L603.1 122.9 L602.6 122.7 L602.1 122.5 L601.6 122.3 L601.1 122.1 L600.6 121.9" stroke-width="1.00" fill="none" />
<path d="M593 117.8 L592.7 117.6 L592.4 117.4 L592.1 117.1 L591.9 116.9 L591.6 116.7 L591.3 116.5 L591.1 116.3 L590.8 116.1 L590.6 115.9 L590.3 115.6 L590.1 115.4 L589.9 115.2 L589.6 115 L589.4 114.8 L589.2 114.5 L589 114.3 L588.8 114.1 L588.6 113.8 L588.4 113.6 L588.2 113.4 L588 113.2 L587.8 112.9 L587.7 112.7 L587.5 112.5 L587.3 112.2 L587.2 112 L587 111.7 L586.9 111.5 L586.7 111.3 L586.6 111 L586.5 110.8 L586.3 110.5 L586.2 110.3 L586.1 110.1 L586 109.8 L585.9 109.6 L585.8 109.3 L585.7 109.1 L585.6 108.8 L585.6 108.6" stroke-width="1.00" fill="none" />
<path d="M674.8 120 L674.4 120.6 L673.9 121.2 L673.4 121.7 L672.8 122.3 L672.2 122.8 L671.6 123.3 L671 123.9 L670.3 124.4 L669.6 124.9 L668.9 125.4 L668.2 125.9 L667.4 126.3 L666.6 126.8 L665.7 127.3 L664.9 127.7 L664 128.1 L663.1 128.5 L662.1 129 L661.2 129.4 L660.2 129.7 L659.2 130.1 L658.2 130.5 L657.1 130.8 L656.1 131.1 L655 131.4 L653.9 131.7 L652.8 132 L651.6 132.3 L650.5 132.6 L649.3 132.8 L648.2 133 L647 133.2 L645.8 133.4 L644.6 133.6 L643.3 133.8 L642.1 133.9 L640.9 134 L639.6 134.2 L638.4 134.3 L637.1 134.3" stroke-width="1.00" fill="none" />
<path d="M596.2 126.5 L596 126.4 L595.7 126.3 L595.5 126.1 L595.3 126 L595.1 125.9 L594.9 125.8 L594.7 125.6 L594.5 125.5 L594.3 125.4 L594.1 125.2 L593.9 125.1 L593.7 125 L593.5 124.8 L593.3 124.7 L593.1 124.5 L592.9 124.4 L592.7 124.3 L592.5 124.1 L592.4 124 L592.2 123.8 L592 123.7 L591.8 123.6 L591.7 123.4 L591.5 123.3 L591.3 123.1 L591.2 123 L591 122.8 L590.8 122.7 L590.7 122.5 L590.5 122.4 L590.4 122.2 L590.2 122.1 L590.1 122 L589.9 121.8 L589.8 121.7 L589.6 121.5 L589.5 121.4 L589.4 121.2 L589.2 121 L589.1 120.9" stroke-width="1.00" fill="none" />
<path d="M672 92.4 L672.3 92.8 L672.7 93.2 L673.1 93.6 L673.4 94 L673.7 94.4 L674.1 94.8 L674.4 95.2 L674.7 95.6 L674.9 96 L675.2 96.5 L675.4 96.9 L675.7 97.3 L675.9 97.7 L676.1 98.2 L676.3 98.6 L676.5 99 L676.7 99.5 L676.8 99.9 L677 100.3 L677.1 100.8 L677.2 101.2 L677.3 101.7 L677.4 102.1 L677.5 102.6 L677.5 103 L677.6 103.5 L677.6 103.9 L677.6 104.3 L677.6 104.8 L677.6 105.2 L677.6 105.7 L677.5 106.1 L677.5 106.6 L677.4 107 L677.3 107.5 L677.2 107.9 L677.1 108.3 L677 108.8 L676.8 109.2 L676.7 109.7" stroke-width="0.80" fill="none" />
<ellipse cx="630.7" cy="103.2" rx="22" ry="12" stroke-width="1.56" fill="none" />
<ellipse cx="630.5" cy="106" rx="16.8" ry="8.7" stroke-width="1.69" fill="none" />
<ellipse cx="630.3" cy="106.6" rx="9.3" ry="5.3" stroke-width="1.56" fill="none" />
<line x1="630.5" y1="72" x2="630.5" y2="111" stroke-width="1.00" stroke-dasharray="8 3 2 3"/>
<path d="M589.5 89.5 L589.5 89.1 L589.7 88.7 L589.9 88.3 L590.2 88 L590.6 87.6 L591 87.3 L591.5 87 L592.1 86.7 L592.8 86.4 L593.4 86.2 L594.2 86 L595 85.9 L595.8 85.8 L596.6 85.7 L597.4 85.7 L598.2 85.7 L599 85.8 L599.8 85.9 L600.6 86 L601.4 86.2 L602 86.4 L602.7 86.7 L603.3 87 L603.8 87.3 L604.2 87.6 L604.6 88 L604.9 88.3 L605.1 88.7 L605.3 89.1 L605.3 89.5 L605.3 102 L605.3 102.4 L605.1 102.8 L604.9 103.2 L604.6 103.5 L604.2 103.9 L603.8 104.2 L603.3 104.5 L602.7 104.8 L602 105.1 L601.4 105.3 L600.6 105.5 L599.8 105.6 L599 105.7 L598.2 105.8 L597.4 105.8 L596.6 105.8 L595.8 105.7 L595 105.6 L594.2 105.5 L593.4 105.3 L592.8 105.1 L592.1 104.8 L591.5 104.5 L591 104.2 L590.6 103.9 L590.2 103.5 L589.9 103.2 L589.7 102.8 L589.5 102.4 L589.5 102Z" stroke-width="0.00" fill="#fff" stroke="none"/>
<line x1="589.5" y1="89.5" x2="589.5" y2="102" stroke-width="1.82" />
<line x1="605.3" y1="89.5" x2="605.3" y2="102" stroke-width="1.82" />
<path d="M605.3 102 L605.3 102.3 L605.2 102.6 L605.1 102.9 L604.9 103.2 L604.7 103.5 L604.4 103.7 L604.1 104 L603.8 104.2 L603.4 104.5 L603 104.7 L602.5 104.9 L602 105.1 L601.5 105.2 L601 105.4 L600.4 105.5 L599.8 105.6 L599.2 105.7 L598.6 105.8 L598 105.8 L597.4 105.8 L596.8 105.8 L596.2 105.8 L595.6 105.7 L595 105.6 L594.4 105.5 L593.8 105.4 L593.3 105.2 L592.8 105.1 L592.3 104.9 L591.8 104.7 L591.4 104.5 L591 104.2 L590.7 104 L590.4 103.7 L590.1 103.5 L589.9 103.2 L589.7 102.9 L589.6 102.6 L589.5 102.3 L589.5 102" stroke-width="1.82" fill="none" />
<path d="M587.3 47.7 L587.4 47.1 L587.5 46.6 L587.8 46.1 L588.2 45.5 L588.7 45.1 L589.2 44.6 L589.9 44.2 L590.6 43.8 L591.5 43.4 L592.4 43.1 L593.3 42.9 L594.3 42.7 L595.3 42.5 L596.3 42.4 L597.4 42.4 L598.5 42.4 L599.5 42.5 L600.5 42.7 L601.5 42.9 L602.4 43.1 L603.3 43.4 L604.2 43.8 L604.9 44.2 L605.6 44.6 L606.1 45.1 L606.6 45.5 L607 46.1 L607.3 46.6 L607.4 47.1 L607.5 47.7 L607.5 87 L607.4 87.6 L607.3 88.1 L607 88.6 L606.6 89.2 L606.1 89.7 L605.6 90.1 L604.9 90.5 L604.2 90.9 L603.3 91.3 L602.4 91.6 L601.5 91.8 L600.5 92 L599.5 92.2 L598.5 92.3 L597.4 92.3 L596.3 92.3 L595.3 92.2 L594.3 92 L593.3 91.8 L592.4 91.6 L591.5 91.3 L590.6 90.9 L589.9 90.5 L589.2 90.1 L588.7 89.7 L588.2 89.2 L587.8 88.6 L587.5 88.1 L587.4 87.6 L587.3 87Z" stroke-width="0.00" fill="#fff" stroke="none"/>
<line x1="587.3" y1="47.7" x2="587.3" y2="87" stroke-width="1.82" />
<line x1="607.5" y1="47.7" x2="607.5" y2="87" stroke-width="1.82" />
<path d="M607.5 87 L607.5 87.4 L607.4 87.8 L607.2 88.2 L607 88.6 L606.7 89 L606.4 89.4 L606 89.8 L605.6 90.1 L605.1 90.4 L604.5 90.7 L604 91 L603.3 91.3 L602.7 91.5 L602 91.7 L601.3 91.9 L600.5 92 L599.8 92.2 L599 92.2 L598.2 92.3 L597.4 92.3 L596.6 92.3 L595.8 92.2 L595 92.2 L594.3 92 L593.5 91.9 L592.8 91.7 L592.1 91.5 L591.5 91.3 L590.8 91 L590.3 90.7 L589.7 90.4 L589.2 90.1 L588.8 89.8 L588.4 89.4 L588.1 89 L587.8 88.6 L587.6 88.2 L587.4 87.8 L587.3 87.4 L587.3 87" stroke-width="1.82" fill="none" />
<ellipse cx="597.4" cy="47.7" rx="10.1" ry="5.3" stroke-width="1.82" fill="#fff" />
<ellipse cx="597.4" cy="47.7" rx="7" ry="3.4" stroke-width="1.64" fill="none" />
<path d="M613.5 62.5 L613.6 61.6 L613.9 60.7 L614.3 59.9 L614.9 59 L615.7 58.2 L616.6 57.5 L617.6 56.8 L618.8 56.2 L620.1 55.6 L621.6 55.1 L623.1 54.7 L624.6 54.4 L626.3 54.2 L627.9 54 L629.6 54 L631.3 54 L632.9 54.2 L634.6 54.4 L636.1 54.7 L637.6 55.1 L639.1 55.6 L640.4 56.2 L641.6 56.8 L642.6 57.5 L643.5 58.2 L644.3 59 L644.9 59.9 L645.3 60.7 L645.6 61.6 L645.7 62.5 L645.7 65.5 L645.6 66.4 L645.3 67.3 L644.9 68.1 L644.3 69 L643.5 69.8 L642.6 70.5 L641.6 71.2 L640.4 71.8 L639.1 72.4 L637.6 72.9 L636.1 73.3 L634.6 73.6 L632.9 73.8 L631.3 74 L629.6 74 L627.9 74 L626.3 73.8 L624.6 73.6 L623.1 73.3 L621.6 72.9 L620.1 72.4 L618.8 71.8 L617.6 71.2 L616.6 70.5 L615.7 69.8 L614.9 69 L614.3 68.1 L613.9 67.3 L613.6 66.4 L613.5 65.5Z" stroke-width="0.00" fill="#fff" stroke="none"/>
<ellipse cx="629.6" cy="62.5" rx="16.1" ry="8.5" stroke-width="1.69" fill="#fff" />
<path d="M645.7 65.5 L645.7 66.2 L645.5 66.8 L645.3 67.5 L644.9 68.1 L644.5 68.8 L643.9 69.4 L643.3 69.9 L642.6 70.5 L641.8 71 L641 71.5 L640.1 72 L639.1 72.4 L638 72.7 L636.9 73.1 L635.8 73.4 L634.6 73.6 L633.4 73.8 L632.1 73.9 L630.9 74 L629.6 74 L628.3 74 L627.1 73.9 L625.8 73.8 L624.6 73.6 L623.4 73.4 L622.3 73.1 L621.2 72.7 L620.1 72.4 L619.1 72 L618.2 71.5 L617.4 71 L616.6 70.5 L615.9 69.9 L615.3 69.4 L614.7 68.8 L614.3 68.1 L613.9 67.5 L613.7 66.8 L613.5 66.2 L613.5 65.5" stroke-width="1.56" fill="none" />
<line x1="613.5" y1="62.5" x2="613.5" y2="65.5" stroke-width="1.56" />
<line x1="645.7" y1="62.5" x2="645.7" y2="65.5" stroke-width="1.56" />
<ellipse cx="629.6" cy="62.5" rx="8.1" ry="4.2" stroke-width="1.56" fill="none" />
<path d="M617 34 Q617 20 629.5 19.5 Q642 20 642.3 34 Z" stroke-width="1.82" fill="#fff" />
<path d="M614.2 36 L617 34 L642.3 34 L644.9 36 L644.9 47 L637 51.5 L622.3 51.5 L614.2 47Z" stroke-width="1.95" fill="#fff" />
<path d="M614.2 37 L622.6 41 L636.8 41 L644.9 37" stroke-width="1.43" fill="none" />
<line x1="622.6" y1="41" x2="622.6" y2="51.5" stroke-width="1.43" />
<line x1="636.8" y1="41" x2="636.8" y2="51.5" stroke-width="1.43" />
<path d="M599.5 697.4 L605 697.9 L604.8 699.7 L599.3 699.9 L598.7 701.9 L603.9 703 L603.1 704.8 L597.6 704.3 L596.4 706.2 L601.1 707.8 L599.6 709.5 L594.4 708.5 L592.5 710.2 L596.6 712.3 L594.6 713.7 L589.8 712.2 L587.4 713.6 L590.6 716.2 L588.2 717.4 L584 715.3 L581.1 716.5 L583.4 719.3 L580.6 720.3 L577.2 717.8 L574 718.6 L575.3 721.6 L572.1 722.2 L569.7 719.5 L566.3 719.9 L566.4 723 L563.2 723.3 L561.8 720.3 L558.2 720.4 L557.3 723.4 L554 723.3 L553.7 720.2 L550.1 719.9 L548.2 722.8 L545 722.4 L545.7 719.3 L542.4 718.6 L539.4 721.2 L536.5 720.4 L538.3 717.5 L535.3 716.5 L531.4 718.7 L528.8 717.6 L531.6 715 L529 713.6 L524.5 715.4 L522.3 714.1 L526 711.8 L523.9 710.2 L518.8 711.4 L517.1 709.8 L521.5 708 L520 706.2 L514.6 706.9 L513.5 705.1 L518.5 703.8 L517.7 701.9 L512.1 702 L511.7 700.2 L517.1 699.4 L516.9 697.4 L511.4 696.9 L511.6 695.1 L517.1 694.9 L517.7 692.9 L512.5 691.8 L513.3 690 L518.8 690.5 L520 688.6 L515.3 687 L516.8 685.3 L522 686.3 L523.9 684.6 L519.8 682.5 L521.8 681.1 L526.6 682.6 L529 681.2 L525.8 678.6 L528.2 677.4 L532.4 679.5 L535.3 678.3 L533 675.5 L535.8 674.5 L539.2 677 L542.4 676.2 L541.1 673.2 L544.3 672.6 L546.7 675.3 L550.1 674.9 L550 671.8 L553.2 671.5 L554.6 674.5 L558.2 674.4 L559.1 671.4 L562.4 671.5 L562.7 674.6 L566.3 674.9 L568.2 672 L571.4 672.4 L570.7 675.5 L574 676.2 L577 673.6 L579.9 674.4 L578.1 677.3 L581.1 678.3 L585 676.1 L587.6 677.2 L584.8 679.8 L587.4 681.2 L591.9 679.4 L594.1 680.7 L590.4 683 L592.5 684.6 L597.6 683.4 L599.3 685 L594.9 686.8 L596.4 688.6 L601.8 687.9 L602.9 689.7 L597.9 691 L598.7 692.9 L604.3 692.8 L604.7 694.6 L599.3 695.4Z" stroke-width="0.00" fill="#fff" stroke="none"/>
<rect x="511.4" y="697.4" width="93.6" height="22.8" fill="#fff" stroke="none"/>
<path d="M599.5 720.2 L605 720.7 L604.8 722.5 L599.3 722.7 L598.7 724.7 L603.9 725.8 L603.1 727.6 L597.6 727.1 L596.4 729 L601.1 730.6 L599.6 732.3 L594.4 731.3 L592.5 733 L596.6 735.1 L594.6 736.5 L589.8 735 L587.4 736.4 L590.6 739 L588.2 740.2 L584 738.1 L581.1 739.3 L583.4 742.1 L580.6 743.1 L577.2 740.6 L574 741.4 L575.3 744.4 L572.1 745 L569.7 742.3 L566.3 742.7 L566.4 745.8 L563.2 746.1 L561.8 743.1 L558.2 743.2 L557.3 746.2 L554 746.1 L553.7 743 L550.1 742.7 L548.2 745.6 L545 745.2 L545.7 742.1 L542.4 741.4 L539.4 744 L536.5 743.2 L538.3 740.3 L535.3 739.3 L531.4 741.5 L528.8 740.4 L531.6 737.8 L529 736.4 L524.5 738.2 L522.3 736.9 L526 734.6 L523.9 733 L518.8 734.2 L517.1 732.6 L521.5 730.8 L520 729 L514.6 729.7 L513.5 727.9 L518.5 726.6 L517.7 724.7 L512.1 724.8 L511.7 723 L517.1 722.2 L516.9 720.2 L511.4 719.7 L511.6 717.9 L517.1 717.7 L517.7 715.7 L512.5 714.6 L513.3 712.8 L518.8 713.3 L520 711.4 L515.3 709.8 L516.8 708.1 L522 709.1 L523.9 707.4 L519.8 705.3 L521.8 703.9 L526.6 705.4 L529 704 L525.8 701.4 L528.2 700.2 L532.4 702.3 L535.3 701.1 L533 698.3 L535.8 697.3 L539.2 699.8 L542.4 699 L541.1 696 L544.3 695.4 L546.7 698.1 L550.1 697.7 L550 694.6 L553.2 694.3 L554.6 697.3 L558.2 697.2 L559.1 694.2 L562.4 694.3 L562.7 697.4 L566.3 697.7 L568.2 694.8 L571.4 695.2 L570.7 698.3 L574 699 L577 696.4 L579.9 697.2 L578.1 700.1 L581.1 701.1 L585 698.9 L587.6 700 L584.8 702.6 L587.4 704 L591.9 702.2 L594.1 703.5 L590.4 705.8 L592.5 707.4 L597.6 706.2 L599.3 707.8 L594.9 709.6 L596.4 711.4 L601.8 710.7 L602.9 712.5 L597.9 713.8 L598.7 715.7 L604.3 715.6 L604.7 717.4 L599.3 718.2Z" stroke-width="0.00" fill="#fff" stroke="none"/>
<path d="M599.5 720.2 L605 720.7 L604.8 722.5 L599.3 722.7 L598.7 724.7 L603.9 725.8 L603.1 727.6 L597.6 727.1 L596.4 729 L601.1 730.6 L599.6 732.3 L594.4 731.3 L592.5 733 L596.6 735.1 L594.6 736.5 L589.8 735 L587.4 736.4 L590.6 739 L588.2 740.2 L584 738.1 L581.1 739.3 L583.4 742.1 L580.6 743.1 L577.2 740.6 L574 741.4 L575.3 744.4 L572.1 745 L569.7 742.3 L566.3 742.7 L566.4 745.8 L563.2 746.1 L561.8 743.1 L558.2 743.2 L557.3 746.2 L554 746.1 L553.7 743 L550.1 742.7 L548.2 745.6 L545 745.2 L545.7 742.1 L542.4 741.4 L539.4 744 L536.5 743.2 L538.3 740.3 L535.3 739.3 L531.4 741.5 L528.8 740.4 L531.6 737.8 L529 736.4 L524.5 738.2 L522.3 736.9 L526 734.6 L523.9 733 L518.8 734.2 L517.1 732.6 L521.5 730.8 L520 729 L514.6 729.7 L513.5 727.9 L518.5 726.6 L517.7 724.7 L512.1 724.8 L511.7 723 L517.1 722.2 L516.9 720.2 L511.4 719.7" stroke-width="1.56" fill="none" />
<line x1="604.8" y1="699.7" x2="604.8" y2="722.5" stroke-width="0.96" />
<line x1="603.9" y1="703" x2="603.9" y2="725.8" stroke-width="0.96" />
<line x1="603.1" y1="704.8" x2="603.1" y2="727.6" stroke-width="0.96" />
<line x1="601.1" y1="707.8" x2="601.1" y2="730.6" stroke-width="0.96" />
<line x1="599.6" y1="709.5" x2="599.6" y2="732.3" stroke-width="0.96" />
<line x1="594.4" y1="708.5" x2="594.4" y2="731.3" stroke-width="0.54" />
<line x1="592.5" y1="710.2" x2="592.5" y2="733" stroke-width="0.54" />
<line x1="596.6" y1="712.3" x2="596.6" y2="735.1" stroke-width="0.96" />
<line x1="594.6" y1="713.7" x2="594.6" y2="736.5" stroke-width="0.96" />
<line x1="589.8" y1="712.2" x2="589.8" y2="735" stroke-width="0.54" />
<line x1="587.4" y1="713.6" x2="587.4" y2="736.4" stroke-width="0.54" />
<line x1="590.6" y1="716.2" x2="590.6" y2="739" stroke-width="0.96" />
<line x1="588.2" y1="717.4" x2="588.2" y2="740.2" stroke-width="0.96" />
<line x1="584" y1="715.3" x2="584" y2="738.1" stroke-width="0.54" />
<line x1="581.1" y1="716.5" x2="581.1" y2="739.3" stroke-width="0.54" />
<line x1="583.4" y1="719.3" x2="583.4" y2="742.1" stroke-width="0.96" />
<line x1="580.6" y1="720.3" x2="580.6" y2="743.1" stroke-width="0.96" />
<line x1="577.2" y1="717.8" x2="577.2" y2="740.6" stroke-width="0.54" />
<line x1="574" y1="718.6" x2="574" y2="741.4" stroke-width="0.54" />
<line x1="575.3" y1="721.6" x2="575.3" y2="744.4" stroke-width="0.96" />
<line x1="572.1" y1="722.2" x2="572.1" y2="745" stroke-width="0.96" />
<line x1="569.7" y1="719.5" x2="569.7" y2="742.3" stroke-width="0.54" />
<line x1="566.3" y1="719.9" x2="566.3" y2="742.7" stroke-width="0.54" />
<line x1="566.4" y1="723" x2="566.4" y2="745.8" stroke-width="0.96" />
<line x1="563.2" y1="723.3" x2="563.2" y2="746.1" stroke-width="0.96" />
<line x1="561.8" y1="720.3" x2="561.8" y2="743.1" stroke-width="0.54" />
<line x1="558.2" y1="720.4" x2="558.2" y2="743.2" stroke-width="0.54" />
<line x1="557.3" y1="723.4" x2="557.3" y2="746.2" stroke-width="0.96" />
<line x1="554" y1="723.3" x2="554" y2="746.1" stroke-width="0.96" />
<line x1="553.7" y1="720.2" x2="553.7" y2="743" stroke-width="0.54" />
<line x1="550.1" y1="719.9" x2="550.1" y2="742.7" stroke-width="0.54" />
<line x1="548.2" y1="722.8" x2="548.2" y2="745.6" stroke-width="0.96" />
<line x1="545" y1="722.4" x2="545" y2="745.2" stroke-width="0.96" />
<line x1="545.7" y1="719.3" x2="545.7" y2="742.1" stroke-width="0.54" />
<line x1="542.4" y1="718.6" x2="542.4" y2="741.4" stroke-width="0.54" />
<line x1="539.4" y1="721.2" x2="539.4" y2="744" stroke-width="0.96" />
<line x1="536.5" y1="720.4" x2="536.5" y2="743.2" stroke-width="0.96" />
<line x1="538.3" y1="717.5" x2="538.3" y2="740.3" stroke-width="0.54" />
<line x1="535.3" y1="716.5" x2="535.3" y2="739.3" stroke-width="0.54" />
<line x1="531.4" y1="718.7" x2="531.4" y2="741.5" stroke-width="0.96" />
<line x1="528.8" y1="717.6" x2="528.8" y2="740.4" stroke-width="0.96" />
<line x1="531.6" y1="715" x2="531.6" y2="737.8" stroke-width="0.54" />
<line x1="529" y1="713.6" x2="529" y2="736.4" stroke-width="0.54" />
<line x1="524.5" y1="715.4" x2="524.5" y2="738.2" stroke-width="0.96" />
<line x1="522.3" y1="714.1" x2="522.3" y2="736.9" stroke-width="0.96" />
<line x1="526" y1="711.8" x2="526" y2="734.6" stroke-width="0.54" />
<line x1="523.9" y1="710.2" x2="523.9" y2="733" stroke-width="0.54" />
<line x1="518.8" y1="711.4" x2="518.8" y2="734.2" stroke-width="0.96" />
<line x1="517.1" y1="709.8" x2="517.1" y2="732.6" stroke-width="0.96" />
<line x1="521.5" y1="708" x2="521.5" y2="730.8" stroke-width="0.54" />
<line x1="514.6" y1="706.9" x2="514.6" y2="729.7" stroke-width="0.96" />
<line x1="513.5" y1="705.1" x2="513.5" y2="727.9" stroke-width="0.96" />
<line x1="512.1" y1="702" x2="512.1" y2="724.8" stroke-width="0.96" />
<line x1="511.7" y1="700.2" x2="511.7" y2="723" stroke-width="0.96" />
<line x1="511.4" y1="697.4" x2="511.4" y2="720.2" stroke-width="1.56" />
<line x1="605" y1="697.4" x2="605" y2="720.2" stroke-width="1.56" />
<path d="M599.5 697.4 L605 697.9 L604.8 699.7 L599.3 699.9 L598.7 701.9 L603.9 703 L603.1 704.8 L597.6 704.3 L596.4 706.2 L601.1 707.8 L599.6 709.5 L594.4 708.5 L592.5 710.2 L596.6 712.3 L594.6 713.7 L589.8 712.2 L587.4 713.6 L590.6 716.2 L588.2 717.4 L584 715.3 L581.1 716.5 L583.4 719.3 L580.6 720.3 L577.2 717.8 L574 718.6 L575.3 721.6 L572.1 722.2 L569.7 719.5 L566.3 719.9 L566.4 723 L563.2 723.3 L561.8 720.3 L558.2 720.4 L557.3 723.4 L554 723.3 L553.7 720.2 L550.1 719.9 L548.2 722.8 L545 722.4 L545.7 719.3 L542.4 718.6 L539.4 721.2 L536.5 720.4 L538.3 717.5 L535.3 716.5 L531.4 718.7 L528.8 717.6 L531.6 715 L529 713.6 L524.5 715.4 L522.3 714.1 L526 711.8 L523.9 710.2 L518.8 711.4 L517.1 709.8 L521.5 708 L520 706.2 L514.6 706.9 L513.5 705.1 L518.5 703.8 L517.7 701.9 L512.1 702 L511.7 700.2 L517.1 699.4 L516.9 697.4 L511.4 696.9 L511.6 695.1 L517.1 694.9 L517.7 692.9 L512.5 691.8 L513.3 690 L518.8 690.5 L520 688.6 L515.3 687 L516.8 685.3 L522 686.3 L523.9 684.6 L519.8 682.5 L521.8 681.1 L526.6 682.6 L529 681.2 L525.8 678.6 L528.2 677.4 L532.4 679.5 L535.3 678.3 L533 675.5 L535.8 674.5 L539.2 677 L542.4 676.2 L541.1 673.2 L544.3 672.6 L546.7 675.3 L550.1 674.9 L550 671.8 L553.2 671.5 L554.6 674.5 L558.2 674.4 L559.1 671.4 L562.4 671.5 L562.7 674.6 L566.3 674.9 L568.2 672 L571.4 672.4 L570.7 675.5 L574 676.2 L577 673.6 L579.9 674.4 L578.1 677.3 L581.1 678.3 L585 676.1 L587.6 677.2 L584.8 679.8 L587.4 681.2 L591.9 679.4 L594.1 680.7 L590.4 683 L592.5 684.6 L597.6 683.4 L599.3 685 L594.9 686.8 L596.4 688.6 L601.8 687.9 L602.9 689.7 L597.9 691 L598.7 692.9 L604.3 692.8 L604.7 694.6 L599.3 695.4Z" stroke-width="1.56" fill="#fff" />
<ellipse cx="558.2" cy="698.8" rx="37.7" ry="21" stroke-width="1.08" fill="none" />
<path d="M547 686.5 L547.1 685.8 L547.3 685.2 L547.6 684.5 L548.1 683.9 L548.7 683.3 L549.4 682.7 L550.2 682.2 L551.1 681.7 L552.2 681.3 L553.2 681 L554.4 680.7 L555.6 680.4 L556.9 680.2 L558.2 680.1 L559.5 680.1 L560.8 680.1 L562.1 680.2 L563.4 680.4 L564.6 680.7 L565.8 681 L566.8 681.3 L567.9 681.7 L568.8 682.2 L569.6 682.7 L570.3 683.3 L570.9 683.9 L571.4 684.5 L571.7 685.2 L571.9 685.8 L572 686.5 L572 702 L571.9 702.7 L571.7 703.3 L571.4 704 L570.9 704.6 L570.3 705.2 L569.6 705.8 L568.8 706.3 L567.9 706.8 L566.8 707.2 L565.8 707.5 L564.6 707.8 L563.4 708.1 L562.1 708.3 L560.8 708.4 L559.5 708.4 L558.2 708.4 L556.9 708.3 L555.6 708.1 L554.4 707.8 L553.2 707.5 L552.2 707.2 L551.1 706.8 L550.2 706.3 L549.4 705.8 L548.7 705.2 L548.1 704.6 L547.6 704 L547.3 703.3 L547.1 702.7 L547 702Z" stroke-width="0.00" fill="#fff" stroke="none"/>
<line x1="547" y1="686.5" x2="547" y2="702" stroke-width="1.69" />
<line x1="572" y1="686.5" x2="572" y2="702" stroke-width="1.69" />
<path d="M572 702 L572 702.5 L571.8 703 L571.7 703.5 L571.4 704 L571 704.4 L570.6 704.9 L570.2 705.3 L569.6 705.8 L569 706.2 L568.3 706.5 L567.6 706.9 L566.8 707.2 L566 707.5 L565.2 707.7 L564.3 707.9 L563.4 708.1 L562.4 708.2 L561.5 708.3 L560.5 708.4 L559.5 708.4 L558.5 708.4 L557.5 708.3 L556.6 708.2 L555.6 708.1 L554.7 707.9 L553.8 707.7 L553 707.5 L552.2 707.2 L551.4 706.9 L550.7 706.5 L550 706.2 L549.4 705.8 L548.8 705.3 L548.4 704.9 L548 704.4 L547.6 704 L547.3 703.5 L547.2 703 L547 702.5 L547 702" stroke-width="1.69" fill="none" />
<ellipse cx="559.5" cy="686.5" rx="12.5" ry="6.4" stroke-width="1.69" fill="#fff" />
<circle cx="559.5" cy="686.5" r="0.8" fill="#000"/>
<ellipse cx="551.2" cy="697" rx="2" ry="2.8" transform="rotate(10 551.2 697)" stroke-width="1.00" fill="none" />
<path d="M522.9 716.3 L541.8 705.5 L542 705.4 L542.2 705.2 L542.3 704.9 L542.4 704.6 L542.4 704.2 L542.4 703.9 L542.3 703.5 L542.2 703.1 L542 702.7 L541.8 702.3 L541.6 701.9 L541.3 701.6 L541 701.3 L540.7 701 L540.4 700.8 L540.1 700.7 L539.8 700.6 L539.5 700.5 L539.2 700.6 L539 700.7 L520.1 711.5Z" stroke-width="0.00" fill="#fff" stroke="none"/>
<path d="M539 700.7 L539.2 700.6 L539.5 700.5 L539.8 700.6 L540.1 700.7 L540.4 700.8 L540.7 701 L541 701.3 L541.3 701.6 L541.6 701.9 L541.8 702.3 L542 702.7 L542.2 703.1 L542.3 703.5 L542.4 703.9 L542.4 704.2 L542.4 704.6 L542.3 704.9 L542.2 705.2 L542 705.4 L541.8 705.5" stroke-width="1.43" fill="none" />
<line x1="522.9" y1="716.3" x2="541.8" y2="705.5" stroke-width="1.43" />
<line x1="520.1" y1="711.5" x2="539" y2="700.7" stroke-width="1.43" />
<ellipse cx="521.5" cy="713.9" rx="1.6" ry="2.8" transform="rotate(-29.7 521.5 713.9)" stroke-width="1.43" fill="#fff" />
<rect x="105.4" y="729" width="75.4" height="70.10000000000002" fill="#fff" stroke="none"/>
<defs><clipPath id="ic"><rect x="105.4" y="729" width="75.4" height="70.1"/></clipPath></defs>
<g clip-path="url(#ic)">
<line x1="105.4" y1="743.2" x2="121.5" y2="751.9" stroke-width="1.95" />
<line x1="148.5" y1="751.9" x2="181" y2="735.1" stroke-width="1.95" />
<line x1="157.5" y1="757" x2="181" y2="744" stroke-width="1.95" />
<path d="M104 752 L111.5 756 Q113 758 112 760 Q108 764 110 770 Q114 779 129 780.5 Q146 781.5 157 772 Q161 765 159 760 Q158 757.5 157.5 757" stroke-width="2.08" fill="none" />
<path d="M104 764 Q106 777 117 782 Q131 787 148 784 L181 799" stroke-width="1.95" fill="none" />
<line x1="151" y1="779" x2="181" y2="791" stroke-width="1.56" />
<rect x="121.5" y="726" width="27" height="42" fill="#fff" stroke="none"/>
<line x1="121.5" y1="726" x2="121.5" y2="768" stroke-width="1.56" />
<line x1="148.5" y1="726" x2="148.5" y2="768" stroke-width="1.56" />
<path d="M148.5 729.2 L147.9 730.2 L146.5 731.1 L144.3 731.9 L141.6 732.5 L138.4 732.9 L135 733 L131.6 732.9 L128.4 732.5 L125.7 731.9 L123.5 731.1 L122.1 730.2 L121.5 729.2" stroke-width="1.43" fill="none" />
<path d="M148.5 732.2 L147.9 733.2 L146.5 734.1 L144.3 734.9 L141.6 735.5 L138.4 735.9 L135 736 L131.6 735.9 L128.4 735.5 L125.7 734.9 L123.5 734.1 L122.1 733.2 L121.5 732.2" stroke-width="1.43" fill="none" />
<path d="M148.5 735.2 L147.9 736.2 L146.5 737.1 L144.3 737.9 L141.6 738.5 L138.4 738.9 L135 739 L131.6 738.9 L128.4 738.5 L125.7 737.9 L123.5 737.1 L122.1 736.2 L121.5 735.2" stroke-width="1.43" fill="none" />
<path d="M148.5 738.2 L147.9 739.2 L146.5 740.1 L144.3 740.9 L141.6 741.5 L138.4 741.9 L135 742 L131.6 741.9 L128.4 741.5 L125.7 740.9 L123.5 740.1 L122.1 739.2 L121.5 738.2" stroke-width="1.43" fill="none" />
<path d="M148.5 741.2 L147.9 742.2 L146.5 743.1 L144.3 743.9 L141.6 744.5 L138.4 744.9 L135 745 L131.6 744.9 L128.4 744.5 L125.7 743.9 L123.5 743.1 L122.1 742.2 L121.5 741.2" stroke-width="1.43" fill="none" />
<path d="M148.5 744.2 L147.9 745.2 L146.5 746.1 L144.3 746.9 L141.6 747.5 L138.4 747.9 L135 748 L131.6 747.9 L128.4 747.5 L125.7 746.9 L123.5 746.1 L122.1 745.2 L121.5 744.2" stroke-width="1.43" fill="none" />
<path d="M148.5 747.2 L147.9 748.2 L146.5 749.1 L144.3 749.9 L141.6 750.5 L138.4 750.9 L135 751 L131.6 750.9 L128.4 750.5 L125.7 749.9 L123.5 749.1 L122.1 748.2 L121.5 747.2" stroke-width="1.43" fill="none" />
<path d="M148.5 750.2 L147.9 751.2 L146.5 752.1 L144.3 752.9 L141.6 753.5 L138.4 753.9 L135 754 L131.6 753.9 L128.4 753.5 L125.7 752.9 L123.5 752.1 L122.1 751.2 L121.5 750.2" stroke-width="1.43" fill="none" />
<path d="M148.5 753.2 L147.9 754.2 L146.5 755.1 L144.3 755.9 L141.6 756.5 L138.4 756.9 L135 757 L131.6 756.9 L128.4 756.5 L125.7 755.9 L123.5 755.1 L122.1 754.2 L121.5 753.2" stroke-width="1.43" fill="none" />
<path d="M148.5 756.2 L147.9 757.2 L146.5 758.1 L144.3 758.9 L141.6 759.5 L138.4 759.9 L135 760 L131.6 759.9 L128.4 759.5 L125.7 758.9 L123.5 758.1 L122.1 757.2 L121.5 756.2" stroke-width="1.43" fill="none" />
<path d="M148.5 759.2 L147.9 760.2 L146.5 761.1 L144.3 761.9 L141.6 762.5 L138.4 762.9 L135 763 L131.6 762.9 L128.4 762.5 L125.7 761.9 L123.5 761.1 L122.1 760.2 L121.5 759.2" stroke-width="1.43" fill="none" />
<path d="M148.5 762.2 L147.9 763.2 L146.5 764.1 L144.3 764.9 L141.6 765.5 L138.4 765.9 L135 766 L131.6 765.9 L128.4 765.5 L125.7 764.9 L123.5 764.1 L122.1 763.2 L121.5 762.2" stroke-width="1.43" fill="none" />
<path d="M148.5 765.2 L147.9 766.2 L146.5 767.1 L144.3 767.9 L141.6 768.5 L138.4 768.9 L135 769 L131.6 768.9 L128.4 768.5 L125.7 767.9 L123.5 767.1 L122.1 766.2 L121.5 765.2" stroke-width="1.43" fill="none" />
<path d="M148.5 768 L148.5 768.4 L148.3 768.8 L148.1 769.1 L147.8 769.5 L147.5 769.8 L147 770.2 L146.5 770.5 L145.9 770.8 L145.3 771.1 L144.5 771.4 L143.8 771.6 L142.9 771.9 L142.1 772.1 L141.1 772.3 L140.2 772.4 L139.2 772.6 L138.2 772.7 L137.1 772.7 L136.1 772.8 L135 772.8 L133.9 772.8 L132.9 772.7 L131.8 772.7 L130.8 772.6 L129.8 772.4 L128.9 772.3 L127.9 772.1 L127.1 771.9 L126.2 771.6 L125.5 771.4 L124.7 771.1 L124.1 770.8 L123.5 770.5 L123 770.2 L122.5 769.8 L122.2 769.5 L121.9 769.1 L121.7 768.8 L121.5 768.4 L121.5 768" stroke-width="2.08" fill="none" />
<path d="M150.3 768.9 L150.1 769.4 L149.8 769.8 L149.5 770.2 L149.1 770.6 L148.6 771 L148 771.4 L147.4 771.7 L146.7 772.1 L145.9 772.4 L145.1 772.7 L144.2 773 L143.3 773.2 L142.4 773.4 L141.4 773.6 L140.4 773.8 L139.3 774 L138.3 774.1 L137.2 774.1 L136.1 774.2 L135 774.2 L133.9 774.2 L132.8 774.1 L131.7 774.1 L130.7 774 L129.6 773.8 L128.6 773.6 L127.6 773.4 L126.7 773.2 L125.8 773 L124.9 772.7 L124.1 772.4 L123.3 772.1 L122.6 771.7 L122 771.4 L121.4 771 L120.9 770.6 L120.5 770.2 L120.2 769.8 L119.9 769.4 L119.7 768.9" stroke-width="1.00" fill="none" />
<ellipse cx="150.5" cy="772.8" rx="4" ry="2.4" stroke-width="1.69" fill="#fff" />
<line x1="154" y1="772" x2="167" y2="769.5" stroke-width="1.00" />
<rect x="167.3" y="767.8" width="10.6" height="7" rx="3" fill="#fff" stroke-width="1.2"/>
<line x1="170" y1="768" x2="170" y2="774.6" stroke-width="1.00" />
<line x1="172.6" y1="768" x2="172.6" y2="774.6" stroke-width="1.00" />
<line x1="175.2" y1="768" x2="175.2" y2="774.6" stroke-width="1.00" />
</g>
<rect x="105.4" y="729" width="75.4" height="70.10000000000002" fill="none" stroke-width="1.6"/>
<path d="M180.8 757.3 L213.1 747.9 L180.8 765.4" stroke-width="1.82" fill="#fff" />
<line x1="180.8" y1="758.3" x2="180.8" y2="764.4" stroke-width="3.38" stroke="#fff"/>
<line x1="86.7" y1="784.2" x2="157.9" y2="772.1" stroke-width="0.80" />
<line x1="517.8" y1="894" x2="560.5" y2="918" stroke-width="0.90" stroke-dasharray="6 3"/>
<line x1="540.2" y1="897" x2="540.2" y2="910" stroke-width="1.00" stroke-dasharray="9 3 2 3"/>
<path d="M529.3 948.2 L536 941 L557.5 926.3 L558.9 923.1 L563.9 919.5 L570.1 915.2 L574.6 926.7 L563.9 933.9 L560.3 933 L539.6 945.5 L536.9 948.2Z" stroke-width="1.05" fill="#fff" />
<path d="M563 922.2 L569.2 920 L572.3 926.2 L565.7 929.5Z" stroke-width="1.05" fill="none" />
<ellipse cx="581" cy="934.7" rx="5.8" ry="8.3" transform="rotate(25 581 934.7)" stroke-width="1.05" fill="#fff" />
<ellipse cx="581" cy="934.7" rx="2.8" ry="4.4" transform="rotate(25 581 934.7)" stroke-width="1.05" fill="none" />
<path d="M590.1 943.3 L600.6 950.3 L601.3 954.7 L608.7 943.7 L604.4 944.7 L593.9 937.7Z" stroke-width="0.00" fill="#fff" stroke="none"/>
<path d="M590.1 943.3 L589.8 942.9 L589.5 942.4 L589.5 941.7 L589.6 941 L589.9 940.2 L590.4 939.4 L590.9 938.7 L591.5 938.1 L592.2 937.7 L592.8 937.5 L593.4 937.5 L593.9 937.7" stroke-width="1.56" fill="#fff" />
<path d="M590.1 943.3 L600.6 950.3 L601.3 954.7" stroke-width="1.56" fill="none" />
<path d="M608.7 943.7 L604.4 944.7 L593.9 937.7" stroke-width="1.56" fill="none" />
<path d="M591.8 944.4 L591.3 943.8 L591.2 942.8 L591.4 941.7 L592 940.5 L592.9 939.5 L593.8 938.8 L594.8 938.6 L595.6 938.8" stroke-width="0.90" fill="none" />
<path d="M593.6 945.7 L593.1 945 L593 944.1 L593.3 942.9 L593.9 941.7 L594.7 940.7 L595.7 940.1 L596.6 939.8 L597.4 940" stroke-width="0.90" fill="none" />
<path d="M595.4 946.9 L595 946.2 L594.8 945.3 L595.1 944.1 L595.7 943 L596.5 942 L597.5 941.3 L598.4 941 L599.2 941.2" stroke-width="0.90" fill="none" />
<path d="M597.3 948.1 L596.8 947.5 L596.7 946.5 L596.9 945.3 L597.5 944.2 L598.4 943.2 L599.3 942.5 L600.3 942.2 L601 942.4" stroke-width="0.90" fill="none" />
<ellipse cx="605" cy="949.2" rx="3.8" ry="6.6" transform="rotate(33.7 605 949.2)" stroke-width="1.56" fill="#fff" />
<ellipse cx="605" cy="949.2" rx="1.9" ry="3.3" transform="rotate(33.7 605 949.2)" stroke-width="0.90" fill="none" />
<line x1="632" y1="37.8" x2="724.5" y2="37.8" stroke-width="0.80" />
<line x1="642.7" y1="68" x2="726.6" y2="68" stroke-width="0.80" />
<line x1="648" y1="127" x2="724" y2="127" stroke-width="0.80" />
<line x1="632" y1="368" x2="722.8" y2="368" stroke-width="0.80" />
<line x1="597.7" y1="723.6" x2="811.8" y2="787.3" stroke-width="0.80" />
<line x1="590.6" y1="741.6" x2="808.2" y2="839.4" stroke-width="0.80" />
<line x1="545" y1="846" x2="733" y2="874.6" stroke-width="0.80" />
<line x1="574" y1="920.6" x2="707.4" y2="894" stroke-width="0.80" />
<line x1="588.9" y1="929.8" x2="702" y2="920.6" stroke-width="0.80" />
<line x1="608.6" y1="950.2" x2="703.7" y2="952" stroke-width="0.80" />
<line x1="526.2" y1="1006" x2="800" y2="1006" stroke-width="0.80" />
<line x1="510.7" y1="1076.8" x2="810" y2="1078" stroke-width="0.80" />
<line x1="547.8" y1="1130" x2="650" y2="1131" stroke-width="0.80" />
<line x1="495.2" y1="1173.4" x2="643" y2="1175" stroke-width="0.80" />
<line x1="492.6" y1="1200.7" x2="643" y2="1202" stroke-width="0.80" />
<line x1="114.8" y1="814.4" x2="210" y2="815.5" stroke-width="0.80" />
<line x1="115" y1="842.8" x2="300" y2="843.5" stroke-width="0.80" />
<line x1="112.8" y1="919.5" x2="197" y2="921" stroke-width="0.80" />
<line x1="112.8" y1="959" x2="347.5" y2="960" stroke-width="0.80" />
<text x="819.8" y="798" font-size="25.3" font-weight="bold" fill="#000" stroke="#000" stroke-width="0.5" transform="translate(826.2 0) scale(0.9 1) translate(-826.2 0)">4</text>
</svg></body></html>
